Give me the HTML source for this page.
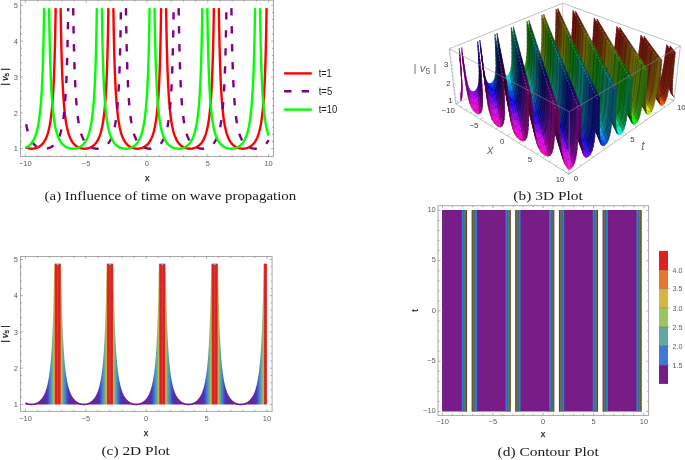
<!DOCTYPE html>
<html><head><meta charset="utf-8"><title>figure</title>
<style>html,body{margin:0;padding:0;background:#fff}svg{display:block}</style></head>
<body>
<svg width="685" height="460" viewBox="0 0 685 460">
<rect width="685" height="460" fill="#fff"/>
<rect x="20.50" y="0.30" width="253.00" height="156.20" fill="none" stroke="#a8a8a8" stroke-width="1"/>
<path d="M25.30 156.50v-2.5M25.30 0.30v2.5M86.12 156.50v-2.5M86.12 0.30v2.5M146.95 156.50v-2.5M146.95 0.30v2.5M207.77 156.50v-2.5M207.77 0.30v2.5M268.60 156.50v-2.5M268.60 0.30v2.5M37.47 156.50v-1.5M37.47 0.30v1.5M49.63 156.50v-1.5M49.63 0.30v1.5M61.79 156.50v-1.5M61.79 0.30v1.5M73.96 156.50v-1.5M73.96 0.30v1.5M98.29 156.50v-1.5M98.29 0.30v1.5M110.45 156.50v-1.5M110.45 0.30v1.5M122.62 156.50v-1.5M122.62 0.30v1.5M134.78 156.50v-1.5M134.78 0.30v1.5M159.11 156.50v-1.5M159.11 0.30v1.5M171.28 156.50v-1.5M171.28 0.30v1.5M183.44 156.50v-1.5M183.44 0.30v1.5M195.61 156.50v-1.5M195.61 0.30v1.5M219.94 156.50v-1.5M219.94 0.30v1.5M232.10 156.50v-1.5M232.10 0.30v1.5M244.27 156.50v-1.5M244.27 0.30v1.5M256.43 156.50v-1.5M256.43 0.30v1.5M20.50 148.70h2.5M273.50 148.70h-2.5M20.50 112.84h2.5M273.50 112.84h-2.5M20.50 76.98h2.5M273.50 76.98h-2.5M20.50 41.12h2.5M273.50 41.12h-2.5M20.50 5.26h2.5M273.50 5.26h-2.5M20.50 141.53h1.5M273.50 141.53h-1.5M20.50 134.36h1.5M273.50 134.36h-1.5M20.50 127.18h1.5M273.50 127.18h-1.5M20.50 120.01h1.5M273.50 120.01h-1.5M20.50 105.67h1.5M273.50 105.67h-1.5M20.50 98.50h1.5M273.50 98.50h-1.5M20.50 91.32h1.5M273.50 91.32h-1.5M20.50 84.15h1.5M273.50 84.15h-1.5M20.50 69.81h1.5M273.50 69.81h-1.5M20.50 62.64h1.5M273.50 62.64h-1.5M20.50 55.46h1.5M273.50 55.46h-1.5M20.50 48.29h1.5M273.50 48.29h-1.5M20.50 33.95h1.5M273.50 33.95h-1.5M20.50 26.78h1.5M273.50 26.78h-1.5M20.50 19.60h1.5M273.50 19.60h-1.5M20.50 12.43h1.5M273.50 12.43h-1.5" stroke="#808080" stroke-width="0.6" fill="none"/>
<text x="25.30" y="166.00" font-size="7.5" text-anchor="middle" fill="#5e5e5e" font-family="Liberation Sans, Arial, sans-serif">−10</text>
<text x="86.12" y="166.00" font-size="7.5" text-anchor="middle" fill="#5e5e5e" font-family="Liberation Sans, Arial, sans-serif">−5</text>
<text x="146.95" y="166.00" font-size="7.5" text-anchor="middle" fill="#5e5e5e" font-family="Liberation Sans, Arial, sans-serif">0</text>
<text x="207.77" y="166.00" font-size="7.5" text-anchor="middle" fill="#5e5e5e" font-family="Liberation Sans, Arial, sans-serif">5</text>
<text x="268.60" y="166.00" font-size="7.5" text-anchor="middle" fill="#5e5e5e" font-family="Liberation Sans, Arial, sans-serif">10</text>
<text x="18.00" y="151.40" font-size="7.5" text-anchor="end" fill="#5e5e5e" font-family="Liberation Sans, Arial, sans-serif">1</text>
<text x="18.00" y="115.54" font-size="7.5" text-anchor="end" fill="#5e5e5e" font-family="Liberation Sans, Arial, sans-serif">2</text>
<text x="18.00" y="79.68" font-size="7.5" text-anchor="end" fill="#5e5e5e" font-family="Liberation Sans, Arial, sans-serif">3</text>
<text x="18.00" y="43.82" font-size="7.5" text-anchor="end" fill="#5e5e5e" font-family="Liberation Sans, Arial, sans-serif">4</text>
<text x="18.00" y="7.96" font-size="7.5" text-anchor="end" fill="#5e5e5e" font-family="Liberation Sans, Arial, sans-serif">5</text>
<text x="147.2" y="180.6" font-size="9" text-anchor="middle" fill="#222" stroke="#222" stroke-width="0.25" font-family="Liberation Sans, Arial, sans-serif">x</text>
<text transform="translate(7.60 76.90) rotate(-90)" font-size="8.7" text-anchor="middle" fill="#222" stroke="#222" stroke-width="0.3" font-family="Liberation Sans, Arial, sans-serif">| <tspan font-style="italic">v</tspan><tspan font-size="6.26" dy="1.6">5</tspan><tspan dy="-1.6"> |</tspan></text>
<path d="M25.30,147.19L25.53,147.31L26.35,147.67L27.17,147.97L28.00,148.22L28.84,148.41L29.67,148.55L30.51,148.65L31.36,148.69L32.20,148.69L33.04,148.65L33.88,148.55L34.72,148.41L35.55,148.22L36.38,147.97L37.21,147.67L38.02,147.31L38.83,146.88L39.63,146.39L40.43,145.83L41.20,145.18L41.97,144.45L42.73,143.62L43.47,142.68L44.20,141.63L44.91,140.44L45.60,139.11L46.28,137.62L46.94,135.95L47.58,134.08L48.21,131.99L48.81,129.65L49.39,127.04L49.95,124.12L50.48,120.87L50.99,117.25L51.48,113.22L51.94,108.76L52.38,103.82L52.79,98.38L53.18,92.42L53.54,85.91L53.87,78.87L54.18,71.33L54.46,63.36L54.71,55.08L54.93,46.64L55.12,38.29L55.28,30.30L55.41,23.04L55.52,16.86L55.59,12.12L55.64,9.15L55.65,8.13L55.65,8.13M60.64,8.13L60.64,8.13L60.65,9.15L60.70,12.12L60.77,16.86L60.88,23.04L61.01,30.30L61.17,38.29L61.36,46.64L61.59,55.08L61.83,63.36L62.11,71.33L62.42,78.87L62.75,85.91L63.11,92.42L63.50,98.38L63.91,103.82L64.35,108.76L64.81,113.22L65.30,117.25L65.81,120.87L66.35,124.12L66.90,127.04L67.48,129.65L68.08,131.99L68.71,134.08L69.35,135.95L70.01,137.62L70.69,139.11L71.38,140.44L72.09,141.63L72.82,142.68L73.56,143.62L74.32,144.45L75.09,145.18L75.87,145.83L76.66,146.39L77.46,146.88L78.27,147.31L79.08,147.67L79.91,147.97L80.74,148.22L81.57,148.41L82.41,148.55L83.25,148.65L84.09,148.69L84.93,148.69L85.78,148.65L86.62,148.55L87.46,148.41L88.29,148.22L89.12,147.97L89.94,147.67L90.76,147.31L91.57,146.88L92.37,146.39L93.16,145.83L93.94,145.18L94.71,144.45L95.46,143.62L96.21,142.68L96.93,141.63L97.64,140.44L98.34,139.11L99.02,137.62L99.68,135.95L100.32,134.08L100.94,131.99L101.54,129.65L102.12,127.04L102.68,124.12L103.22,120.87L103.73,117.25L104.22,113.22L104.68,108.76L105.12,103.82L105.53,98.38L105.92,92.42L106.28,85.91L106.61,78.87L106.91,71.33L107.19,63.36L107.44,55.08L107.66,46.64L107.85,38.29L108.02,30.30L108.15,23.04L108.25,16.86L108.33,12.12L108.37,9.15L108.39,8.13L108.39,8.13M113.38,8.13L113.38,8.13L113.39,9.15L113.43,12.12L113.51,16.86L113.61,23.04L113.75,30.30L113.91,38.29L114.10,46.64L114.32,55.08L114.57,63.36L114.85,71.33L115.15,78.87L115.48,85.91L115.84,92.42L116.23,98.38L116.64,103.82L117.08,108.76L117.55,113.22L118.03,117.25L118.55,120.87L119.08,124.12L119.64,127.04L120.22,129.65L120.82,131.99L121.44,134.08L122.08,135.95L122.74,137.62L123.42,139.11L124.12,140.44L124.83,141.63L125.56,142.68L126.30,143.62L127.05,144.45L127.82,145.18L128.60,145.83L129.39,146.39L130.19,146.88L131.00,147.31L131.82,147.67L132.64,147.97L133.47,148.22L134.31,148.41L135.14,148.55L135.98,148.65L136.83,148.69L137.67,148.69L138.51,148.65L139.35,148.55L140.19,148.41L141.02,148.22L141.85,147.97L142.68,147.67L143.50,147.31L144.30,146.88L145.10,146.39L145.90,145.83L146.68,145.18L147.44,144.45L148.20,143.62L148.94,142.68L149.67,141.63L150.38,140.44L151.08,139.11L151.75,137.62L152.41,135.95L153.06,134.08L153.68,131.99L154.28,129.65L154.86,127.04L155.42,124.12L155.95,120.87L156.46,117.25L156.95,113.22L157.41,108.76L157.85,103.82L158.27,98.38L158.65,92.42L159.01,85.91L159.34,78.87L159.65,71.33L159.93,63.36L160.18,55.08L160.40,46.64L160.59,38.29L160.75,30.30L160.88,23.04L160.99,16.86L161.06,12.12L161.11,9.15L161.12,8.13L161.12,8.13M166.11,8.13L166.11,8.13L166.13,9.15L166.17,12.12L166.24,16.86L166.35,23.04L166.48,30.30L166.64,38.29L166.84,46.64L167.06,55.08L167.30,63.36L167.58,71.33L167.89,78.87L168.22,85.91L168.58,92.42L168.97,98.38L169.38,103.82L169.82,108.76L170.28,113.22L170.77,117.25L171.28,120.87L171.82,124.12L172.37,127.04L172.95,129.65L173.56,131.99L174.18,134.08L174.82,135.95L175.48,137.62L176.16,139.11L176.85,140.44L177.56,141.63L178.29,142.68L179.03,143.62L179.79,144.45L180.56,145.18L181.34,145.83L182.13,146.39L182.93,146.88L183.74,147.31L184.55,147.67L185.38,147.97L186.21,148.22L187.04,148.41L187.88,148.55L188.72,148.65L189.56,148.69L190.41,148.69L191.25,148.65L192.09,148.55L192.93,148.41L193.76,148.22L194.59,147.97L195.41,147.67L196.23,147.31L197.04,146.88L197.84,146.39L198.63,145.83L199.41,145.18L200.18,144.45L200.93,143.62L201.68,142.68L202.40,141.63L203.12,140.44L203.81,139.11L204.49,137.62L205.15,135.95L205.79,134.08L206.41,131.99L207.01,129.65L207.59,127.04L208.15,124.12L208.69,120.87L209.20,117.25L209.69,113.22L210.15,108.76L210.59,103.82L211.00,98.38L211.39,92.42L211.75,85.91L212.08,78.87L212.39,71.33L212.66,63.36L212.91,55.08L213.13,46.64L213.32,38.29L213.49,30.30L213.62,23.04L213.72,16.86L213.80,12.12L213.84,9.15L213.86,8.13L213.86,8.13M218.85,8.13L218.85,8.13L218.86,9.15L218.91,12.12L218.98,16.86L219.08,23.04L219.22,30.30L219.38,38.29L219.57,46.64L219.79,55.08L220.04,63.36L220.32,71.33L220.62,78.87L220.96,85.91L221.32,92.42L221.70,98.38L222.11,103.82L222.55,108.76L223.02,113.22L223.50,117.25L224.02,120.87L224.55,124.12L225.11,127.04L225.69,129.65L226.29,131.99L226.91,134.08L227.55,135.95L228.21,137.62L228.89,139.11L229.59,140.44L230.30,141.63L231.03,142.68L231.77,143.62L232.52,144.45L233.29,145.18L234.07,145.83L234.86,146.39L235.66,146.88L236.47,147.31L237.29,147.67L238.11,147.97L238.94,148.22L239.78,148.41L240.61,148.55L241.46,148.65L242.30,148.69L243.14,148.69L243.98,148.65L244.82,148.55L245.66,148.41L246.50,148.22L247.32,147.97L248.15,147.67L248.97,147.31L249.77,146.88L250.58,146.39L251.37,145.83L252.15,145.18L252.91,144.45L253.67,143.62L254.41,142.68L255.14,141.63L255.85,140.44L256.55,139.11L257.22,137.62L257.88,135.95L258.53,134.08L259.15,131.99L259.75,129.65L260.33,127.04L260.89,124.12L261.42,120.87L261.93,117.25L262.42,113.22L262.88,108.76L263.32,103.82L263.74,98.38L264.12,92.42L264.48,85.91L264.82,78.87L265.12,71.33L265.40,63.36L265.65,55.08L265.87,46.64L266.06,38.29L266.22,30.30L266.35,23.04L266.46,16.86L266.53,12.12L266.58,9.15L266.59,8.13L266.59,8.13" fill="none" stroke="#ff0000" stroke-width="2.4" stroke-linejoin="round"/>
<path d="M25.30,118.60L25.63,120.87L26.16,124.12L26.72,127.04L27.30,129.65L27.90,131.99L28.53,134.08L29.17,135.95L29.83,137.62L30.51,139.11L31.20,140.44L31.91,141.63L32.64,142.68L33.38,143.62L34.14,144.45L34.91,145.18L35.68,145.83L36.48,146.39L37.28,146.88L38.09,147.31L38.90,147.67L39.73,147.97L40.56,148.22L41.39,148.41L42.23,148.55L43.07,148.65L43.91,148.69L44.75,148.69L45.60,148.65L46.44,148.55L47.27,148.41L48.11,148.22L48.94,147.97L49.76,147.67L50.58,147.31L51.39,146.88L52.19,146.39L52.98,145.83L53.76,145.18L54.53,144.45L55.28,143.62L56.02,142.68L56.75,141.63L57.46,140.44L58.16,139.11L58.84,137.62L59.50,135.95L60.14,134.08L60.76,131.99L61.36,129.65L61.94,127.04L62.50,124.12L63.03,120.87L63.55,117.25L64.03,113.22L64.50,108.76L64.94,103.82L65.35,98.38L65.74,92.42L66.10,85.91L66.43,78.87L66.73,71.33L67.01,63.36L67.26,55.08L67.48,46.64L67.67,38.29L67.83,30.30L67.97,23.04L68.07,16.86L68.15,12.12L68.19,9.15L68.21,8.13L68.21,8.13" fill="none" stroke="#800080" stroke-width="2.4" stroke-linejoin="round" stroke-dasharray="7.3 10.7" stroke-dashoffset="12.3"/>
<path d="M73.19,8.13L73.19,8.13L73.21,9.15L73.25,12.12L73.33,16.86L73.43,23.04L73.56,30.30L73.73,38.29L73.92,46.64L74.14,55.08L74.39,63.36L74.67,71.33L74.97,78.87L75.30,85.91L75.66,92.42L76.05,98.38L76.46,103.82L76.90,108.76L77.36,113.22L77.85,117.25L78.36,120.87L78.90,124.12L79.46,127.04L80.04,129.65L80.64,131.99L81.26,134.08L81.90,135.95L82.56,137.62L83.24,139.11L83.94,140.44L84.65,141.63L85.37,142.68L86.12,143.62L86.87,144.45L87.64,145.18L88.42,145.83L89.21,146.39L90.01,146.88L90.82,147.31L91.64,147.67L92.46,147.97L93.29,148.22L94.13,148.41L94.96,148.55L95.80,148.65L96.65,148.69L97.49,148.69L98.33,148.65L99.17,148.55L100.01,148.41L100.84,148.22L101.67,147.97L102.50,147.67L103.31,147.31L104.12,146.88L104.92,146.39L105.71,145.83L106.49,145.18L107.26,144.45L108.02,143.62L108.76,142.68L109.49,141.63L110.20,140.44L110.89,139.11L111.57,137.62L112.23,135.95L112.87,134.08L113.50,131.99L114.10,129.65L114.68,127.04L115.23,124.12L115.77,120.87L116.28,117.25L116.77,113.22L117.23,108.76L117.67,103.82L118.08,98.38L118.47,92.42L118.83,85.91L119.16,78.87L119.47,71.33L119.75,63.36L120.00,55.08L120.22,46.64L120.41,38.29L120.57,30.30L120.70,23.04L120.81,16.86L120.88,12.12L120.93,9.15L120.94,8.13L120.94,8.13M125.93,8.13L125.93,8.13L125.94,9.15L125.99,12.12L126.06,16.86L126.17,23.04L126.30,30.30L126.46,38.29L126.65,46.64L126.87,55.08L127.12,63.36L127.40,71.33L127.71,78.87L128.04,85.91L128.40,92.42L128.79,98.38L129.20,103.82L129.64,108.76L130.10,113.22L130.59,117.25L131.10,120.87L131.64,124.12L132.19,127.04L132.77,129.65L133.37,131.99L134.00,134.08L134.64,135.95L135.30,137.62L135.98,139.11L136.67,140.44L137.38,141.63L138.11,142.68L138.85,143.62L139.61,144.45L140.38,145.18L141.16,145.83L141.95,146.39L142.75,146.88L143.56,147.31L144.37,147.67L145.20,147.97L146.03,148.22L146.86,148.41L147.70,148.55L148.54,148.65L149.38,148.69L150.22,148.69L151.07,148.65L151.91,148.55L152.74,148.41L153.58,148.22L154.41,147.97L155.23,147.67L156.05,147.31L156.86,146.88L157.66,146.39L158.45,145.83L159.23,145.18L160.00,144.45L160.75,143.62L161.50,142.68L162.22,141.63L162.93,140.44L163.63,139.11L164.31,137.62L164.97,135.95L165.61,134.08L166.23,131.99L166.83,129.65L167.41,127.04L167.97,124.12L168.51,120.87L169.02,117.25L169.51,113.22L169.97,108.76L170.41,103.82L170.82,98.38L171.21,92.42L171.57,85.91L171.90,78.87L172.20,71.33L172.48,63.36L172.73,55.08L172.95,46.64L173.14,38.29L173.31,30.30L173.44,23.04L173.54,16.86L173.62,12.12L173.66,9.15L173.68,8.13L173.68,8.13M178.66,8.13L178.66,8.13L178.68,9.15L178.72,12.12L178.80,16.86L178.90,23.04L179.04,30.30L179.20,38.29L179.39,46.64L179.61,55.08L179.86,63.36L180.14,71.33L180.44,78.87L180.77,85.91L181.13,92.42L181.52,98.38L181.93,103.82L182.37,108.76L182.84,113.22L183.32,117.25L183.84,120.87L184.37,124.12L184.93,127.04L185.51,129.65L186.11,131.99L186.73,134.08L187.37,135.95L188.03,137.62L188.71,139.11L189.41,140.44L190.12,141.63L190.85,142.68L191.59,143.62L192.34,144.45L193.11,145.18L193.89,145.83L194.68,146.39L195.48,146.88L196.29,147.31L197.11,147.67L197.93,147.97L198.76,148.22L199.60,148.41L200.43,148.55L201.27,148.65L202.12,148.69L202.96,148.69L203.80,148.65L204.64,148.55L205.48,148.41L206.31,148.22L207.14,147.97L207.97,147.67L208.78,147.31L209.59,146.88L210.39,146.39L211.19,145.83L211.97,145.18L212.73,144.45L213.49,143.62L214.23,142.68L214.96,141.63L215.67,140.44L216.37,139.11L217.04,137.62L217.70,135.95L218.34,134.08L218.97,131.99L219.57,129.65L220.15,127.04L220.71,124.12L221.24,120.87L221.75,117.25L222.24,113.22L222.70,108.76L223.14,103.82L223.56,98.38L223.94,92.42L224.30,85.91L224.63,78.87L224.94,71.33L225.22,63.36L225.47,55.08L225.69,46.64L225.88,38.29L226.04,30.30L226.17,23.04L226.28,16.86L226.35,12.12L226.40,9.15L226.41,8.13L226.41,8.13M231.40,8.13L231.40,8.13L231.41,9.15L231.46,12.12L231.53,16.86L231.64,23.04L231.77,30.30L231.93,38.29L232.12,46.64L232.35,55.08L232.59,63.36L232.87,71.33L233.18,78.87L233.51,85.91L233.87,92.42L234.26,98.38L234.67,103.82L235.11,108.76L235.57,113.22L236.06,117.25L236.57,120.87L237.11,124.12L237.66,127.04L238.24,129.65L238.84,131.99L239.47,134.08L240.11,135.95L240.77,137.62L241.45,139.11L242.14,140.44L242.85,141.63L243.58,142.68L244.32,143.62L245.08,144.45L245.85,145.18L246.63,145.83L247.42,146.39L248.22,146.88L249.03,147.31L249.84,147.67L250.67,147.97L251.50,148.22L252.33,148.41L253.17,148.55L254.01,148.65L254.85,148.69L255.69,148.69L256.54,148.65L257.38,148.55L258.22,148.41L259.05,148.22L259.88,147.97L260.70,147.67L261.52,147.31L262.33,146.88L263.13,146.39L263.92,145.83L264.70,145.18L265.47,144.45L266.22,143.62L266.97,142.68L267.69,141.63L268.40,140.44L268.60,140.09" fill="none" stroke="#800080" stroke-width="2.4" stroke-linejoin="round" stroke-dasharray="7.3 10.7"/>
<path d="M25.30,147.81L25.66,147.67L26.48,147.31L27.29,146.88L28.09,146.39L28.88,145.83L29.66,145.18L30.43,144.45L31.18,143.62L31.93,142.68L32.65,141.63L33.36,140.44L34.06,139.11L34.74,137.62L35.40,135.95L36.04,134.08L36.66,131.99L37.26,129.65L37.84,127.04L38.40,124.12L38.94,120.87L39.45,117.25L39.94,113.22L40.40,108.76L40.84,103.82L41.25,98.38L41.64,92.42L42.00,85.91L42.33,78.87L42.63,71.33L42.91,63.36L43.16,55.08L43.38,46.64L43.57,38.29L43.74,30.30L43.87,23.04L43.97,16.86L44.05,12.12L44.09,9.15L44.11,8.13L44.11,8.13M49.10,8.13L49.10,8.13L49.11,9.15L49.15,12.12L49.23,16.86L49.33,23.04L49.47,30.30L49.63,38.29L49.82,46.64L50.04,55.08L50.29,63.36L50.57,71.33L50.87,78.87L51.21,85.91L51.56,92.42L51.95,98.38L52.36,103.82L52.80,108.76L53.27,113.22L53.75,117.25L54.27,120.87L54.80,124.12L55.36,127.04L55.94,129.65L56.54,131.99L57.16,134.08L57.80,135.95L58.46,137.62L59.14,139.11L59.84,140.44L60.55,141.63L61.28,142.68L62.02,143.62L62.77,144.45L63.54,145.18L64.32,145.83L65.11,146.39L65.91,146.88L66.72,147.31L67.54,147.67L68.36,147.97L69.19,148.22L70.03,148.41L70.86,148.55L71.71,148.65L72.55,148.69L73.39,148.69L74.23,148.65L75.07,148.55L75.91,148.41L76.74,148.22L77.57,147.97L78.40,147.67L79.22,147.31L80.02,146.88L80.83,146.39L81.62,145.83L82.40,145.18L83.16,144.45L83.92,143.62L84.66,142.68L85.39,141.63L86.10,140.44L86.80,139.11L87.47,137.62L88.13,135.95L88.78,134.08L89.40,131.99L90.00,129.65L90.58,127.04L91.14,124.12L91.67,120.87L92.18,117.25L92.67,113.22L93.13,108.76L93.57,103.82L93.99,98.38L94.37,92.42L94.73,85.91L95.06,78.87L95.37,71.33L95.65,63.36L95.90,55.08L96.12,46.64L96.31,38.29L96.47,30.30L96.60,23.04L96.71,16.86L96.78,12.12L96.83,9.15L96.84,8.13L96.84,8.13M101.83,8.13L101.83,8.13L101.85,9.15L101.89,12.12L101.96,16.86L102.07,23.04L102.20,30.30L102.36,38.29L102.56,46.64L102.78,55.08L103.03,63.36L103.30,71.33L103.61,78.87L103.94,85.91L104.30,92.42L104.69,98.38L105.10,103.82L105.54,108.76L106.00,113.22L106.49,117.25L107.00,120.87L107.54,124.12L108.09,127.04L108.67,129.65L109.28,131.99L109.90,134.08L110.54,135.95L111.20,137.62L111.88,139.11L112.57,140.44L113.28,141.63L114.01,142.68L114.75,143.62L115.51,144.45L116.28,145.18L117.06,145.83L117.85,146.39L118.65,146.88L119.46,147.31L120.27,147.67L121.10,147.97L121.93,148.22L122.76,148.41L123.60,148.55L124.44,148.65L125.28,148.69L126.13,148.69L126.97,148.65L127.81,148.55L128.65,148.41L129.48,148.22L130.31,147.97L131.13,147.67L131.95,147.31L132.76,146.88L133.56,146.39L134.35,145.83L135.13,145.18L135.90,144.45L136.65,143.62L137.40,142.68L138.12,141.63L138.84,140.44L139.53,139.11L140.21,137.62L140.87,135.95L141.51,134.08L142.13,131.99L142.73,129.65L143.31,127.04L143.87,124.12L144.41,120.87L144.92,117.25L145.41,113.22L145.87,108.76L146.31,103.82L146.72,98.38L147.11,92.42L147.47,85.91L147.80,78.87L148.11,71.33L148.38,63.36L148.63,55.08L148.85,46.64L149.04,38.29L149.21,30.30L149.34,23.04L149.44,16.86L149.52,12.12L149.56,9.15L149.58,8.13L149.58,8.13M154.57,8.13L154.57,8.13L154.58,9.15L154.63,12.12L154.70,16.86L154.80,23.04L154.94,30.30L155.10,38.29L155.29,46.64L155.51,55.08L155.76,63.36L156.04,71.33L156.34,78.87L156.68,85.91L157.04,92.42L157.42,98.38L157.83,103.82L158.27,108.76L158.74,113.22L159.22,117.25L159.74,120.87L160.27,124.12L160.83,127.04L161.41,129.65L162.01,131.99L162.63,134.08L163.27,135.95L163.93,137.62L164.61,139.11L165.31,140.44L166.02,141.63L166.75,142.68L167.49,143.62L168.24,144.45L169.01,145.18L169.79,145.83L170.58,146.39L171.38,146.88L172.19,147.31L173.01,147.67L173.83,147.97L174.66,148.22L175.50,148.41L176.34,148.55L177.18,148.65L178.02,148.69L178.86,148.69L179.70,148.65L180.54,148.55L181.38,148.41L182.22,148.22L183.04,147.97L183.87,147.67L184.69,147.31L185.50,146.88L186.30,146.39L187.09,145.83L187.87,145.18L188.63,144.45L189.39,143.62L190.13,142.68L190.86,141.63L191.57,140.44L192.27,139.11L192.94,137.62L193.60,135.95L194.25,134.08L194.87,131.99L195.47,129.65L196.05,127.04L196.61,124.12L197.14,120.87L197.65,117.25L198.14,113.22L198.61,108.76L199.04,103.82L199.46,98.38L199.84,92.42L200.20,85.91L200.54,78.87L200.84,71.33L201.12,63.36L201.37,55.08L201.59,46.64L201.78,38.29L201.94,30.30L202.07,23.04L202.18,16.86L202.25,12.12L202.30,9.15L202.31,8.13L202.31,8.13M207.30,8.13L207.30,8.13L207.32,9.15L207.36,12.12L207.43,16.86L207.54,23.04L207.67,30.30L207.83,38.29L208.03,46.64L208.25,55.08L208.50,63.36L208.77,71.33L209.08,78.87L209.41,85.91L209.77,92.42L210.16,98.38L210.57,103.82L211.01,108.76L211.47,113.22L211.96,117.25L212.47,120.87L213.01,124.12L213.57,127.04L214.15,129.65L214.75,131.99L215.37,134.08L216.01,135.95L216.67,137.62L217.35,139.11L218.04,140.44L218.75,141.63L219.48,142.68L220.22,143.62L220.98,144.45L221.75,145.18L222.53,145.83L223.32,146.39L224.12,146.88L224.93,147.31L225.74,147.67L226.57,147.97L227.40,148.22L228.23,148.41L229.07,148.55L229.91,148.65L230.75,148.69L231.60,148.69L232.44,148.65L233.28,148.55L234.12,148.41L234.95,148.22L235.78,147.97L236.60,147.67L237.42,147.31L238.23,146.88L239.03,146.39L239.82,145.83L240.60,145.18L241.37,144.45L242.13,143.62L242.87,142.68L243.59,141.63L244.31,140.44L245.00,139.11L245.68,137.62L246.34,135.95L246.98,134.08L247.60,131.99L248.20,129.65L248.78,127.04L249.34,124.12L249.88,120.87L250.39,117.25L250.88,113.22L251.34,108.76L251.78,103.82L252.19,98.38L252.58,92.42L252.94,85.91L253.27,78.87L253.58,71.33L253.85,63.36L254.10,55.08L254.32,46.64L254.51,38.29L254.68,30.30L254.81,23.04L254.91,16.86L254.99,12.12L255.03,9.15L255.05,8.13L255.05,8.13M260.04,8.13L260.04,8.13L260.05,9.15L260.10,12.12L260.17,16.86L260.27,23.04L260.41,30.30L260.57,38.29L260.76,46.64L260.98,55.08L261.23,63.36L261.51,71.33L261.81,78.87L262.15,85.91L262.51,92.42L262.89,98.38L263.31,103.82L263.74,108.76L264.21,113.22L264.70,117.25L265.21,120.87L265.74,124.12L266.30,127.04L266.88,129.65L267.48,131.99L268.10,134.08L268.60,135.55" fill="none" stroke="#00ff00" stroke-width="2.4" stroke-linejoin="round"/>
<path d="M284.1 73.4H311.8" stroke="#ff0000" stroke-width="2.4"/>
<text x="318.7" y="76.9" font-size="10" textLength="13.0" lengthAdjust="spacingAndGlyphs" fill="#1a1a1a" font-family="Liberation Sans, Arial, sans-serif">t=1</text>
<path d="M284.1 91.3H311.8" stroke="#800080" stroke-width="2.4" stroke-dasharray="7.4 10.2"/>
<text x="318.7" y="94.8" font-size="10" textLength="13.6" lengthAdjust="spacingAndGlyphs" fill="#1a1a1a" font-family="Liberation Sans, Arial, sans-serif">t=5</text>
<path d="M284.1 109.6H311.8" stroke="#00ff00" stroke-width="2.4"/>
<text x="318.7" y="113.1" font-size="10" textLength="18.6" lengthAdjust="spacingAndGlyphs" fill="#1a1a1a" font-family="Liberation Sans, Arial, sans-serif">t=10</text>
<text x="44.6" y="199.7" font-size="12.5" textLength="251.6" lengthAdjust="spacingAndGlyphs" fill="#1a1a1a" font-family="Liberation Serif, Times New Roman, serif">(a) Influence of time on wave propagation</text>
<defs><linearGradient id="gc" gradientUnits="userSpaceOnUse" x1="57.67" y1="0" x2="109.99" y2="0" spreadMethod="repeat"><stop offset="0.0000" stop-color="#db2122"/><stop offset="0.0125" stop-color="#db2122"/><stop offset="0.0250" stop-color="#db2122"/><stop offset="0.0375" stop-color="#db2122"/><stop offset="0.0500" stop-color="#dd2d23"/><stop offset="0.0625" stop-color="#dfa139"/><stop offset="0.0750" stop-color="#aebd55"/><stop offset="0.0875" stop-color="#81b978"/><stop offset="0.1000" stop-color="#6aae91"/><stop offset="0.1125" stop-color="#5ca4a6"/><stop offset="0.1250" stop-color="#5197b8"/><stop offset="0.1375" stop-color="#498ac6"/><stop offset="0.1500" stop-color="#427ed0"/><stop offset="0.1625" stop-color="#4569c9"/><stop offset="0.1750" stop-color="#4657c4"/><stop offset="0.1875" stop-color="#4848bf"/><stop offset="0.2000" stop-color="#493bba"/><stop offset="0.2125" stop-color="#4c32b6"/><stop offset="0.2250" stop-color="#522fb0"/><stop offset="0.2375" stop-color="#572daa"/><stop offset="0.2500" stop-color="#5b2aa5"/><stop offset="0.2625" stop-color="#5f28a1"/><stop offset="0.2750" stop-color="#62279e"/><stop offset="0.2875" stop-color="#65259a"/><stop offset="0.3000" stop-color="#682498"/><stop offset="0.3125" stop-color="#6a2395"/><stop offset="0.3250" stop-color="#6c2293"/><stop offset="0.3375" stop-color="#6e2191"/><stop offset="0.3500" stop-color="#70208f"/><stop offset="0.3625" stop-color="#711f8e"/><stop offset="0.3750" stop-color="#731f8c"/><stop offset="0.3875" stop-color="#741e8b"/><stop offset="0.4000" stop-color="#751e8a"/><stop offset="0.4125" stop-color="#761d89"/><stop offset="0.4250" stop-color="#761d88"/><stop offset="0.4375" stop-color="#771c88"/><stop offset="0.4500" stop-color="#771c87"/><stop offset="0.4625" stop-color="#781c87"/><stop offset="0.4750" stop-color="#781c87"/><stop offset="0.4875" stop-color="#781c86"/><stop offset="0.5000" stop-color="#781c86"/><stop offset="0.5125" stop-color="#781c86"/><stop offset="0.5250" stop-color="#781c87"/><stop offset="0.5375" stop-color="#781c87"/><stop offset="0.5500" stop-color="#771c87"/><stop offset="0.5625" stop-color="#771c88"/><stop offset="0.5750" stop-color="#761d88"/><stop offset="0.5875" stop-color="#761d89"/><stop offset="0.6000" stop-color="#751e8a"/><stop offset="0.6125" stop-color="#741e8b"/><stop offset="0.6250" stop-color="#731f8c"/><stop offset="0.6375" stop-color="#711f8e"/><stop offset="0.6500" stop-color="#70208f"/><stop offset="0.6625" stop-color="#6e2191"/><stop offset="0.6750" stop-color="#6c2293"/><stop offset="0.6875" stop-color="#6a2395"/><stop offset="0.7000" stop-color="#682498"/><stop offset="0.7125" stop-color="#65259a"/><stop offset="0.7250" stop-color="#62279e"/><stop offset="0.7375" stop-color="#5f28a1"/><stop offset="0.7500" stop-color="#5b2aa5"/><stop offset="0.7625" stop-color="#572daa"/><stop offset="0.7750" stop-color="#522fb0"/><stop offset="0.7875" stop-color="#4c32b6"/><stop offset="0.8000" stop-color="#493bba"/><stop offset="0.8125" stop-color="#4848bf"/><stop offset="0.8250" stop-color="#4657c4"/><stop offset="0.8375" stop-color="#4569c9"/><stop offset="0.8500" stop-color="#427ed0"/><stop offset="0.8625" stop-color="#498ac6"/><stop offset="0.8750" stop-color="#5197b8"/><stop offset="0.8875" stop-color="#5ca4a6"/><stop offset="0.9000" stop-color="#6aae91"/><stop offset="0.9125" stop-color="#81b978"/><stop offset="0.9250" stop-color="#aebd55"/><stop offset="0.9375" stop-color="#dfa139"/><stop offset="0.9500" stop-color="#dd2d23"/><stop offset="0.9625" stop-color="#db2122"/><stop offset="0.9750" stop-color="#db2122"/><stop offset="0.9875" stop-color="#db2122"/><stop offset="1.0000" stop-color="#db2122"/></linearGradient></defs>
<path d="M25.50,404.40L25.50,403.01L26.14,403.31L26.95,403.62L27.77,403.89L28.60,404.09L29.43,404.24L30.26,404.34L31.09,404.39L31.92,404.39L32.75,404.34L33.58,404.24L34.41,404.09L35.24,403.89L36.06,403.62L36.87,403.31L37.68,402.92L38.48,402.48L39.27,401.96L40.05,401.36L40.82,400.68L41.58,399.91L42.33,399.04L43.06,398.06L43.78,396.95L44.48,395.71L45.17,394.32L45.84,392.77L46.49,391.03L47.13,389.09L47.74,386.93L48.34,384.51L48.91,381.82L49.46,378.83L49.99,375.50L50.50,371.80L50.98,367.70L51.44,363.16L51.87,358.16L52.28,352.66L52.66,346.66L53.02,340.13L53.34,333.10L53.65,325.59L53.92,317.69L54.17,309.50L54.38,301.21L54.57,293.02L54.73,285.23L54.87,278.17L54.97,272.18L55.04,267.61L55.09,264.73L55.10,263.75L55.10,263.75L55.10,404.40ZM60.23,404.40L60.23,263.75L60.23,263.75L60.25,264.73L60.29,267.61L60.36,272.18L60.47,278.17L60.60,285.23L60.76,293.02L60.95,301.21L61.17,309.50L61.41,317.69L61.69,325.59L61.99,333.10L62.32,340.13L62.67,346.66L63.06,352.66L63.46,358.16L63.90,363.16L64.35,367.70L64.84,371.80L65.34,375.50L65.87,378.83L66.42,381.82L67.00,384.51L67.59,386.93L68.21,389.09L68.84,391.03L69.49,392.77L70.16,394.32L70.85,395.71L71.55,396.95L72.27,398.06L73.00,399.04L73.75,399.91L74.51,400.68L75.28,401.36L76.06,401.96L76.85,402.48L77.65,402.92L78.46,403.31L79.28,403.62L80.10,403.89L80.92,404.09L81.75,404.24L82.58,404.34L83.41,404.39L84.24,404.39L85.08,404.34L85.91,404.24L86.74,404.09L87.56,403.89L88.38,403.62L89.19,403.31L90.00,402.92L90.80,402.48L91.59,401.96L92.38,401.36L93.15,400.68L93.91,399.91L94.65,399.04L95.39,398.06L96.10,396.95L96.81,395.71L97.49,394.32L98.17,392.77L98.82,391.03L99.45,389.09L100.07,386.93L100.66,384.51L101.23,381.82L101.78,378.83L102.31,375.50L102.82,371.80L103.30,367.70L103.76,363.16L104.19,358.16L104.60,352.66L104.98,346.66L105.34,340.13L105.67,333.10L105.97,325.59L106.24,317.69L106.49,309.50L106.71,301.21L106.90,293.02L107.06,285.23L107.19,278.17L107.29,272.18L107.37,267.61L107.41,264.73L107.42,263.75L107.42,263.75L107.42,404.40ZM112.56,404.40L112.56,263.75L112.56,263.75L112.57,264.73L112.61,267.61L112.69,272.18L112.79,278.17L112.92,285.23L113.08,293.02L113.27,301.21L113.49,309.50L113.74,317.69L114.01,325.59L114.31,333.10L114.64,340.13L115.00,346.66L115.38,352.66L115.79,358.16L116.22,363.16L116.68,367.70L117.16,371.80L117.67,375.50L118.20,378.83L118.75,381.82L119.32,384.51L119.91,386.93L120.53,389.09L121.16,391.03L121.81,392.77L122.49,394.32L123.17,395.71L123.88,396.95L124.59,398.06L125.33,399.04L126.07,399.91L126.83,400.68L127.60,401.36L128.39,401.96L129.18,402.48L129.98,402.92L130.79,403.31L131.60,403.62L132.42,403.89L133.24,404.09L134.07,404.24L134.90,404.34L135.74,404.39L136.57,404.39L137.40,404.34L138.23,404.24L139.06,404.09L139.88,403.89L140.70,403.62L141.52,403.31L142.33,402.92L143.13,402.48L143.92,401.96L144.70,401.36L145.47,400.68L146.23,399.91L146.98,399.04L147.71,398.06L148.43,396.95L149.13,395.71L149.82,394.32L150.49,392.77L151.14,391.03L151.77,389.09L152.39,386.93L152.98,384.51L153.56,381.82L154.11,378.83L154.64,375.50L155.14,371.80L155.63,367.70L156.08,363.16L156.52,358.16L156.92,352.66L157.31,346.66L157.66,340.13L157.99,333.10L158.29,325.59L158.57,317.69L158.81,309.50L159.03,301.21L159.22,293.02L159.38,285.23L159.51,278.17L159.62,272.18L159.69,267.61L159.73,264.73L159.75,263.75L159.75,263.75L159.75,404.40ZM164.88,404.40L164.88,263.75L164.88,263.75L164.89,264.73L164.94,267.61L165.01,272.18L165.11,278.17L165.25,285.23L165.41,293.02L165.60,301.21L165.81,309.50L166.06,317.69L166.33,325.59L166.64,333.10L166.96,340.13L167.32,346.66L167.70,352.66L168.11,358.16L168.54,363.16L169.00,367.70L169.48,371.80L169.99,375.50L170.52,378.83L171.07,381.82L171.64,384.51L172.24,386.93L172.85,389.09L173.49,391.03L174.14,392.77L174.81,394.32L175.50,395.71L176.20,396.95L176.92,398.06L177.65,399.04L178.40,399.91L179.16,400.68L179.93,401.36L180.71,401.96L181.50,402.48L182.30,402.92L183.11,403.31L183.92,403.62L184.74,403.89L185.57,404.09L186.40,404.24L187.23,404.34L188.06,404.39L188.89,404.39L189.72,404.34L190.55,404.24L191.38,404.09L192.21,403.89L193.03,403.62L193.84,403.31L194.65,402.92L195.45,402.48L196.24,401.96L197.02,401.36L197.79,400.68L198.55,399.91L199.30,399.04L200.03,398.06L200.75,396.95L201.45,395.71L202.14,394.32L202.81,392.77L203.46,391.03L204.10,389.09L204.71,386.93L205.31,384.51L205.88,381.82L206.43,378.83L206.96,375.50L207.47,371.80L207.95,367.70L208.41,363.16L208.84,358.16L209.25,352.66L209.63,346.66L209.99,340.13L210.31,333.10L210.62,325.59L210.89,317.69L211.14,309.50L211.35,301.21L211.54,293.02L211.70,285.23L211.84,278.17L211.94,272.18L212.01,267.61L212.06,264.73L212.07,263.75L212.07,263.75L212.07,404.40ZM217.20,404.40L217.20,263.75L217.20,263.75L217.22,264.73L217.26,267.61L217.33,272.18L217.44,278.17L217.57,285.23L217.73,293.02L217.92,301.21L218.14,309.50L218.38,317.69L218.66,325.59L218.96,333.10L219.29,340.13L219.64,346.66L220.03,352.66L220.43,358.16L220.87,363.16L221.32,367.70L221.81,371.80L222.31,375.50L222.84,378.83L223.39,381.82L223.97,384.51L224.56,386.93L225.18,389.09L225.81,391.03L226.46,392.77L227.13,394.32L227.82,395.71L228.52,396.95L229.24,398.06L229.97,399.04L230.72,399.91L231.48,400.68L232.25,401.36L233.03,401.96L233.82,402.48L234.62,402.92L235.43,403.31L236.25,403.62L237.07,403.89L237.89,404.09L238.72,404.24L239.55,404.34L240.38,404.39L241.22,404.39L242.05,404.34L242.88,404.24L243.71,404.09L244.53,403.89L245.35,403.62L246.17,403.31L246.97,402.92L247.77,402.48L248.56,401.96L249.35,401.36L250.12,400.68L250.88,399.91L251.62,399.04L252.36,398.06L253.07,396.95L253.78,395.71L254.47,394.32L255.14,392.77L255.79,391.03L256.42,389.09L257.04,386.93L257.63,384.51L258.20,381.82L258.75,378.83L259.28,375.50L259.79,371.80L260.27,367.70L260.73,363.16L261.16,358.16L261.57,352.66L261.95,346.66L262.31,340.13L262.64,333.10L262.94,325.59L263.21,317.69L263.46,309.50L263.68,301.21L263.87,293.02L264.03,285.23L264.16,278.17L264.26,272.18L264.34,267.61L264.38,264.73L264.39,263.75L264.39,263.75L264.39,404.40ZM55.10,404.40V263.75H60.23V404.40ZM107.42,404.40V263.75H112.56V404.40ZM159.75,404.40V263.75H164.88V404.40ZM212.07,404.40V263.75H217.20V404.40ZM264.39,404.40V263.75H266.90V404.40Z" fill="url(#gc)" stroke="none"/>
<path d="M25.50,403.01L26.14,403.31L26.95,403.62L27.77,403.89L28.60,404.09L29.43,404.24L30.26,404.34L31.09,404.39L31.92,404.39L32.75,404.34L33.58,404.24L34.41,404.09L35.24,403.89L36.06,403.62L36.87,403.31L37.68,402.92L38.48,402.48L39.27,401.96L40.05,401.36L40.82,400.68L41.58,399.91L42.33,399.04L43.06,398.06L43.78,396.95L44.48,395.71L45.17,394.32L45.84,392.77L46.49,391.03L47.13,389.09L47.74,386.93L48.34,384.51L48.91,381.82L49.46,378.83L49.99,375.50L50.50,371.80L50.98,367.70L51.44,363.16L51.87,358.16L52.28,352.66L52.66,346.66L53.02,340.13L53.34,333.10L53.65,325.59L53.92,317.69L54.17,309.50L54.38,301.21L54.57,293.02L54.73,285.23L54.87,278.17L54.97,272.18L55.04,267.61L55.09,264.73L55.10,263.75L55.10,263.75M60.23,263.75L60.23,263.75L60.25,264.73L60.29,267.61L60.36,272.18L60.47,278.17L60.60,285.23L60.76,293.02L60.95,301.21L61.17,309.50L61.41,317.69L61.69,325.59L61.99,333.10L62.32,340.13L62.67,346.66L63.06,352.66L63.46,358.16L63.90,363.16L64.35,367.70L64.84,371.80L65.34,375.50L65.87,378.83L66.42,381.82L67.00,384.51L67.59,386.93L68.21,389.09L68.84,391.03L69.49,392.77L70.16,394.32L70.85,395.71L71.55,396.95L72.27,398.06L73.00,399.04L73.75,399.91L74.51,400.68L75.28,401.36L76.06,401.96L76.85,402.48L77.65,402.92L78.46,403.31L79.28,403.62L80.10,403.89L80.92,404.09L81.75,404.24L82.58,404.34L83.41,404.39L84.24,404.39L85.08,404.34L85.91,404.24L86.74,404.09L87.56,403.89L88.38,403.62L89.19,403.31L90.00,402.92L90.80,402.48L91.59,401.96L92.38,401.36L93.15,400.68L93.91,399.91L94.65,399.04L95.39,398.06L96.10,396.95L96.81,395.71L97.49,394.32L98.17,392.77L98.82,391.03L99.45,389.09L100.07,386.93L100.66,384.51L101.23,381.82L101.78,378.83L102.31,375.50L102.82,371.80L103.30,367.70L103.76,363.16L104.19,358.16L104.60,352.66L104.98,346.66L105.34,340.13L105.67,333.10L105.97,325.59L106.24,317.69L106.49,309.50L106.71,301.21L106.90,293.02L107.06,285.23L107.19,278.17L107.29,272.18L107.37,267.61L107.41,264.73L107.42,263.75L107.42,263.75M112.56,263.75L112.56,263.75L112.57,264.73L112.61,267.61L112.69,272.18L112.79,278.17L112.92,285.23L113.08,293.02L113.27,301.21L113.49,309.50L113.74,317.69L114.01,325.59L114.31,333.10L114.64,340.13L115.00,346.66L115.38,352.66L115.79,358.16L116.22,363.16L116.68,367.70L117.16,371.80L117.67,375.50L118.20,378.83L118.75,381.82L119.32,384.51L119.91,386.93L120.53,389.09L121.16,391.03L121.81,392.77L122.49,394.32L123.17,395.71L123.88,396.95L124.59,398.06L125.33,399.04L126.07,399.91L126.83,400.68L127.60,401.36L128.39,401.96L129.18,402.48L129.98,402.92L130.79,403.31L131.60,403.62L132.42,403.89L133.24,404.09L134.07,404.24L134.90,404.34L135.74,404.39L136.57,404.39L137.40,404.34L138.23,404.24L139.06,404.09L139.88,403.89L140.70,403.62L141.52,403.31L142.33,402.92L143.13,402.48L143.92,401.96L144.70,401.36L145.47,400.68L146.23,399.91L146.98,399.04L147.71,398.06L148.43,396.95L149.13,395.71L149.82,394.32L150.49,392.77L151.14,391.03L151.77,389.09L152.39,386.93L152.98,384.51L153.56,381.82L154.11,378.83L154.64,375.50L155.14,371.80L155.63,367.70L156.08,363.16L156.52,358.16L156.92,352.66L157.31,346.66L157.66,340.13L157.99,333.10L158.29,325.59L158.57,317.69L158.81,309.50L159.03,301.21L159.22,293.02L159.38,285.23L159.51,278.17L159.62,272.18L159.69,267.61L159.73,264.73L159.75,263.75L159.75,263.75M164.88,263.75L164.88,263.75L164.89,264.73L164.94,267.61L165.01,272.18L165.11,278.17L165.25,285.23L165.41,293.02L165.60,301.21L165.81,309.50L166.06,317.69L166.33,325.59L166.64,333.10L166.96,340.13L167.32,346.66L167.70,352.66L168.11,358.16L168.54,363.16L169.00,367.70L169.48,371.80L169.99,375.50L170.52,378.83L171.07,381.82L171.64,384.51L172.24,386.93L172.85,389.09L173.49,391.03L174.14,392.77L174.81,394.32L175.50,395.71L176.20,396.95L176.92,398.06L177.65,399.04L178.40,399.91L179.16,400.68L179.93,401.36L180.71,401.96L181.50,402.48L182.30,402.92L183.11,403.31L183.92,403.62L184.74,403.89L185.57,404.09L186.40,404.24L187.23,404.34L188.06,404.39L188.89,404.39L189.72,404.34L190.55,404.24L191.38,404.09L192.21,403.89L193.03,403.62L193.84,403.31L194.65,402.92L195.45,402.48L196.24,401.96L197.02,401.36L197.79,400.68L198.55,399.91L199.30,399.04L200.03,398.06L200.75,396.95L201.45,395.71L202.14,394.32L202.81,392.77L203.46,391.03L204.10,389.09L204.71,386.93L205.31,384.51L205.88,381.82L206.43,378.83L206.96,375.50L207.47,371.80L207.95,367.70L208.41,363.16L208.84,358.16L209.25,352.66L209.63,346.66L209.99,340.13L210.31,333.10L210.62,325.59L210.89,317.69L211.14,309.50L211.35,301.21L211.54,293.02L211.70,285.23L211.84,278.17L211.94,272.18L212.01,267.61L212.06,264.73L212.07,263.75L212.07,263.75M217.20,263.75L217.20,263.75L217.22,264.73L217.26,267.61L217.33,272.18L217.44,278.17L217.57,285.23L217.73,293.02L217.92,301.21L218.14,309.50L218.38,317.69L218.66,325.59L218.96,333.10L219.29,340.13L219.64,346.66L220.03,352.66L220.43,358.16L220.87,363.16L221.32,367.70L221.81,371.80L222.31,375.50L222.84,378.83L223.39,381.82L223.97,384.51L224.56,386.93L225.18,389.09L225.81,391.03L226.46,392.77L227.13,394.32L227.82,395.71L228.52,396.95L229.24,398.06L229.97,399.04L230.72,399.91L231.48,400.68L232.25,401.36L233.03,401.96L233.82,402.48L234.62,402.92L235.43,403.31L236.25,403.62L237.07,403.89L237.89,404.09L238.72,404.24L239.55,404.34L240.38,404.39L241.22,404.39L242.05,404.34L242.88,404.24L243.71,404.09L244.53,403.89L245.35,403.62L246.17,403.31L246.97,402.92L247.77,402.48L248.56,401.96L249.35,401.36L250.12,400.68L250.88,399.91L251.62,399.04L252.36,398.06L253.07,396.95L253.78,395.71L254.47,394.32L255.14,392.77L255.79,391.03L256.42,389.09L257.04,386.93L257.63,384.51L258.20,381.82L258.75,378.83L259.28,375.50L259.79,371.80L260.27,367.70L260.73,363.16L261.16,358.16L261.57,352.66L261.95,346.66L262.31,340.13L262.64,333.10L262.94,325.59L263.21,317.69L263.46,309.50L263.68,301.21L263.87,293.02L264.03,285.23L264.16,278.17L264.26,272.18L264.34,267.61L264.38,264.73L264.39,263.75L264.39,263.75" fill="none" stroke="url(#gc)" stroke-width="1.7"/>
<path d="M57.67 263.35V404.40M109.99 263.35V404.40M162.31 263.35V404.40M214.64 263.35V404.40" fill="none" stroke="#fff" stroke-opacity="0.16" stroke-width="0.8"/>
<ellipse cx="57.67" cy="264.25" rx="1.15" ry="0.85" fill="#86b4f2"/>
<ellipse cx="109.99" cy="264.25" rx="1.15" ry="0.85" fill="#86b4f2"/>
<ellipse cx="162.31" cy="264.25" rx="1.15" ry="0.85" fill="#86b4f2"/>
<ellipse cx="214.64" cy="264.25" rx="1.15" ry="0.85" fill="#86b4f2"/>
<rect x="20.50" y="256.50" width="251.60" height="154.90" fill="none" stroke="#a8a8a8" stroke-width="1"/>
<path d="M25.50 411.40v-2.5M25.50 256.50v2.5M85.85 411.40v-2.5M85.85 256.50v2.5M146.20 411.40v-2.5M146.20 256.50v2.5M206.55 411.40v-2.5M206.55 256.50v2.5M266.90 411.40v-2.5M266.90 256.50v2.5M37.57 411.40v-1.5M37.57 256.50v1.5M49.64 411.40v-1.5M49.64 256.50v1.5M61.71 411.40v-1.5M61.71 256.50v1.5M73.78 411.40v-1.5M73.78 256.50v1.5M97.92 411.40v-1.5M97.92 256.50v1.5M109.99 411.40v-1.5M109.99 256.50v1.5M122.06 411.40v-1.5M122.06 256.50v1.5M134.13 411.40v-1.5M134.13 256.50v1.5M158.27 411.40v-1.5M158.27 256.50v1.5M170.34 411.40v-1.5M170.34 256.50v1.5M182.41 411.40v-1.5M182.41 256.50v1.5M194.48 411.40v-1.5M194.48 256.50v1.5M218.62 411.40v-1.5M218.62 256.50v1.5M230.69 411.40v-1.5M230.69 256.50v1.5M242.76 411.40v-1.5M242.76 256.50v1.5M254.83 411.40v-1.5M254.83 256.50v1.5M20.50 404.40h2.5M272.10 404.40h-2.5M20.50 368.15h2.5M272.10 368.15h-2.5M20.50 331.90h2.5M272.10 331.90h-2.5M20.50 295.65h2.5M272.10 295.65h-2.5M20.50 259.40h2.5M272.10 259.40h-2.5M20.50 397.15h1.5M272.10 397.15h-1.5M20.50 389.90h1.5M272.10 389.90h-1.5M20.50 382.65h1.5M272.10 382.65h-1.5M20.50 375.40h1.5M272.10 375.40h-1.5M20.50 360.90h1.5M272.10 360.90h-1.5M20.50 353.65h1.5M272.10 353.65h-1.5M20.50 346.40h1.5M272.10 346.40h-1.5M20.50 339.15h1.5M272.10 339.15h-1.5M20.50 324.65h1.5M272.10 324.65h-1.5M20.50 317.40h1.5M272.10 317.40h-1.5M20.50 310.15h1.5M272.10 310.15h-1.5M20.50 302.90h1.5M272.10 302.90h-1.5M20.50 288.40h1.5M272.10 288.40h-1.5M20.50 281.15h1.5M272.10 281.15h-1.5M20.50 273.90h1.5M272.10 273.90h-1.5M20.50 266.65h1.5M272.10 266.65h-1.5" stroke="#808080" stroke-width="0.6" fill="none"/>
<text x="25.50" y="420.90" font-size="7.5" text-anchor="middle" fill="#5e5e5e" font-family="Liberation Sans, Arial, sans-serif">−10</text>
<text x="85.85" y="420.90" font-size="7.5" text-anchor="middle" fill="#5e5e5e" font-family="Liberation Sans, Arial, sans-serif">−5</text>
<text x="146.20" y="420.90" font-size="7.5" text-anchor="middle" fill="#5e5e5e" font-family="Liberation Sans, Arial, sans-serif">0</text>
<text x="206.55" y="420.90" font-size="7.5" text-anchor="middle" fill="#5e5e5e" font-family="Liberation Sans, Arial, sans-serif">5</text>
<text x="266.90" y="420.90" font-size="7.5" text-anchor="middle" fill="#5e5e5e" font-family="Liberation Sans, Arial, sans-serif">10</text>
<text x="18.00" y="407.10" font-size="7.5" text-anchor="end" fill="#5e5e5e" font-family="Liberation Sans, Arial, sans-serif">1</text>
<text x="18.00" y="370.85" font-size="7.5" text-anchor="end" fill="#5e5e5e" font-family="Liberation Sans, Arial, sans-serif">2</text>
<text x="18.00" y="334.60" font-size="7.5" text-anchor="end" fill="#5e5e5e" font-family="Liberation Sans, Arial, sans-serif">3</text>
<text x="18.00" y="298.35" font-size="7.5" text-anchor="end" fill="#5e5e5e" font-family="Liberation Sans, Arial, sans-serif">4</text>
<text x="18.00" y="262.10" font-size="7.5" text-anchor="end" fill="#5e5e5e" font-family="Liberation Sans, Arial, sans-serif">5</text>
<text x="146" y="436.4" font-size="9" text-anchor="middle" fill="#222" stroke="#222" stroke-width="0.25" font-family="Liberation Sans, Arial, sans-serif">x</text>
<text transform="translate(7.60 334.00) rotate(-90)" font-size="8.7" text-anchor="middle" fill="#222" stroke="#222" stroke-width="0.3" font-family="Liberation Sans, Arial, sans-serif">| <tspan font-style="italic">v</tspan><tspan font-size="6.26" dy="1.6">5</tspan><tspan dy="-1.6"> |</tspan></text>
<text x="101.5" y="455.4" font-size="12.5" textLength="68.4" lengthAdjust="spacingAndGlyphs" fill="#1a1a1a" font-family="Liberation Serif, Times New Roman, serif">(c) 2D Plot</text>
<rect x="442.05" y="210.00" width="199.75" height="201.50" fill="#781c87"/>
<clipPath id="cd"><rect x="442.05" y="210.00" width="199.75" height="201.50"/></clipPath>
<g clip-path="url(#cd)">
<rect x="461.69" y="210.00" width="15.29" height="201.50" fill="#3f78d6"/>
<rect x="464.10" y="210.00" width="10.47" height="201.50" fill="#5fa9a0"/>
<rect x="465.30" y="210.00" width="8.08" height="201.50" fill="#9cc562"/>
<rect x="466.03" y="210.00" width="6.61" height="201.50" fill="#d6b640"/>
<rect x="466.53" y="210.00" width="5.60" height="201.50" fill="#e5772f"/>
<rect x="466.90" y="210.00" width="4.87" height="201.50" fill="#db2121"/>
<rect x="467.18" y="210.00" width="4.31" height="201.50" fill="#ffffff"/>
<path d="M464.10 210.00V411.50M474.57 210.00V411.50M465.30 210.00V411.50M473.38 210.00V411.50M466.03 210.00V411.50M472.64 210.00V411.50M466.53 210.00V411.50M472.14 210.00V411.50M466.90 210.00V411.50M471.77 210.00V411.50" stroke="#2b2418" stroke-opacity="0.8" stroke-width="0.55" fill="none"/>
<path d="M461.69 210.00V411.50M476.98 210.00V411.50" stroke="#2b2418" stroke-opacity="0.3" stroke-width="0.4" fill="none"/>
<rect x="505.35" y="210.00" width="15.29" height="201.50" fill="#3f78d6"/>
<rect x="507.75" y="210.00" width="10.47" height="201.50" fill="#5fa9a0"/>
<rect x="508.95" y="210.00" width="8.08" height="201.50" fill="#9cc562"/>
<rect x="509.69" y="210.00" width="6.61" height="201.50" fill="#d6b640"/>
<rect x="510.19" y="210.00" width="5.60" height="201.50" fill="#e5772f"/>
<rect x="510.56" y="210.00" width="4.87" height="201.50" fill="#db2121"/>
<rect x="510.84" y="210.00" width="4.31" height="201.50" fill="#ffffff"/>
<path d="M507.75 210.00V411.50M518.23 210.00V411.50M508.95 210.00V411.50M517.03 210.00V411.50M509.69 210.00V411.50M516.29 210.00V411.50M510.19 210.00V411.50M515.79 210.00V411.50M510.56 210.00V411.50M515.42 210.00V411.50" stroke="#2b2418" stroke-opacity="0.8" stroke-width="0.55" fill="none"/>
<path d="M505.35 210.00V411.50M520.63 210.00V411.50" stroke="#2b2418" stroke-opacity="0.3" stroke-width="0.4" fill="none"/>
<rect x="549.00" y="210.00" width="15.29" height="201.50" fill="#3f78d6"/>
<rect x="551.41" y="210.00" width="10.47" height="201.50" fill="#5fa9a0"/>
<rect x="552.60" y="210.00" width="8.08" height="201.50" fill="#9cc562"/>
<rect x="553.34" y="210.00" width="6.61" height="201.50" fill="#d6b640"/>
<rect x="553.84" y="210.00" width="5.60" height="201.50" fill="#e5772f"/>
<rect x="554.21" y="210.00" width="4.87" height="201.50" fill="#db2121"/>
<rect x="554.49" y="210.00" width="4.31" height="201.50" fill="#ffffff"/>
<path d="M551.41 210.00V411.50M561.88 210.00V411.50M552.60 210.00V411.50M560.68 210.00V411.50M553.34 210.00V411.50M559.95 210.00V411.50M553.84 210.00V411.50M559.45 210.00V411.50M554.21 210.00V411.50M559.08 210.00V411.50" stroke="#2b2418" stroke-opacity="0.8" stroke-width="0.55" fill="none"/>
<path d="M549.00 210.00V411.50M564.29 210.00V411.50" stroke="#2b2418" stroke-opacity="0.3" stroke-width="0.4" fill="none"/>
<rect x="592.65" y="210.00" width="15.29" height="201.50" fill="#3f78d6"/>
<rect x="595.06" y="210.00" width="10.47" height="201.50" fill="#5fa9a0"/>
<rect x="596.26" y="210.00" width="8.08" height="201.50" fill="#9cc562"/>
<rect x="596.99" y="210.00" width="6.61" height="201.50" fill="#d6b640"/>
<rect x="597.50" y="210.00" width="5.60" height="201.50" fill="#e5772f"/>
<rect x="597.86" y="210.00" width="4.87" height="201.50" fill="#db2121"/>
<rect x="598.14" y="210.00" width="4.31" height="201.50" fill="#ffffff"/>
<path d="M595.06 210.00V411.50M605.53 210.00V411.50M596.26 210.00V411.50M604.34 210.00V411.50M596.99 210.00V411.50M603.60 210.00V411.50M597.50 210.00V411.50M603.10 210.00V411.50M597.86 210.00V411.50M602.73 210.00V411.50" stroke="#2b2418" stroke-opacity="0.8" stroke-width="0.55" fill="none"/>
<path d="M592.65 210.00V411.50M607.94 210.00V411.50" stroke="#2b2418" stroke-opacity="0.3" stroke-width="0.4" fill="none"/>
<rect x="636.31" y="210.00" width="15.29" height="201.50" fill="#3f78d6"/>
<rect x="638.71" y="210.00" width="10.47" height="201.50" fill="#5fa9a0"/>
<rect x="639.91" y="210.00" width="8.08" height="201.50" fill="#9cc562"/>
<rect x="640.65" y="210.00" width="6.61" height="201.50" fill="#d6b640"/>
<rect x="641.15" y="210.00" width="5.60" height="201.50" fill="#e5772f"/>
<rect x="641.52" y="210.00" width="4.87" height="201.50" fill="#db2121"/>
<rect x="641.80" y="210.00" width="4.31" height="201.50" fill="#ffffff"/>
<path d="M638.71 210.00V411.50M649.19 210.00V411.50M639.91 210.00V411.50M647.99 210.00V411.50M640.65 210.00V411.50M647.25 210.00V411.50M641.15 210.00V411.50M646.75 210.00V411.50M641.52 210.00V411.50M646.38 210.00V411.50" stroke="#2b2418" stroke-opacity="0.8" stroke-width="0.55" fill="none"/>
<path d="M636.31 210.00V411.50M651.59 210.00V411.50" stroke="#2b2418" stroke-opacity="0.3" stroke-width="0.4" fill="none"/>
</g>
<rect x="467.18" y="209.00" width="4.31" height="203.50" fill="#fff"/>
<rect x="510.84" y="209.00" width="4.31" height="203.50" fill="#fff"/>
<rect x="554.49" y="209.00" width="4.31" height="203.50" fill="#fff"/>
<rect x="598.14" y="209.00" width="4.31" height="203.50" fill="#fff"/>
<rect x="641.80" y="209.00" width="1.00" height="203.50" fill="#fff"/>
<rect x="438.00" y="205.70" width="210.60" height="209.70" fill="none" stroke="#a8a8a8" stroke-width="1"/>
<path d="M442.50 415.40v-2.5M442.50 205.70v2.5M492.85 415.40v-2.5M492.85 205.70v2.5M543.20 415.40v-2.5M543.20 205.70v2.5M593.55 415.40v-2.5M593.55 205.70v2.5M643.90 415.40v-2.5M643.90 205.70v2.5M452.57 415.40v-1.5M452.57 205.70v1.5M462.64 415.40v-1.5M462.64 205.70v1.5M472.71 415.40v-1.5M472.71 205.70v1.5M482.78 415.40v-1.5M482.78 205.70v1.5M502.92 415.40v-1.5M502.92 205.70v1.5M512.99 415.40v-1.5M512.99 205.70v1.5M523.06 415.40v-1.5M523.06 205.70v1.5M533.13 415.40v-1.5M533.13 205.70v1.5M553.27 415.40v-1.5M553.27 205.70v1.5M563.34 415.40v-1.5M563.34 205.70v1.5M573.41 415.40v-1.5M573.41 205.70v1.5M583.48 415.40v-1.5M583.48 205.70v1.5M603.62 415.40v-1.5M603.62 205.70v1.5M613.69 415.40v-1.5M613.69 205.70v1.5M623.76 415.40v-1.5M623.76 205.70v1.5M633.83 415.40v-1.5M633.83 205.70v1.5M438.00 411.50h2.5M648.60 411.50h-2.5M438.00 361.22h2.5M648.60 361.22h-2.5M438.00 310.95h2.5M648.60 310.95h-2.5M438.00 260.68h2.5M648.60 260.68h-2.5M438.00 210.40h2.5M648.60 210.40h-2.5M438.00 401.44h1.5M648.60 401.44h-1.5M438.00 391.39h1.5M648.60 391.39h-1.5M438.00 381.33h1.5M648.60 381.33h-1.5M438.00 371.28h1.5M648.60 371.28h-1.5M438.00 351.17h1.5M648.60 351.17h-1.5M438.00 341.12h1.5M648.60 341.12h-1.5M438.00 331.06h1.5M648.60 331.06h-1.5M438.00 321.00h1.5M648.60 321.00h-1.5M438.00 300.89h1.5M648.60 300.89h-1.5M438.00 290.84h1.5M648.60 290.84h-1.5M438.00 280.78h1.5M648.60 280.78h-1.5M438.00 270.73h1.5M648.60 270.73h-1.5M438.00 250.62h1.5M648.60 250.62h-1.5M438.00 240.56h1.5M648.60 240.56h-1.5M438.00 230.51h1.5M648.60 230.51h-1.5M438.00 220.45h1.5M648.60 220.45h-1.5" stroke="#808080" stroke-width="0.6" fill="none"/>
<text x="442.50" y="423.50" font-size="7.5" text-anchor="middle" fill="#5e5e5e" font-family="Liberation Sans, Arial, sans-serif">−10</text>
<text x="492.85" y="423.50" font-size="7.5" text-anchor="middle" fill="#5e5e5e" font-family="Liberation Sans, Arial, sans-serif">−5</text>
<text x="543.20" y="423.50" font-size="7.5" text-anchor="middle" fill="#5e5e5e" font-family="Liberation Sans, Arial, sans-serif">0</text>
<text x="593.55" y="423.50" font-size="7.5" text-anchor="middle" fill="#5e5e5e" font-family="Liberation Sans, Arial, sans-serif">5</text>
<text x="643.90" y="423.50" font-size="7.5" text-anchor="middle" fill="#5e5e5e" font-family="Liberation Sans, Arial, sans-serif">10</text>
<text x="435.80" y="413.30" font-size="7.5" text-anchor="end" fill="#5e5e5e" font-family="Liberation Sans, Arial, sans-serif">−10</text>
<text x="435.80" y="363.02" font-size="7.5" text-anchor="end" fill="#5e5e5e" font-family="Liberation Sans, Arial, sans-serif">−5</text>
<text x="435.80" y="312.75" font-size="7.5" text-anchor="end" fill="#5e5e5e" font-family="Liberation Sans, Arial, sans-serif">0</text>
<text x="435.80" y="262.48" font-size="7.5" text-anchor="end" fill="#5e5e5e" font-family="Liberation Sans, Arial, sans-serif">5</text>
<text x="435.80" y="212.20" font-size="7.5" text-anchor="end" fill="#5e5e5e" font-family="Liberation Sans, Arial, sans-serif">10</text>
<text x="543.1" y="436.9" font-size="9" text-anchor="middle" fill="#222" stroke="#222" stroke-width="0.25" font-family="Liberation Sans, Arial, sans-serif">x</text>
<text transform="translate(418.3 310.6) rotate(-90)" font-size="9" stroke="#222" stroke-width="0.25" text-anchor="middle" fill="#222" font-family="Liberation Sans, Arial, sans-serif">t</text>
<rect x="659.0" y="365.10" width="9.00" height="18.80" fill="#781c87"/>
<rect x="659.0" y="346.00" width="9.00" height="19.10" fill="#3f78d6"/>
<rect x="659.0" y="326.90" width="9.00" height="19.10" fill="#5fa9a0"/>
<rect x="659.0" y="307.90" width="9.00" height="19.00" fill="#9cc562"/>
<rect x="659.0" y="288.80" width="9.00" height="19.10" fill="#d6b640"/>
<rect x="659.0" y="270.00" width="9.00" height="18.80" fill="#e5772f"/>
<rect x="659.0" y="250.90" width="9.00" height="19.10" fill="#db2121"/>
<path d="M659.0 365.10H670.20" stroke="#555" stroke-opacity="0.7" stroke-width="0.5"/>
<text x="672.60" y="367.70" font-size="7.1" fill="#5e5e5e" font-family="Liberation Sans, Arial, sans-serif">1.5</text>
<path d="M659.0 346.00H670.20" stroke="#555" stroke-opacity="0.7" stroke-width="0.5"/>
<text x="672.60" y="348.60" font-size="7.1" fill="#5e5e5e" font-family="Liberation Sans, Arial, sans-serif">2.0</text>
<path d="M659.0 326.90H670.20" stroke="#555" stroke-opacity="0.7" stroke-width="0.5"/>
<text x="672.60" y="329.50" font-size="7.1" fill="#5e5e5e" font-family="Liberation Sans, Arial, sans-serif">2.5</text>
<path d="M659.0 307.90H670.20" stroke="#555" stroke-opacity="0.7" stroke-width="0.5"/>
<text x="672.60" y="310.50" font-size="7.1" fill="#5e5e5e" font-family="Liberation Sans, Arial, sans-serif">3.0</text>
<path d="M659.0 288.80H670.20" stroke="#555" stroke-opacity="0.7" stroke-width="0.5"/>
<text x="672.60" y="291.40" font-size="7.1" fill="#5e5e5e" font-family="Liberation Sans, Arial, sans-serif">3.5</text>
<path d="M659.0 270.00H670.20" stroke="#555" stroke-opacity="0.7" stroke-width="0.5"/>
<text x="672.60" y="272.60" font-size="7.1" fill="#5e5e5e" font-family="Liberation Sans, Arial, sans-serif">4.0</text>
<text x="497.6" y="455.9" font-size="12.5" textLength="101.3" lengthAdjust="spacingAndGlyphs" fill="#1a1a1a" font-family="Liberation Serif, Times New Roman, serif">(d) Contour Plot</text>
<defs><linearGradient id="s0" gradientUnits="userSpaceOnUse" x1="675.3" y1="98.0" x2="674.7" y2="97.0"><stop offset="-0.000" stop-color="#f00f0a"/><stop offset="1.000" stop-color="#f00a0a"/></linearGradient><linearGradient id="s1" gradientUnits="userSpaceOnUse" x1="674.0" y1="97.3" x2="671.9" y2="94.3"><stop offset="-0.000" stop-color="#e71709"/><stop offset="1.000" stop-color="#e70909"/></linearGradient><linearGradient id="s2" gradientUnits="userSpaceOnUse" x1="673.0" y1="94.8" x2="670.0" y2="90.5"><stop offset="-0.000" stop-color="#4e0f09"/><stop offset="1.000" stop-color="#4e0909"/></linearGradient><linearGradient id="s3" gradientUnits="userSpaceOnUse" x1="672.6" y1="91.4" x2="669.0" y2="86.4"><stop offset="-0.000" stop-color="#591209"/><stop offset="1.000" stop-color="#590909"/></linearGradient><linearGradient id="s4" gradientUnits="userSpaceOnUse" x1="672.5" y1="87.7" x2="668.6" y2="82.2"><stop offset="-0.000" stop-color="#5e1309"/><stop offset="1.000" stop-color="#5e0909"/></linearGradient><linearGradient id="s5" gradientUnits="userSpaceOnUse" x1="672.6" y1="83.8" x2="668.4" y2="77.9"><stop offset="-0.000" stop-color="#611409"/><stop offset="1.000" stop-color="#610909"/></linearGradient><linearGradient id="s6" gradientUnits="userSpaceOnUse" x1="672.9" y1="79.8" x2="668.4" y2="73.7"><stop offset="-0.000" stop-color="#631509"/><stop offset="1.000" stop-color="#630909"/></linearGradient><linearGradient id="s7" gradientUnits="userSpaceOnUse" x1="673.2" y1="75.7" x2="668.6" y2="69.5"><stop offset="-0.000" stop-color="#641609"/><stop offset="1.000" stop-color="#640909"/></linearGradient><linearGradient id="s8" gradientUnits="userSpaceOnUse" x1="673.5" y1="71.6" x2="668.8" y2="65.2"><stop offset="-0.000" stop-color="#641609"/><stop offset="1.000" stop-color="#640909"/></linearGradient><linearGradient id="s9" gradientUnits="userSpaceOnUse" x1="673.9" y1="67.4" x2="669.0" y2="61.0"><stop offset="-0.000" stop-color="#651709"/><stop offset="1.000" stop-color="#650909"/></linearGradient><linearGradient id="s10" gradientUnits="userSpaceOnUse" x1="674.3" y1="63.1" x2="669.3" y2="56.7"><stop offset="-0.000" stop-color="#651709"/><stop offset="1.000" stop-color="#650909"/></linearGradient><linearGradient id="s11" gradientUnits="userSpaceOnUse" x1="674.7" y1="58.8" x2="669.6" y2="52.4"><stop offset="-0.000" stop-color="#661709"/><stop offset="1.000" stop-color="#660909"/></linearGradient><linearGradient id="s12" gradientUnits="userSpaceOnUse" x1="675.1" y1="54.5" x2="669.9" y2="48.0"><stop offset="-0.000" stop-color="#661709"/><stop offset="1.000" stop-color="#660909"/></linearGradient><linearGradient id="s13" gradientUnits="userSpaceOnUse" x1="673.4" y1="55.6" x2="666.4" y2="46.7"><stop offset="-0.000" stop-color="#691d09"/><stop offset="1.000" stop-color="#690909"/></linearGradient><linearGradient id="s14" gradientUnits="userSpaceOnUse" x1="672.8" y1="60.0" x2="665.8" y2="51.0"><stop offset="-0.000" stop-color="#691d09"/><stop offset="1.000" stop-color="#690909"/></linearGradient><linearGradient id="s15" gradientUnits="userSpaceOnUse" x1="672.3" y1="64.4" x2="665.2" y2="55.2"><stop offset="-0.000" stop-color="#6a1e09"/><stop offset="1.000" stop-color="#6a0909"/></linearGradient><linearGradient id="s16" gradientUnits="userSpaceOnUse" x1="671.7" y1="68.7" x2="664.6" y2="59.3"><stop offset="-0.000" stop-color="#6a1e09"/><stop offset="1.000" stop-color="#6a0909"/></linearGradient><linearGradient id="s17" gradientUnits="userSpaceOnUse" x1="671.1" y1="73.0" x2="664.0" y2="63.4"><stop offset="-0.000" stop-color="#6a1f09"/><stop offset="1.000" stop-color="#6a0909"/></linearGradient><linearGradient id="s18" gradientUnits="userSpaceOnUse" x1="670.6" y1="77.4" x2="663.3" y2="67.4"><stop offset="-0.000" stop-color="#6b1f09"/><stop offset="1.000" stop-color="#6b0909"/></linearGradient><linearGradient id="s19" gradientUnits="userSpaceOnUse" x1="669.9" y1="81.7" x2="662.5" y2="71.3"><stop offset="-0.000" stop-color="#6c2009"/><stop offset="1.000" stop-color="#6c0909"/></linearGradient><linearGradient id="s20" gradientUnits="userSpaceOnUse" x1="669.3" y1="86.0" x2="661.7" y2="75.2"><stop offset="-0.000" stop-color="#6e2109"/><stop offset="1.000" stop-color="#6e0909"/></linearGradient><linearGradient id="s21" gradientUnits="userSpaceOnUse" x1="668.6" y1="90.3" x2="660.7" y2="78.9"><stop offset="-0.000" stop-color="#702309"/><stop offset="1.000" stop-color="#700909"/></linearGradient><linearGradient id="s22" gradientUnits="userSpaceOnUse" x1="667.8" y1="94.6" x2="659.5" y2="82.4"><stop offset="-0.000" stop-color="#752609"/><stop offset="1.000" stop-color="#750909"/></linearGradient><linearGradient id="s23" gradientUnits="userSpaceOnUse" x1="666.9" y1="99.0" x2="657.8" y2="85.3"><stop offset="-0.000" stop-color="#802c09"/><stop offset="1.000" stop-color="#800909"/></linearGradient><linearGradient id="s24" gradientUnits="userSpaceOnUse" x1="665.8" y1="103.0" x2="655.4" y2="87.2"><stop offset="-0.000" stop-color="#9e3c09"/><stop offset="1.000" stop-color="#9e0909"/></linearGradient><linearGradient id="s25" gradientUnits="userSpaceOnUse" x1="664.3" y1="105.7" x2="652.4" y2="87.4"><stop offset="-0.000" stop-color="#e9630c"/><stop offset="1.000" stop-color="#e90c0c"/></linearGradient><linearGradient id="s26" gradientUnits="userSpaceOnUse" x1="662.7" y1="106.8" x2="649.4" y2="86.1"><stop offset="-0.000" stop-color="#f0780a"/><stop offset="0.069" stop-color="#f06a0a"/><stop offset="1.000" stop-color="#f00a0a"/></linearGradient><linearGradient id="s27" gradientUnits="userSpaceOnUse" x1="661.2" y1="106.1" x2="646.8" y2="83.5"><stop offset="-0.000" stop-color="#e78809"/><stop offset="0.158" stop-color="#e76609"/><stop offset="1.000" stop-color="#e70909"/></linearGradient><linearGradient id="s28" gradientUnits="userSpaceOnUse" x1="660.2" y1="103.6" x2="644.9" y2="79.9"><stop offset="-0.000" stop-color="#4e3409"/><stop offset="0.207" stop-color="#4e2609"/><stop offset="1.000" stop-color="#4e0909"/></linearGradient><linearGradient id="s29" gradientUnits="userSpaceOnUse" x1="659.7" y1="100.2" x2="643.9" y2="75.8"><stop offset="-0.000" stop-color="#593e09"/><stop offset="0.235" stop-color="#592b09"/><stop offset="1.000" stop-color="#590909"/></linearGradient><linearGradient id="s30" gradientUnits="userSpaceOnUse" x1="659.5" y1="96.4" x2="643.4" y2="71.7"><stop offset="-0.000" stop-color="#5e4409"/><stop offset="0.252" stop-color="#5e2d09"/><stop offset="1.000" stop-color="#5e0909"/></linearGradient><linearGradient id="s31" gradientUnits="userSpaceOnUse" x1="659.6" y1="92.4" x2="643.2" y2="67.6"><stop offset="-0.000" stop-color="#614709"/><stop offset="0.264" stop-color="#612e09"/><stop offset="1.000" stop-color="#610909"/></linearGradient><linearGradient id="s32" gradientUnits="userSpaceOnUse" x1="659.8" y1="88.3" x2="643.1" y2="63.5"><stop offset="-0.000" stop-color="#634a09"/><stop offset="0.272" stop-color="#632f09"/><stop offset="1.000" stop-color="#630909"/></linearGradient><linearGradient id="s33" gradientUnits="userSpaceOnUse" x1="660.0" y1="84.2" x2="643.1" y2="59.3"><stop offset="-0.000" stop-color="#644b09"/><stop offset="0.279" stop-color="#642f09"/><stop offset="1.000" stop-color="#640909"/></linearGradient><linearGradient id="s34" gradientUnits="userSpaceOnUse" x1="660.3" y1="80.0" x2="643.2" y2="55.2"><stop offset="-0.000" stop-color="#644c09"/><stop offset="0.284" stop-color="#642f09"/><stop offset="1.000" stop-color="#640909"/></linearGradient><linearGradient id="s35" gradientUnits="userSpaceOnUse" x1="660.6" y1="75.7" x2="643.4" y2="51.0"><stop offset="-0.000" stop-color="#654d09"/><stop offset="0.289" stop-color="#653009"/><stop offset="1.000" stop-color="#650909"/></linearGradient><linearGradient id="s36" gradientUnits="userSpaceOnUse" x1="661.0" y1="71.4" x2="643.5" y2="46.9"><stop offset="-0.000" stop-color="#654e09"/><stop offset="0.292" stop-color="#653009"/><stop offset="1.000" stop-color="#650909"/></linearGradient><linearGradient id="s37" gradientUnits="userSpaceOnUse" x1="661.3" y1="67.0" x2="643.7" y2="42.7"><stop offset="-0.000" stop-color="#664f09"/><stop offset="0.295" stop-color="#663009"/><stop offset="1.000" stop-color="#660909"/></linearGradient><linearGradient id="s38" gradientUnits="userSpaceOnUse" x1="661.7" y1="62.6" x2="643.9" y2="38.4"><stop offset="-0.000" stop-color="#664f09"/><stop offset="0.298" stop-color="#663009"/><stop offset="1.000" stop-color="#660909"/></linearGradient><linearGradient id="s39" gradientUnits="userSpaceOnUse" x1="659.9" y1="63.7" x2="640.7" y2="37.2"><stop offset="-0.000" stop-color="#695d09"/><stop offset="0.365" stop-color="#693109"/><stop offset="1.000" stop-color="#690909"/></linearGradient><linearGradient id="s40" gradientUnits="userSpaceOnUse" x1="659.4" y1="68.2" x2="640.2" y2="41.3"><stop offset="-0.000" stop-color="#695e09"/><stop offset="0.367" stop-color="#693109"/><stop offset="1.000" stop-color="#690909"/></linearGradient><linearGradient id="s41" gradientUnits="userSpaceOnUse" x1="658.9" y1="72.7" x2="639.8" y2="45.4"><stop offset="-0.000" stop-color="#6a5e09"/><stop offset="0.370" stop-color="#6a3109"/><stop offset="1.000" stop-color="#6a0909"/></linearGradient><linearGradient id="s42" gradientUnits="userSpaceOnUse" x1="658.4" y1="77.1" x2="639.3" y2="49.5"><stop offset="-0.000" stop-color="#6a5f09"/><stop offset="0.373" stop-color="#6a3209"/><stop offset="1.000" stop-color="#6a0909"/></linearGradient><linearGradient id="s43" gradientUnits="userSpaceOnUse" x1="657.8" y1="81.5" x2="638.8" y2="53.4"><stop offset="-0.000" stop-color="#6a6109"/><stop offset="0.377" stop-color="#6a3209"/><stop offset="1.000" stop-color="#6a0909"/></linearGradient><linearGradient id="s44" gradientUnits="userSpaceOnUse" x1="657.3" y1="85.9" x2="638.2" y2="57.4"><stop offset="-0.000" stop-color="#6b6209"/><stop offset="0.382" stop-color="#6b3209"/><stop offset="1.000" stop-color="#6b0909"/></linearGradient><linearGradient id="s45" gradientUnits="userSpaceOnUse" x1="656.7" y1="90.3" x2="637.6" y2="61.2"><stop offset="-0.000" stop-color="#6c6409"/><stop offset="0.388" stop-color="#6c3309"/><stop offset="1.000" stop-color="#6c0909"/></linearGradient><linearGradient id="s46" gradientUnits="userSpaceOnUse" x1="656.1" y1="94.7" x2="636.9" y2="65.0"><stop offset="-0.000" stop-color="#6e6809"/><stop offset="0.396" stop-color="#6e3309"/><stop offset="1.000" stop-color="#6e0909"/></linearGradient><linearGradient id="s47" gradientUnits="userSpaceOnUse" x1="655.4" y1="99.1" x2="636.1" y2="68.6"><stop offset="-0.000" stop-color="#706c09"/><stop offset="0.407" stop-color="#703409"/><stop offset="1.000" stop-color="#700909"/></linearGradient><linearGradient id="s48" gradientUnits="userSpaceOnUse" x1="654.7" y1="103.6" x2="635.0" y2="72.0"><stop offset="-0.000" stop-color="#757509"/><stop offset="0.423" stop-color="#753609"/><stop offset="1.000" stop-color="#750909"/></linearGradient><linearGradient id="s49" gradientUnits="userSpaceOnUse" x1="653.8" y1="108.0" x2="633.5" y2="75.0"><stop offset="-0.000" stop-color="#798009"/><stop offset="0.042" stop-color="#808009"/><stop offset="0.448" stop-color="#803b09"/><stop offset="1.000" stop-color="#800909"/></linearGradient><linearGradient id="s50" gradientUnits="userSpaceOnUse" x1="652.6" y1="112.1" x2="631.3" y2="76.8"><stop offset="-0.000" stop-color="#889e09"/><stop offset="0.102" stop-color="#9e9e09"/><stop offset="0.483" stop-color="#9e4809"/><stop offset="1.000" stop-color="#9e0909"/></linearGradient><linearGradient id="s51" gradientUnits="userSpaceOnUse" x1="651.0" y1="114.9" x2="628.6" y2="77.1"><stop offset="-0.000" stop-color="#b0e90c"/><stop offset="0.166" stop-color="#e9e90c"/><stop offset="0.520" stop-color="#e9690c"/><stop offset="1.000" stop-color="#e90c0c"/></linearGradient><linearGradient id="s52" gradientUnits="userSpaceOnUse" x1="649.3" y1="116.1" x2="625.7" y2="75.9"><stop offset="-0.000" stop-color="#9cf00a"/><stop offset="0.029" stop-color="#a6f00a"/><stop offset="0.223" stop-color="#f0f00a"/><stop offset="0.552" stop-color="#f06a0a"/><stop offset="1.000" stop-color="#f00a0a"/></linearGradient><linearGradient id="s53" gradientUnits="userSpaceOnUse" x1="647.8" y1="115.4" x2="623.2" y2="73.3"><stop offset="-0.000" stop-color="#84e709"/><stop offset="0.082" stop-color="#a0e709"/><stop offset="0.265" stop-color="#e7e709"/><stop offset="0.576" stop-color="#e76609"/><stop offset="1.000" stop-color="#e70909"/></linearGradient><linearGradient id="s54" gradientUnits="userSpaceOnUse" x1="646.6" y1="112.9" x2="621.5" y2="69.9"><stop offset="-0.000" stop-color="#2b4e09"/><stop offset="0.113" stop-color="#384e09"/><stop offset="0.290" stop-color="#4e4e09"/><stop offset="0.591" stop-color="#4e2609"/><stop offset="1.000" stop-color="#4e0909"/></linearGradient><linearGradient id="s55" gradientUnits="userSpaceOnUse" x1="646.0" y1="109.4" x2="620.5" y2="65.9"><stop offset="-0.000" stop-color="#2e5909"/><stop offset="0.132" stop-color="#3f5909"/><stop offset="0.304" stop-color="#595909"/><stop offset="0.599" stop-color="#592b09"/><stop offset="1.000" stop-color="#590909"/></linearGradient><linearGradient id="s56" gradientUnits="userSpaceOnUse" x1="645.8" y1="105.5" x2="619.9" y2="61.9"><stop offset="-0.000" stop-color="#2f5e09"/><stop offset="0.143" stop-color="#435e09"/><stop offset="0.314" stop-color="#5e5e09"/><stop offset="0.605" stop-color="#5e2d09"/><stop offset="1.000" stop-color="#5e0909"/></linearGradient><linearGradient id="s57" gradientUnits="userSpaceOnUse" x1="645.8" y1="101.5" x2="619.6" y2="57.9"><stop offset="-0.000" stop-color="#2f6109"/><stop offset="0.151" stop-color="#456109"/><stop offset="0.320" stop-color="#616109"/><stop offset="0.608" stop-color="#612e09"/><stop offset="1.000" stop-color="#610909"/></linearGradient><linearGradient id="s58" gradientUnits="userSpaceOnUse" x1="645.9" y1="97.3" x2="619.4" y2="53.9"><stop offset="-0.000" stop-color="#2f6309"/><stop offset="0.157" stop-color="#466309"/><stop offset="0.325" stop-color="#636309"/><stop offset="0.611" stop-color="#632f09"/><stop offset="1.000" stop-color="#630909"/></linearGradient><linearGradient id="s59" gradientUnits="userSpaceOnUse" x1="646.1" y1="93.1" x2="619.4" y2="49.8"><stop offset="-0.000" stop-color="#2e6409"/><stop offset="0.162" stop-color="#476409"/><stop offset="0.329" stop-color="#646409"/><stop offset="0.614" stop-color="#642f09"/><stop offset="1.000" stop-color="#640909"/></linearGradient><linearGradient id="s60" gradientUnits="userSpaceOnUse" x1="646.4" y1="88.8" x2="619.4" y2="45.8"><stop offset="-0.000" stop-color="#2e6409"/><stop offset="0.166" stop-color="#476409"/><stop offset="0.332" stop-color="#646409"/><stop offset="0.615" stop-color="#642f09"/><stop offset="1.000" stop-color="#640909"/></linearGradient><linearGradient id="s61" gradientUnits="userSpaceOnUse" x1="646.6" y1="84.5" x2="619.4" y2="41.7"><stop offset="-0.000" stop-color="#2e6509"/><stop offset="0.169" stop-color="#486509"/><stop offset="0.335" stop-color="#656509"/><stop offset="0.617" stop-color="#653009"/><stop offset="1.000" stop-color="#650909"/></linearGradient><linearGradient id="s62" gradientUnits="userSpaceOnUse" x1="646.9" y1="80.1" x2="619.5" y2="37.7"><stop offset="-0.000" stop-color="#2d6509"/><stop offset="0.171" stop-color="#486509"/><stop offset="0.337" stop-color="#656509"/><stop offset="0.618" stop-color="#653009"/><stop offset="1.000" stop-color="#650909"/></linearGradient><linearGradient id="s63" gradientUnits="userSpaceOnUse" x1="647.2" y1="75.7" x2="619.6" y2="33.6"><stop offset="-0.000" stop-color="#2d6609"/><stop offset="0.174" stop-color="#486609"/><stop offset="0.339" stop-color="#666609"/><stop offset="0.619" stop-color="#663009"/><stop offset="1.000" stop-color="#660909"/></linearGradient><linearGradient id="s64" gradientUnits="userSpaceOnUse" x1="647.5" y1="71.2" x2="619.7" y2="29.4"><stop offset="-0.000" stop-color="#2d6609"/><stop offset="0.176" stop-color="#486609"/><stop offset="0.340" stop-color="#666609"/><stop offset="0.620" stop-color="#663009"/><stop offset="1.000" stop-color="#660909"/></linearGradient><linearGradient id="s65" gradientUnits="userSpaceOnUse" x1="645.6" y1="72.3" x2="616.6" y2="28.3"><stop offset="-0.000" stop-color="#246909"/><stop offset="0.226" stop-color="#4a6909"/><stop offset="0.380" stop-color="#696909"/><stop offset="0.643" stop-color="#693109"/><stop offset="1.000" stop-color="#690909"/></linearGradient><linearGradient id="s66" gradientUnits="userSpaceOnUse" x1="645.1" y1="76.9" x2="616.3" y2="32.3"><stop offset="-0.000" stop-color="#246909"/><stop offset="0.228" stop-color="#4a6909"/><stop offset="0.382" stop-color="#696909"/><stop offset="0.644" stop-color="#693109"/><stop offset="1.000" stop-color="#690909"/></linearGradient><linearGradient id="s67" gradientUnits="userSpaceOnUse" x1="644.7" y1="81.5" x2="616.0" y2="36.3"><stop offset="-0.000" stop-color="#236a09"/><stop offset="0.230" stop-color="#4b6a09"/><stop offset="0.383" stop-color="#6a6a09"/><stop offset="0.645" stop-color="#6a3109"/><stop offset="1.000" stop-color="#6a0909"/></linearGradient><linearGradient id="s68" gradientUnits="userSpaceOnUse" x1="644.2" y1="86.0" x2="615.6" y2="40.3"><stop offset="-0.000" stop-color="#236a09"/><stop offset="0.232" stop-color="#4b6a09"/><stop offset="0.385" stop-color="#6a6a09"/><stop offset="0.646" stop-color="#6a3209"/><stop offset="1.000" stop-color="#6a0909"/></linearGradient><linearGradient id="s69" gradientUnits="userSpaceOnUse" x1="643.7" y1="90.5" x2="615.2" y2="44.2"><stop offset="-0.000" stop-color="#226a09"/><stop offset="0.235" stop-color="#4b6a09"/><stop offset="0.388" stop-color="#6a6a09"/><stop offset="0.647" stop-color="#6a3209"/><stop offset="1.000" stop-color="#6a0909"/></linearGradient><linearGradient id="s70" gradientUnits="userSpaceOnUse" x1="643.2" y1="95.0" x2="614.8" y2="48.0"><stop offset="-0.000" stop-color="#226b09"/><stop offset="0.239" stop-color="#4c6b09"/><stop offset="0.391" stop-color="#6b6b09"/><stop offset="0.649" stop-color="#6b3209"/><stop offset="1.000" stop-color="#6b0909"/></linearGradient><linearGradient id="s71" gradientUnits="userSpaceOnUse" x1="642.7" y1="99.5" x2="614.3" y2="51.8"><stop offset="-0.000" stop-color="#216c09"/><stop offset="0.244" stop-color="#4c6c09"/><stop offset="0.394" stop-color="#6c6c09"/><stop offset="0.651" stop-color="#6c3309"/><stop offset="1.000" stop-color="#6c0909"/></linearGradient><linearGradient id="s72" gradientUnits="userSpaceOnUse" x1="642.1" y1="103.9" x2="613.7" y2="55.5"><stop offset="-0.000" stop-color="#206e09"/><stop offset="0.250" stop-color="#4d6e09"/><stop offset="0.399" stop-color="#6e6e09"/><stop offset="0.654" stop-color="#6e3309"/><stop offset="1.000" stop-color="#6e0909"/></linearGradient><linearGradient id="s73" gradientUnits="userSpaceOnUse" x1="641.5" y1="108.4" x2="613.0" y2="59.0"><stop offset="-0.000" stop-color="#1e7009"/><stop offset="0.259" stop-color="#4f7009"/><stop offset="0.406" stop-color="#707009"/><stop offset="0.658" stop-color="#703409"/><stop offset="1.000" stop-color="#700909"/></linearGradient><linearGradient id="s74" gradientUnits="userSpaceOnUse" x1="640.8" y1="113.0" x2="612.1" y2="62.4"><stop offset="-0.000" stop-color="#1b7509"/><stop offset="0.272" stop-color="#537509"/><stop offset="0.417" stop-color="#757509"/><stop offset="0.664" stop-color="#753609"/><stop offset="1.000" stop-color="#750909"/></linearGradient><linearGradient id="s75" gradientUnits="userSpaceOnUse" x1="639.8" y1="117.5" x2="610.7" y2="65.3"><stop offset="-0.000" stop-color="#178009"/><stop offset="0.293" stop-color="#5a8009"/><stop offset="0.434" stop-color="#808009"/><stop offset="0.673" stop-color="#803b09"/><stop offset="1.000" stop-color="#800909"/></linearGradient><linearGradient id="s76" gradientUnits="userSpaceOnUse" x1="638.6" y1="121.7" x2="608.7" y2="67.1"><stop offset="-0.000" stop-color="#0e9e09"/><stop offset="0.323" stop-color="#6e9e09"/><stop offset="0.458" stop-color="#9e9e09"/><stop offset="0.687" stop-color="#9e4809"/><stop offset="1.000" stop-color="#9e0909"/></linearGradient><linearGradient id="s77" gradientUnits="userSpaceOnUse" x1="637.0" y1="124.6" x2="606.2" y2="67.4"><stop offset="-0.000" stop-color="#0ce91a"/><stop offset="0.032" stop-color="#0ce90c"/><stop offset="0.357" stop-color="#a2e90c"/><stop offset="0.485" stop-color="#e9e90c"/><stop offset="0.703" stop-color="#e9690c"/><stop offset="1.000" stop-color="#e90c0c"/></linearGradient><linearGradient id="s78" gradientUnits="userSpaceOnUse" x1="635.2" y1="125.9" x2="603.6" y2="66.3"><stop offset="-0.000" stop-color="#0af02f"/><stop offset="0.001" stop-color="#0af02f"/><stop offset="0.079" stop-color="#0af00a"/><stop offset="0.388" stop-color="#a6f00a"/><stop offset="0.509" stop-color="#f0f00a"/><stop offset="0.717" stop-color="#f06a0a"/><stop offset="1.000" stop-color="#f00a0a"/></linearGradient><linearGradient id="s79" gradientUnits="userSpaceOnUse" x1="633.6" y1="125.2" x2="601.2" y2="63.9"><stop offset="-0.000" stop-color="#09e741"/><stop offset="0.040" stop-color="#09e72c"/><stop offset="0.115" stop-color="#09e709"/><stop offset="0.412" stop-color="#a0e709"/><stop offset="0.528" stop-color="#e7e709"/><stop offset="0.728" stop-color="#e76609"/><stop offset="1.000" stop-color="#e70909"/></linearGradient><linearGradient id="s80" gradientUnits="userSpaceOnUse" x1="632.3" y1="122.7" x2="599.5" y2="60.5"><stop offset="-0.000" stop-color="#094e1f"/><stop offset="0.064" stop-color="#094e14"/><stop offset="0.137" stop-color="#094e09"/><stop offset="0.426" stop-color="#384e09"/><stop offset="0.540" stop-color="#4e4e09"/><stop offset="0.735" stop-color="#4e2609"/><stop offset="1.000" stop-color="#4e0909"/></linearGradient><linearGradient id="s81" gradientUnits="userSpaceOnUse" x1="631.6" y1="119.2" x2="598.4" y2="56.6"><stop offset="-0.000" stop-color="#095925"/><stop offset="0.079" stop-color="#095916"/><stop offset="0.150" stop-color="#095909"/><stop offset="0.435" stop-color="#3f5909"/><stop offset="0.547" stop-color="#595909"/><stop offset="0.739" stop-color="#592b09"/><stop offset="1.000" stop-color="#590909"/></linearGradient><linearGradient id="s82" gradientUnits="userSpaceOnUse" x1="631.4" y1="115.2" x2="597.8" y2="52.7"><stop offset="-0.000" stop-color="#095e29"/><stop offset="0.088" stop-color="#095e17"/><stop offset="0.159" stop-color="#095e09"/><stop offset="0.441" stop-color="#435e09"/><stop offset="0.552" stop-color="#5e5e09"/><stop offset="0.741" stop-color="#5e2d09"/><stop offset="1.000" stop-color="#5e0909"/></linearGradient><linearGradient id="s83" gradientUnits="userSpaceOnUse" x1="631.3" y1="111.1" x2="597.5" y2="48.8"><stop offset="-0.000" stop-color="#09612b"/><stop offset="0.094" stop-color="#096117"/><stop offset="0.165" stop-color="#096109"/><stop offset="0.445" stop-color="#456109"/><stop offset="0.555" stop-color="#616109"/><stop offset="0.743" stop-color="#612e09"/><stop offset="1.000" stop-color="#610909"/></linearGradient><linearGradient id="s84" gradientUnits="userSpaceOnUse" x1="631.3" y1="106.9" x2="597.3" y2="44.9"><stop offset="-0.000" stop-color="#09632d"/><stop offset="0.099" stop-color="#096317"/><stop offset="0.169" stop-color="#096309"/><stop offset="0.448" stop-color="#466309"/><stop offset="0.558" stop-color="#636309"/><stop offset="0.745" stop-color="#632f09"/><stop offset="1.000" stop-color="#630909"/></linearGradient><linearGradient id="s85" gradientUnits="userSpaceOnUse" x1="631.4" y1="102.6" x2="597.1" y2="40.9"><stop offset="-0.000" stop-color="#09642e"/><stop offset="0.103" stop-color="#096417"/><stop offset="0.173" stop-color="#096409"/><stop offset="0.450" stop-color="#476409"/><stop offset="0.560" stop-color="#646409"/><stop offset="0.746" stop-color="#642f09"/><stop offset="1.000" stop-color="#640909"/></linearGradient><linearGradient id="s86" gradientUnits="userSpaceOnUse" x1="631.6" y1="98.3" x2="597.0" y2="37.0"><stop offset="-0.000" stop-color="#09642f"/><stop offset="0.106" stop-color="#096418"/><stop offset="0.175" stop-color="#096409"/><stop offset="0.452" stop-color="#476409"/><stop offset="0.561" stop-color="#646409"/><stop offset="0.747" stop-color="#642f09"/><stop offset="1.000" stop-color="#640909"/></linearGradient><linearGradient id="s87" gradientUnits="userSpaceOnUse" x1="631.8" y1="93.8" x2="597.0" y2="33.0"><stop offset="-0.000" stop-color="#096530"/><stop offset="0.108" stop-color="#096518"/><stop offset="0.178" stop-color="#096509"/><stop offset="0.454" stop-color="#486509"/><stop offset="0.563" stop-color="#656509"/><stop offset="0.748" stop-color="#653009"/><stop offset="1.000" stop-color="#650909"/></linearGradient><linearGradient id="s88" gradientUnits="userSpaceOnUse" x1="632.0" y1="89.4" x2="596.9" y2="29.1"><stop offset="-0.000" stop-color="#096531"/><stop offset="0.110" stop-color="#096518"/><stop offset="0.180" stop-color="#096509"/><stop offset="0.456" stop-color="#486509"/><stop offset="0.564" stop-color="#656509"/><stop offset="0.749" stop-color="#653009"/><stop offset="1.000" stop-color="#650909"/></linearGradient><linearGradient id="s89" gradientUnits="userSpaceOnUse" x1="632.2" y1="84.8" x2="597.0" y2="25.1"><stop offset="-0.000" stop-color="#096632"/><stop offset="0.112" stop-color="#096618"/><stop offset="0.181" stop-color="#096609"/><stop offset="0.457" stop-color="#486609"/><stop offset="0.565" stop-color="#666609"/><stop offset="0.749" stop-color="#663009"/><stop offset="1.000" stop-color="#660909"/></linearGradient><linearGradient id="s90" gradientUnits="userSpaceOnUse" x1="632.5" y1="80.2" x2="597.0" y2="21.0"><stop offset="-0.000" stop-color="#096632"/><stop offset="0.114" stop-color="#096618"/><stop offset="0.183" stop-color="#096609"/><stop offset="0.458" stop-color="#486609"/><stop offset="0.566" stop-color="#666609"/><stop offset="0.750" stop-color="#663009"/><stop offset="1.000" stop-color="#660909"/></linearGradient><linearGradient id="s91" gradientUnits="userSpaceOnUse" x1="630.5" y1="81.5" x2="594.1" y2="20.0"><stop offset="-0.000" stop-color="#09693f"/><stop offset="0.155" stop-color="#096918"/><stop offset="0.221" stop-color="#096909"/><stop offset="0.483" stop-color="#4a6909"/><stop offset="0.586" stop-color="#696909"/><stop offset="0.761" stop-color="#693109"/><stop offset="1.000" stop-color="#690909"/></linearGradient><linearGradient id="s92" gradientUnits="userSpaceOnUse" x1="630.1" y1="86.2" x2="593.9" y2="23.9"><stop offset="-0.000" stop-color="#09693f"/><stop offset="0.156" stop-color="#096918"/><stop offset="0.222" stop-color="#096909"/><stop offset="0.483" stop-color="#4a6909"/><stop offset="0.586" stop-color="#696909"/><stop offset="0.761" stop-color="#693109"/><stop offset="1.000" stop-color="#690909"/></linearGradient><linearGradient id="s93" gradientUnits="userSpaceOnUse" x1="629.7" y1="90.8" x2="593.6" y2="27.8"><stop offset="-0.000" stop-color="#096a40"/><stop offset="0.158" stop-color="#096a18"/><stop offset="0.223" stop-color="#096a09"/><stop offset="0.484" stop-color="#4b6a09"/><stop offset="0.587" stop-color="#6a6a09"/><stop offset="0.762" stop-color="#6a3109"/><stop offset="1.000" stop-color="#6a0909"/></linearGradient><linearGradient id="s94" gradientUnits="userSpaceOnUse" x1="629.2" y1="95.4" x2="593.4" y2="31.7"><stop offset="-0.000" stop-color="#096a41"/><stop offset="0.160" stop-color="#096a18"/><stop offset="0.225" stop-color="#096a09"/><stop offset="0.485" stop-color="#4b6a09"/><stop offset="0.588" stop-color="#6a6a09"/><stop offset="0.762" stop-color="#6a3209"/><stop offset="1.000" stop-color="#6a0909"/></linearGradient><linearGradient id="s95" gradientUnits="userSpaceOnUse" x1="628.8" y1="100.0" x2="593.1" y2="35.5"><stop offset="-0.000" stop-color="#096a42"/><stop offset="0.162" stop-color="#096a19"/><stop offset="0.227" stop-color="#096a09"/><stop offset="0.487" stop-color="#4b6a09"/><stop offset="0.589" stop-color="#6a6a09"/><stop offset="0.763" stop-color="#6a3209"/><stop offset="1.000" stop-color="#6a0909"/></linearGradient><linearGradient id="s96" gradientUnits="userSpaceOnUse" x1="628.4" y1="104.6" x2="592.8" y2="39.2"><stop offset="-0.000" stop-color="#096b43"/><stop offset="0.165" stop-color="#096b19"/><stop offset="0.230" stop-color="#096b09"/><stop offset="0.488" stop-color="#4c6b09"/><stop offset="0.590" stop-color="#6b6b09"/><stop offset="0.764" stop-color="#6b3209"/><stop offset="1.000" stop-color="#6b0909"/></linearGradient><linearGradient id="s97" gradientUnits="userSpaceOnUse" x1="627.9" y1="109.1" x2="592.4" y2="42.9"><stop offset="-0.000" stop-color="#096c45"/><stop offset="0.169" stop-color="#096c19"/><stop offset="0.234" stop-color="#096c09"/><stop offset="0.491" stop-color="#4c6c09"/><stop offset="0.592" stop-color="#6c6c09"/><stop offset="0.764" stop-color="#6c3309"/><stop offset="1.000" stop-color="#6c0909"/></linearGradient><linearGradient id="s98" gradientUnits="userSpaceOnUse" x1="627.4" y1="113.7" x2="592.0" y2="46.5"><stop offset="-0.000" stop-color="#096e48"/><stop offset="0.175" stop-color="#096e19"/><stop offset="0.239" stop-color="#096e09"/><stop offset="0.494" stop-color="#4d6e09"/><stop offset="0.594" stop-color="#6e6e09"/><stop offset="0.766" stop-color="#6e3309"/><stop offset="1.000" stop-color="#6e0909"/></linearGradient><linearGradient id="s99" gradientUnits="userSpaceOnUse" x1="626.8" y1="118.3" x2="591.4" y2="50.0"><stop offset="-0.000" stop-color="#09704c"/><stop offset="0.182" stop-color="#097019"/><stop offset="0.246" stop-color="#097009"/><stop offset="0.498" stop-color="#4f7009"/><stop offset="0.598" stop-color="#707009"/><stop offset="0.768" stop-color="#703409"/><stop offset="1.000" stop-color="#700909"/></linearGradient><linearGradient id="s100" gradientUnits="userSpaceOnUse" x1="626.1" y1="122.9" x2="590.6" y2="53.3"><stop offset="-0.000" stop-color="#097553"/><stop offset="0.193" stop-color="#09751a"/><stop offset="0.256" stop-color="#097509"/><stop offset="0.505" stop-color="#537509"/><stop offset="0.603" stop-color="#757509"/><stop offset="0.771" stop-color="#753609"/><stop offset="1.000" stop-color="#750909"/></linearGradient><linearGradient id="s101" gradientUnits="userSpaceOnUse" x1="625.1" y1="127.6" x2="589.4" y2="56.2"><stop offset="-0.000" stop-color="#098061"/><stop offset="0.211" stop-color="#09801c"/><stop offset="0.272" stop-color="#098009"/><stop offset="0.516" stop-color="#5a8009"/><stop offset="0.612" stop-color="#808009"/><stop offset="0.776" stop-color="#803b09"/><stop offset="1.000" stop-color="#800909"/></linearGradient><linearGradient id="s102" gradientUnits="userSpaceOnUse" x1="623.9" y1="131.9" x2="587.6" y2="58.0"><stop offset="-0.000" stop-color="#099e85"/><stop offset="0.238" stop-color="#099e21"/><stop offset="0.297" stop-color="#099e09"/><stop offset="0.532" stop-color="#6e9e09"/><stop offset="0.625" stop-color="#9e9e09"/><stop offset="0.783" stop-color="#9e4809"/><stop offset="1.000" stop-color="#9e0909"/></linearGradient><linearGradient id="s103" gradientUnits="userSpaceOnUse" x1="622.2" y1="134.9" x2="585.2" y2="58.3"><stop offset="-0.000" stop-color="#0ce9dc"/><stop offset="0.267" stop-color="#0ce92f"/><stop offset="0.324" stop-color="#0ce90c"/><stop offset="0.550" stop-color="#a2e90c"/><stop offset="0.639" stop-color="#e9e90c"/><stop offset="0.791" stop-color="#e9690c"/><stop offset="1.000" stop-color="#e90c0c"/></linearGradient><linearGradient id="s104" gradientUnits="userSpaceOnUse" x1="620.3" y1="136.2" x2="582.7" y2="57.3"><stop offset="-0.000" stop-color="#0ae5f0"/><stop offset="0.018" stop-color="#0af0f0"/><stop offset="0.295" stop-color="#0af02f"/><stop offset="0.350" stop-color="#0af00a"/><stop offset="0.567" stop-color="#a6f00a"/><stop offset="0.653" stop-color="#f0f00a"/><stop offset="0.799" stop-color="#f06a0a"/><stop offset="1.000" stop-color="#f00a0a"/></linearGradient><linearGradient id="s105" gradientUnits="userSpaceOnUse" x1="618.5" y1="135.6" x2="580.4" y2="54.9"><stop offset="-0.000" stop-color="#09cbe7"/><stop offset="0.049" stop-color="#09e7e7"/><stop offset="0.317" stop-color="#09e72c"/><stop offset="0.370" stop-color="#09e709"/><stop offset="0.580" stop-color="#a0e709"/><stop offset="0.664" stop-color="#e7e709"/><stop offset="0.806" stop-color="#e76609"/><stop offset="1.000" stop-color="#e70909"/></linearGradient><linearGradient id="s106" gradientUnits="userSpaceOnUse" x1="617.2" y1="133.1" x2="578.8" y2="51.6"><stop offset="-0.000" stop-color="#09414e"/><stop offset="0.068" stop-color="#094e4e"/><stop offset="0.331" stop-color="#094e14"/><stop offset="0.383" stop-color="#094e09"/><stop offset="0.589" stop-color="#384e09"/><stop offset="0.670" stop-color="#4e4e09"/><stop offset="0.809" stop-color="#4e2609"/><stop offset="1.000" stop-color="#4e0909"/></linearGradient><linearGradient id="s107" gradientUnits="userSpaceOnUse" x1="616.4" y1="129.5" x2="577.7" y2="47.9"><stop offset="-0.000" stop-color="#094859"/><stop offset="0.080" stop-color="#095959"/><stop offset="0.340" stop-color="#095916"/><stop offset="0.391" stop-color="#095909"/><stop offset="0.594" stop-color="#3f5909"/><stop offset="0.675" stop-color="#595909"/><stop offset="0.812" stop-color="#592b09"/><stop offset="1.000" stop-color="#590909"/></linearGradient><linearGradient id="s108" gradientUnits="userSpaceOnUse" x1="616.0" y1="125.5" x2="577.1" y2="44.1"><stop offset="-0.000" stop-color="#094a5e"/><stop offset="0.087" stop-color="#095e5e"/><stop offset="0.345" stop-color="#095e17"/><stop offset="0.396" stop-color="#095e09"/><stop offset="0.598" stop-color="#435e09"/><stop offset="0.677" stop-color="#5e5e09"/><stop offset="0.814" stop-color="#5e2d09"/><stop offset="1.000" stop-color="#5e0909"/></linearGradient><linearGradient id="s109" gradientUnits="userSpaceOnUse" x1="615.9" y1="121.3" x2="576.7" y2="40.3"><stop offset="-0.000" stop-color="#094b61"/><stop offset="0.093" stop-color="#096161"/><stop offset="0.349" stop-color="#096117"/><stop offset="0.399" stop-color="#096109"/><stop offset="0.600" stop-color="#456109"/><stop offset="0.679" stop-color="#616109"/><stop offset="0.815" stop-color="#612e09"/><stop offset="1.000" stop-color="#610909"/></linearGradient><linearGradient id="s110" gradientUnits="userSpaceOnUse" x1="615.8" y1="117.0" x2="576.4" y2="36.4"><stop offset="-0.000" stop-color="#094b63"/><stop offset="0.097" stop-color="#096363"/><stop offset="0.352" stop-color="#096317"/><stop offset="0.402" stop-color="#096309"/><stop offset="0.602" stop-color="#466309"/><stop offset="0.681" stop-color="#636309"/><stop offset="0.816" stop-color="#632f09"/><stop offset="1.000" stop-color="#630909"/></linearGradient><linearGradient id="s111" gradientUnits="userSpaceOnUse" x1="615.9" y1="112.7" x2="576.2" y2="32.6"><stop offset="-0.000" stop-color="#094b64"/><stop offset="0.100" stop-color="#096464"/><stop offset="0.354" stop-color="#096417"/><stop offset="0.404" stop-color="#096409"/><stop offset="0.604" stop-color="#476409"/><stop offset="0.682" stop-color="#646409"/><stop offset="0.816" stop-color="#642f09"/><stop offset="1.000" stop-color="#640909"/></linearGradient><linearGradient id="s112" gradientUnits="userSpaceOnUse" x1="615.9" y1="108.2" x2="576.0" y2="28.7"><stop offset="-0.000" stop-color="#094b64"/><stop offset="0.102" stop-color="#096464"/><stop offset="0.356" stop-color="#096418"/><stop offset="0.406" stop-color="#096409"/><stop offset="0.605" stop-color="#476409"/><stop offset="0.683" stop-color="#646409"/><stop offset="0.817" stop-color="#642f09"/><stop offset="1.000" stop-color="#640909"/></linearGradient><linearGradient id="s113" gradientUnits="userSpaceOnUse" x1="616.1" y1="103.7" x2="575.9" y2="24.9"><stop offset="-0.000" stop-color="#094b65"/><stop offset="0.104" stop-color="#096565"/><stop offset="0.358" stop-color="#096518"/><stop offset="0.408" stop-color="#096509"/><stop offset="0.606" stop-color="#486509"/><stop offset="0.684" stop-color="#656509"/><stop offset="0.818" stop-color="#653009"/><stop offset="1.000" stop-color="#650909"/></linearGradient><linearGradient id="s114" gradientUnits="userSpaceOnUse" x1="616.2" y1="99.2" x2="575.8" y2="21.0"><stop offset="-0.000" stop-color="#094b65"/><stop offset="0.106" stop-color="#096565"/><stop offset="0.359" stop-color="#096518"/><stop offset="0.409" stop-color="#096509"/><stop offset="0.607" stop-color="#486509"/><stop offset="0.685" stop-color="#656509"/><stop offset="0.818" stop-color="#653009"/><stop offset="1.000" stop-color="#650909"/></linearGradient><linearGradient id="s115" gradientUnits="userSpaceOnUse" x1="616.4" y1="94.5" x2="575.7" y2="17.1"><stop offset="-0.000" stop-color="#094b66"/><stop offset="0.108" stop-color="#096666"/><stop offset="0.361" stop-color="#096618"/><stop offset="0.410" stop-color="#096609"/><stop offset="0.608" stop-color="#486609"/><stop offset="0.686" stop-color="#666609"/><stop offset="0.819" stop-color="#663009"/><stop offset="1.000" stop-color="#660909"/></linearGradient><linearGradient id="s116" gradientUnits="userSpaceOnUse" x1="616.5" y1="89.9" x2="575.7" y2="13.1"><stop offset="-0.000" stop-color="#094b66"/><stop offset="0.109" stop-color="#096666"/><stop offset="0.362" stop-color="#096618"/><stop offset="0.411" stop-color="#096609"/><stop offset="0.609" stop-color="#486609"/><stop offset="0.686" stop-color="#666609"/><stop offset="0.819" stop-color="#663009"/><stop offset="1.000" stop-color="#660909"/></linearGradient><linearGradient id="s117" gradientUnits="userSpaceOnUse" x1="614.4" y1="91.2" x2="573.0" y2="12.1"><stop offset="-0.000" stop-color="#094369"/><stop offset="0.143" stop-color="#096969"/><stop offset="0.386" stop-color="#096918"/><stop offset="0.434" stop-color="#096909"/><stop offset="0.623" stop-color="#4a6909"/><stop offset="0.698" stop-color="#696909"/><stop offset="0.826" stop-color="#693109"/><stop offset="1.000" stop-color="#690909"/></linearGradient><linearGradient id="s118" gradientUnits="userSpaceOnUse" x1="614.0" y1="96.0" x2="572.8" y2="16.0"><stop offset="-0.000" stop-color="#094369"/><stop offset="0.144" stop-color="#096969"/><stop offset="0.387" stop-color="#096918"/><stop offset="0.434" stop-color="#096909"/><stop offset="0.624" stop-color="#4a6909"/><stop offset="0.698" stop-color="#696909"/><stop offset="0.826" stop-color="#693109"/><stop offset="1.000" stop-color="#690909"/></linearGradient><linearGradient id="s119" gradientUnits="userSpaceOnUse" x1="613.7" y1="100.7" x2="572.7" y2="19.8"><stop offset="-0.000" stop-color="#09426a"/><stop offset="0.145" stop-color="#096a6a"/><stop offset="0.387" stop-color="#096a18"/><stop offset="0.435" stop-color="#096a09"/><stop offset="0.624" stop-color="#4b6a09"/><stop offset="0.699" stop-color="#6a6a09"/><stop offset="0.826" stop-color="#6a3109"/><stop offset="1.000" stop-color="#6a0909"/></linearGradient><linearGradient id="s120" gradientUnits="userSpaceOnUse" x1="613.4" y1="105.4" x2="572.5" y2="23.6"><stop offset="-0.000" stop-color="#09426a"/><stop offset="0.147" stop-color="#096a6a"/><stop offset="0.388" stop-color="#096a18"/><stop offset="0.436" stop-color="#096a09"/><stop offset="0.625" stop-color="#4b6a09"/><stop offset="0.699" stop-color="#6a6a09"/><stop offset="0.826" stop-color="#6a3209"/><stop offset="1.000" stop-color="#6a0909"/></linearGradient><linearGradient id="s121" gradientUnits="userSpaceOnUse" x1="613.0" y1="110.1" x2="572.3" y2="27.3"><stop offset="-0.000" stop-color="#09426a"/><stop offset="0.149" stop-color="#096a6a"/><stop offset="0.390" stop-color="#096a19"/><stop offset="0.437" stop-color="#096a09"/><stop offset="0.625" stop-color="#4b6a09"/><stop offset="0.700" stop-color="#6a6a09"/><stop offset="0.826" stop-color="#6a3209"/><stop offset="1.000" stop-color="#6a0909"/></linearGradient><linearGradient id="s122" gradientUnits="userSpaceOnUse" x1="612.6" y1="114.8" x2="572.1" y2="31.0"><stop offset="-0.000" stop-color="#09416b"/><stop offset="0.152" stop-color="#096b6b"/><stop offset="0.391" stop-color="#096b19"/><stop offset="0.438" stop-color="#096b09"/><stop offset="0.626" stop-color="#4c6b09"/><stop offset="0.700" stop-color="#6b6b09"/><stop offset="0.827" stop-color="#6b3209"/><stop offset="1.000" stop-color="#6b0909"/></linearGradient><linearGradient id="s123" gradientUnits="userSpaceOnUse" x1="612.2" y1="119.4" x2="571.8" y2="34.6"><stop offset="-0.000" stop-color="#09416c"/><stop offset="0.155" stop-color="#096c6c"/><stop offset="0.394" stop-color="#096c19"/><stop offset="0.440" stop-color="#096c09"/><stop offset="0.627" stop-color="#4c6c09"/><stop offset="0.701" stop-color="#6c6c09"/><stop offset="0.827" stop-color="#6c3309"/><stop offset="1.000" stop-color="#6c0909"/></linearGradient><linearGradient id="s124" gradientUnits="userSpaceOnUse" x1="611.7" y1="124.1" x2="571.5" y2="38.1"><stop offset="-0.000" stop-color="#09406e"/><stop offset="0.159" stop-color="#096e6e"/><stop offset="0.397" stop-color="#096e19"/><stop offset="0.443" stop-color="#096e09"/><stop offset="0.629" stop-color="#4d6e09"/><stop offset="0.702" stop-color="#6e6e09"/><stop offset="0.828" stop-color="#6e3309"/><stop offset="1.000" stop-color="#6e0909"/></linearGradient><linearGradient id="s125" gradientUnits="userSpaceOnUse" x1="611.2" y1="128.7" x2="571.0" y2="41.6"><stop offset="-0.000" stop-color="#093f70"/><stop offset="0.166" stop-color="#097070"/><stop offset="0.401" stop-color="#097019"/><stop offset="0.447" stop-color="#097009"/><stop offset="0.632" stop-color="#4f7009"/><stop offset="0.704" stop-color="#707009"/><stop offset="0.829" stop-color="#703409"/><stop offset="1.000" stop-color="#700909"/></linearGradient><linearGradient id="s126" gradientUnits="userSpaceOnUse" x1="610.5" y1="133.5" x2="570.3" y2="44.8"><stop offset="-0.000" stop-color="#093e75"/><stop offset="0.175" stop-color="#097575"/><stop offset="0.407" stop-color="#09751a"/><stop offset="0.453" stop-color="#097509"/><stop offset="0.636" stop-color="#537509"/><stop offset="0.708" stop-color="#757509"/><stop offset="0.831" stop-color="#753609"/><stop offset="1.000" stop-color="#750909"/></linearGradient><linearGradient id="s127" gradientUnits="userSpaceOnUse" x1="609.6" y1="138.3" x2="569.3" y2="47.6"><stop offset="-0.000" stop-color="#093d80"/><stop offset="0.190" stop-color="#098080"/><stop offset="0.418" stop-color="#09801c"/><stop offset="0.463" stop-color="#098009"/><stop offset="0.642" stop-color="#5a8009"/><stop offset="0.713" stop-color="#808009"/><stop offset="0.834" stop-color="#803b09"/><stop offset="1.000" stop-color="#800909"/></linearGradient><linearGradient id="s128" gradientUnits="userSpaceOnUse" x1="608.3" y1="142.7" x2="567.6" y2="49.4"><stop offset="-0.000" stop-color="#093e9e"/><stop offset="0.213" stop-color="#099e9e"/><stop offset="0.434" stop-color="#099e21"/><stop offset="0.478" stop-color="#099e09"/><stop offset="0.652" stop-color="#6e9e09"/><stop offset="0.721" stop-color="#9e9e09"/><stop offset="0.838" stop-color="#9e4809"/><stop offset="1.000" stop-color="#9e0909"/></linearGradient><linearGradient id="s129" gradientUnits="userSpaceOnUse" x1="606.5" y1="145.8" x2="565.4" y2="49.8"><stop offset="-0.000" stop-color="#0c46e9"/><stop offset="0.007" stop-color="#0c4ae9"/><stop offset="0.239" stop-color="#0ce9e9"/><stop offset="0.453" stop-color="#0ce92f"/><stop offset="0.495" stop-color="#0ce90c"/><stop offset="0.663" stop-color="#a2e90c"/><stop offset="0.730" stop-color="#e9e90c"/><stop offset="0.844" stop-color="#e9690c"/><stop offset="1.000" stop-color="#e90c0c"/></linearGradient><linearGradient id="s130" gradientUnits="userSpaceOnUse" x1="604.5" y1="147.2" x2="563.1" y2="48.8"><stop offset="-0.000" stop-color="#0a33f0"/><stop offset="0.039" stop-color="#0a4af0"/><stop offset="0.264" stop-color="#0af0f0"/><stop offset="0.470" stop-color="#0af02f"/><stop offset="0.511" stop-color="#0af00a"/><stop offset="0.674" stop-color="#a6f00a"/><stop offset="0.738" stop-color="#f0f00a"/><stop offset="0.849" stop-color="#f06a0a"/><stop offset="1.000" stop-color="#f00a0a"/></linearGradient><linearGradient id="s131" gradientUnits="userSpaceOnUse" x1="602.6" y1="146.7" x2="561.2" y2="47.2"><stop offset="-0.000" stop-color="#0920e7"/><stop offset="0.066" stop-color="#0947e7"/><stop offset="0.285" stop-color="#09e7e7"/><stop offset="0.488" stop-color="#09e72c"/><stop offset="0.528" stop-color="#09e709"/><stop offset="0.687" stop-color="#a0e709"/><stop offset="0.750" stop-color="#e7e709"/><stop offset="0.858" stop-color="#e76609"/><stop offset="1.000" stop-color="#e70e09"/></linearGradient><linearGradient id="s132" gradientUnits="userSpaceOnUse" x1="601.1" y1="144.1" x2="560.2" y2="45.5"><stop offset="-0.000" stop-color="#0914bb"/><stop offset="0.083" stop-color="#093bbb"/><stop offset="0.302" stop-color="#09bbbb"/><stop offset="0.504" stop-color="#09bb25"/><stop offset="0.544" stop-color="#09bb09"/><stop offset="0.703" stop-color="#82bb09"/><stop offset="0.766" stop-color="#bbbb09"/><stop offset="0.874" stop-color="#bb5409"/><stop offset="1.000" stop-color="#bb1409"/></linearGradient><linearGradient id="s133" gradientUnits="userSpaceOnUse" x1="600.2" y1="140.4" x2="559.5" y2="42.8"><stop offset="-0.000" stop-color="#090b59"/><stop offset="0.094" stop-color="#091f59"/><stop offset="0.313" stop-color="#095959"/><stop offset="0.515" stop-color="#095916"/><stop offset="0.554" stop-color="#095909"/><stop offset="0.713" stop-color="#3f5909"/><stop offset="0.776" stop-color="#595909"/><stop offset="0.884" stop-color="#592b09"/><stop offset="1.000" stop-color="#591009"/></linearGradient><linearGradient id="s134" gradientUnits="userSpaceOnUse" x1="599.8" y1="136.4" x2="559.1" y2="39.6"><stop offset="-0.000" stop-color="#090a5e"/><stop offset="0.101" stop-color="#09215e"/><stop offset="0.320" stop-color="#095e5e"/><stop offset="0.521" stop-color="#095e17"/><stop offset="0.561" stop-color="#095e09"/><stop offset="0.720" stop-color="#435e09"/><stop offset="0.782" stop-color="#5e5e09"/><stop offset="0.890" stop-color="#5e2d09"/><stop offset="1.000" stop-color="#5e1209"/></linearGradient><linearGradient id="s135" gradientUnits="userSpaceOnUse" x1="599.5" y1="132.1" x2="558.8" y2="36.2"><stop offset="-0.000" stop-color="#090961"/><stop offset="0.106" stop-color="#092261"/><stop offset="0.325" stop-color="#096161"/><stop offset="0.526" stop-color="#096117"/><stop offset="0.566" stop-color="#096109"/><stop offset="0.724" stop-color="#456109"/><stop offset="0.787" stop-color="#616109"/><stop offset="0.894" stop-color="#612e09"/><stop offset="1.000" stop-color="#611409"/></linearGradient><linearGradient id="s136" gradientUnits="userSpaceOnUse" x1="599.4" y1="127.8" x2="558.6" y2="32.7"><stop offset="-0.000" stop-color="#0a0963"/><stop offset="0.004" stop-color="#090963"/><stop offset="0.110" stop-color="#092263"/><stop offset="0.329" stop-color="#096363"/><stop offset="0.530" stop-color="#096317"/><stop offset="0.569" stop-color="#096309"/><stop offset="0.727" stop-color="#466309"/><stop offset="0.790" stop-color="#636309"/><stop offset="0.897" stop-color="#632f09"/><stop offset="1.000" stop-color="#631509"/></linearGradient><linearGradient id="s137" gradientUnits="userSpaceOnUse" x1="599.3" y1="123.3" x2="558.4" y2="29.1"><stop offset="-0.000" stop-color="#0b0964"/><stop offset="0.007" stop-color="#090964"/><stop offset="0.113" stop-color="#092264"/><stop offset="0.332" stop-color="#096464"/><stop offset="0.533" stop-color="#096417"/><stop offset="0.572" stop-color="#096409"/><stop offset="0.730" stop-color="#476409"/><stop offset="0.792" stop-color="#646409"/><stop offset="0.899" stop-color="#642f09"/><stop offset="1.000" stop-color="#641509"/></linearGradient><linearGradient id="s138" gradientUnits="userSpaceOnUse" x1="599.3" y1="118.8" x2="558.2" y2="25.4"><stop offset="-0.000" stop-color="#0b0964"/><stop offset="0.009" stop-color="#090964"/><stop offset="0.116" stop-color="#092364"/><stop offset="0.334" stop-color="#096464"/><stop offset="0.535" stop-color="#096418"/><stop offset="0.574" stop-color="#096409"/><stop offset="0.732" stop-color="#476409"/><stop offset="0.794" stop-color="#646409"/><stop offset="0.901" stop-color="#642f09"/><stop offset="1.000" stop-color="#641609"/></linearGradient><linearGradient id="s139" gradientUnits="userSpaceOnUse" x1="599.4" y1="114.2" x2="558.1" y2="21.7"><stop offset="-0.000" stop-color="#0c0965"/><stop offset="0.011" stop-color="#090965"/><stop offset="0.118" stop-color="#092365"/><stop offset="0.336" stop-color="#096565"/><stop offset="0.537" stop-color="#096518"/><stop offset="0.576" stop-color="#096509"/><stop offset="0.734" stop-color="#486509"/><stop offset="0.796" stop-color="#656509"/><stop offset="0.903" stop-color="#653009"/><stop offset="1.000" stop-color="#651609"/></linearGradient><linearGradient id="s140" gradientUnits="userSpaceOnUse" x1="599.4" y1="109.6" x2="558.0" y2="17.9"><stop offset="-0.000" stop-color="#0c0965"/><stop offset="0.013" stop-color="#090965"/><stop offset="0.119" stop-color="#092365"/><stop offset="0.338" stop-color="#096565"/><stop offset="0.538" stop-color="#096518"/><stop offset="0.578" stop-color="#096509"/><stop offset="0.735" stop-color="#486509"/><stop offset="0.798" stop-color="#656509"/><stop offset="0.904" stop-color="#653009"/><stop offset="1.000" stop-color="#651709"/></linearGradient><linearGradient id="s141" gradientUnits="userSpaceOnUse" x1="599.5" y1="104.9" x2="557.9" y2="14.1"><stop offset="-0.000" stop-color="#0c0966"/><stop offset="0.014" stop-color="#090966"/><stop offset="0.121" stop-color="#092366"/><stop offset="0.339" stop-color="#096666"/><stop offset="0.540" stop-color="#096618"/><stop offset="0.579" stop-color="#096609"/><stop offset="0.737" stop-color="#486609"/><stop offset="0.799" stop-color="#666609"/><stop offset="0.905" stop-color="#663009"/><stop offset="1.000" stop-color="#661709"/></linearGradient><linearGradient id="s142" gradientUnits="userSpaceOnUse" x1="599.6" y1="100.1" x2="557.8" y2="10.3"><stop offset="-0.000" stop-color="#0d0966"/><stop offset="0.016" stop-color="#090966"/><stop offset="0.122" stop-color="#092366"/><stop offset="0.341" stop-color="#096666"/><stop offset="0.541" stop-color="#096618"/><stop offset="0.581" stop-color="#096609"/><stop offset="0.738" stop-color="#486609"/><stop offset="0.800" stop-color="#666609"/><stop offset="0.906" stop-color="#663009"/><stop offset="1.000" stop-color="#661709"/></linearGradient><linearGradient id="s143" gradientUnits="userSpaceOnUse" x1="597.3" y1="101.5" x2="556.0" y2="11.1"><stop offset="-0.000" stop-color="#150969"/><stop offset="0.051" stop-color="#090969"/><stop offset="0.156" stop-color="#092469"/><stop offset="0.370" stop-color="#096969"/><stop offset="0.567" stop-color="#096918"/><stop offset="0.606" stop-color="#096909"/><stop offset="0.761" stop-color="#4a6909"/><stop offset="0.822" stop-color="#696909"/><stop offset="0.926" stop-color="#693109"/><stop offset="1.000" stop-color="#691d09"/></linearGradient><linearGradient id="s144" gradientUnits="userSpaceOnUse" x1="597.0" y1="106.4" x2="556.0" y2="15.0"><stop offset="-0.000" stop-color="#160969"/><stop offset="0.052" stop-color="#090969"/><stop offset="0.157" stop-color="#092469"/><stop offset="0.371" stop-color="#096969"/><stop offset="0.568" stop-color="#096918"/><stop offset="0.607" stop-color="#096909"/><stop offset="0.761" stop-color="#4a6909"/><stop offset="0.822" stop-color="#696909"/><stop offset="0.927" stop-color="#693109"/><stop offset="1.000" stop-color="#691d09"/></linearGradient><linearGradient id="s145" gradientUnits="userSpaceOnUse" x1="596.8" y1="111.2" x2="555.9" y2="18.8"><stop offset="-0.000" stop-color="#16096a"/><stop offset="0.054" stop-color="#09096a"/><stop offset="0.158" stop-color="#09246a"/><stop offset="0.372" stop-color="#096a6a"/><stop offset="0.569" stop-color="#096a18"/><stop offset="0.608" stop-color="#096a09"/><stop offset="0.762" stop-color="#4b6a09"/><stop offset="0.823" stop-color="#6a6a09"/><stop offset="0.928" stop-color="#6a3109"/><stop offset="1.000" stop-color="#6a1e09"/></linearGradient><linearGradient id="s146" gradientUnits="userSpaceOnUse" x1="596.5" y1="116.0" x2="555.8" y2="22.7"><stop offset="-0.000" stop-color="#17096a"/><stop offset="0.056" stop-color="#09096a"/><stop offset="0.160" stop-color="#09246a"/><stop offset="0.373" stop-color="#096a6a"/><stop offset="0.570" stop-color="#096a18"/><stop offset="0.609" stop-color="#096a09"/><stop offset="0.763" stop-color="#4b6a09"/><stop offset="0.824" stop-color="#6a6a09"/><stop offset="0.929" stop-color="#6a3209"/><stop offset="1.000" stop-color="#6a1e09"/></linearGradient><linearGradient id="s147" gradientUnits="userSpaceOnUse" x1="596.2" y1="120.8" x2="555.8" y2="26.5"><stop offset="-0.000" stop-color="#18096a"/><stop offset="0.058" stop-color="#09096a"/><stop offset="0.162" stop-color="#09246a"/><stop offset="0.375" stop-color="#096a6a"/><stop offset="0.571" stop-color="#096a19"/><stop offset="0.610" stop-color="#096a09"/><stop offset="0.764" stop-color="#4b6a09"/><stop offset="0.825" stop-color="#6a6a09"/><stop offset="0.930" stop-color="#6a3209"/><stop offset="1.000" stop-color="#6a1e09"/></linearGradient><linearGradient id="s148" gradientUnits="userSpaceOnUse" x1="595.9" y1="125.6" x2="555.7" y2="30.3"><stop offset="-0.000" stop-color="#18096b"/><stop offset="0.061" stop-color="#09096b"/><stop offset="0.164" stop-color="#09246b"/><stop offset="0.377" stop-color="#096b6b"/><stop offset="0.573" stop-color="#096b19"/><stop offset="0.611" stop-color="#096b09"/><stop offset="0.766" stop-color="#4c6b09"/><stop offset="0.827" stop-color="#6b6b09"/><stop offset="0.931" stop-color="#6b3209"/><stop offset="1.000" stop-color="#6b1f09"/></linearGradient><linearGradient id="s149" gradientUnits="userSpaceOnUse" x1="595.5" y1="130.3" x2="555.5" y2="34.0"><stop offset="-0.000" stop-color="#19096c"/><stop offset="0.064" stop-color="#09096c"/><stop offset="0.167" stop-color="#09256c"/><stop offset="0.380" stop-color="#096c6c"/><stop offset="0.575" stop-color="#096c19"/><stop offset="0.614" stop-color="#096c09"/><stop offset="0.767" stop-color="#4c6c09"/><stop offset="0.828" stop-color="#6c6c09"/><stop offset="0.933" stop-color="#6c3309"/><stop offset="1.000" stop-color="#6c2009"/></linearGradient><linearGradient id="s150" gradientUnits="userSpaceOnUse" x1="595.1" y1="135.1" x2="555.3" y2="37.8"><stop offset="-0.000" stop-color="#1b096e"/><stop offset="0.069" stop-color="#09096e"/><stop offset="0.172" stop-color="#09256e"/><stop offset="0.383" stop-color="#096e6e"/><stop offset="0.578" stop-color="#096e19"/><stop offset="0.616" stop-color="#096e09"/><stop offset="0.770" stop-color="#4d6e09"/><stop offset="0.831" stop-color="#6e6e09"/><stop offset="0.935" stop-color="#6e3309"/><stop offset="1.000" stop-color="#6e2109"/></linearGradient><linearGradient id="s151" gradientUnits="userSpaceOnUse" x1="594.6" y1="139.8" x2="555.0" y2="41.5"><stop offset="-0.000" stop-color="#1d0970"/><stop offset="0.076" stop-color="#090970"/><stop offset="0.178" stop-color="#092670"/><stop offset="0.388" stop-color="#097070"/><stop offset="0.582" stop-color="#097019"/><stop offset="0.621" stop-color="#097009"/><stop offset="0.773" stop-color="#4f7009"/><stop offset="0.834" stop-color="#707009"/><stop offset="0.938" stop-color="#703409"/><stop offset="1.000" stop-color="#702209"/></linearGradient><linearGradient id="s152" gradientUnits="userSpaceOnUse" x1="594.0" y1="144.7" x2="554.6" y2="45.1"><stop offset="-0.000" stop-color="#210975"/><stop offset="0.086" stop-color="#090975"/><stop offset="0.187" stop-color="#092775"/><stop offset="0.396" stop-color="#097575"/><stop offset="0.589" stop-color="#09751a"/><stop offset="0.627" stop-color="#097509"/><stop offset="0.779" stop-color="#537509"/><stop offset="0.839" stop-color="#757509"/><stop offset="0.942" stop-color="#753609"/><stop offset="1.000" stop-color="#752409"/></linearGradient><linearGradient id="s153" gradientUnits="userSpaceOnUse" x1="593.1" y1="149.6" x2="553.8" y2="48.5"><stop offset="-0.000" stop-color="#290980"/><stop offset="0.103" stop-color="#090980"/><stop offset="0.203" stop-color="#092a80"/><stop offset="0.409" stop-color="#098080"/><stop offset="0.599" stop-color="#09801c"/><stop offset="0.637" stop-color="#098009"/><stop offset="0.787" stop-color="#5a8009"/><stop offset="0.846" stop-color="#808009"/><stop offset="0.949" stop-color="#803b09"/><stop offset="1.000" stop-color="#802909"/></linearGradient><linearGradient id="s154" gradientUnits="userSpaceOnUse" x1="591.7" y1="154.2" x2="552.6" y2="51.3"><stop offset="-0.000" stop-color="#3c099e"/><stop offset="0.128" stop-color="#09099e"/><stop offset="0.226" stop-color="#09339e"/><stop offset="0.428" stop-color="#099e9e"/><stop offset="0.615" stop-color="#099e21"/><stop offset="0.652" stop-color="#099e09"/><stop offset="0.800" stop-color="#6e9e09"/><stop offset="0.858" stop-color="#9e9e09"/><stop offset="0.959" stop-color="#9e4809"/><stop offset="1.000" stop-color="#9e3609"/></linearGradient><linearGradient id="s155" gradientUnits="userSpaceOnUse" x1="589.8" y1="157.4" x2="551.1" y2="53.2"><stop offset="-0.000" stop-color="#700ce9"/><stop offset="0.030" stop-color="#590ce9"/><stop offset="0.158" stop-color="#0c0ce9"/><stop offset="0.254" stop-color="#0c4ae9"/><stop offset="0.453" stop-color="#0ce9e9"/><stop offset="0.636" stop-color="#0ce92f"/><stop offset="0.673" stop-color="#0ce90c"/><stop offset="0.818" stop-color="#a2e90c"/><stop offset="0.875" stop-color="#e9e90c"/><stop offset="0.974" stop-color="#e9690c"/><stop offset="1.000" stop-color="#e9580c"/></linearGradient><linearGradient id="s156" gradientUnits="userSpaceOnUse" x1="587.7" y1="158.9" x2="549.4" y2="54.0"><stop offset="-0.000" stop-color="#8d0af0"/><stop offset="0.062" stop-color="#5a0af0"/><stop offset="0.188" stop-color="#0a0af0"/><stop offset="0.283" stop-color="#0a4af0"/><stop offset="0.478" stop-color="#0af0f0"/><stop offset="0.659" stop-color="#0af02f"/><stop offset="0.695" stop-color="#0af00a"/><stop offset="0.838" stop-color="#a6f00a"/><stop offset="0.895" stop-color="#f0f00a"/><stop offset="0.992" stop-color="#f06a0a"/><stop offset="1.000" stop-color="#f0650a"/></linearGradient><linearGradient id="s157" gradientUnits="userSpaceOnUse" x1="585.7" y1="158.4" x2="547.9" y2="53.6"><stop offset="-0.000" stop-color="#9c09e7"/><stop offset="0.089" stop-color="#5709e7"/><stop offset="0.214" stop-color="#0909e7"/><stop offset="0.307" stop-color="#0947e7"/><stop offset="0.501" stop-color="#09e7e7"/><stop offset="0.680" stop-color="#09e72c"/><stop offset="0.715" stop-color="#09e709"/><stop offset="0.857" stop-color="#a0e709"/><stop offset="0.913" stop-color="#e7e709"/><stop offset="1.000" stop-color="#e77409"/></linearGradient><linearGradient id="s158" gradientUnits="userSpaceOnUse" x1="584.1" y1="155.8" x2="546.8" y2="51.8"><stop offset="-0.000" stop-color="#8a09bb"/><stop offset="0.107" stop-color="#4709bb"/><stop offset="0.231" stop-color="#0909bb"/><stop offset="0.324" stop-color="#093bbb"/><stop offset="0.517" stop-color="#09bbbb"/><stop offset="0.696" stop-color="#09bb25"/><stop offset="0.731" stop-color="#09bb09"/><stop offset="0.872" stop-color="#82bb09"/><stop offset="0.928" stop-color="#bbbb09"/><stop offset="1.000" stop-color="#bb6f09"/></linearGradient><linearGradient id="s159" gradientUnits="userSpaceOnUse" x1="583.1" y1="152.1" x2="546.0" y2="49.1"><stop offset="-0.000" stop-color="#460959"/><stop offset="0.118" stop-color="#250959"/><stop offset="0.242" stop-color="#090959"/><stop offset="0.335" stop-color="#091f59"/><stop offset="0.528" stop-color="#095959"/><stop offset="0.706" stop-color="#095916"/><stop offset="0.741" stop-color="#095909"/><stop offset="0.882" stop-color="#3f5909"/><stop offset="0.938" stop-color="#595909"/><stop offset="1.000" stop-color="#593b09"/></linearGradient><linearGradient id="s160" gradientUnits="userSpaceOnUse" x1="582.5" y1="147.9" x2="545.5" y2="45.9"><stop offset="-0.000" stop-color="#4c095e"/><stop offset="0.125" stop-color="#27095e"/><stop offset="0.249" stop-color="#09095e"/><stop offset="0.342" stop-color="#09215e"/><stop offset="0.534" stop-color="#095e5e"/><stop offset="0.712" stop-color="#095e17"/><stop offset="0.748" stop-color="#095e09"/><stop offset="0.888" stop-color="#435e09"/><stop offset="0.944" stop-color="#5e5e09"/><stop offset="1.000" stop-color="#5e4209"/></linearGradient><linearGradient id="s161" gradientUnits="userSpaceOnUse" x1="582.1" y1="143.6" x2="545.2" y2="42.4"><stop offset="-0.000" stop-color="#500961"/><stop offset="0.001" stop-color="#4f0961"/><stop offset="0.130" stop-color="#280961"/><stop offset="0.254" stop-color="#090961"/><stop offset="0.347" stop-color="#092261"/><stop offset="0.539" stop-color="#096161"/><stop offset="0.717" stop-color="#096117"/><stop offset="0.752" stop-color="#096109"/><stop offset="0.893" stop-color="#456109"/><stop offset="0.948" stop-color="#616109"/><stop offset="1.000" stop-color="#614609"/></linearGradient><linearGradient id="s162" gradientUnits="userSpaceOnUse" x1="581.9" y1="139.2" x2="544.9" y2="38.8"><stop offset="-0.000" stop-color="#520963"/><stop offset="0.005" stop-color="#510963"/><stop offset="0.134" stop-color="#280963"/><stop offset="0.258" stop-color="#090963"/><stop offset="0.351" stop-color="#092263"/><stop offset="0.543" stop-color="#096363"/><stop offset="0.720" stop-color="#096317"/><stop offset="0.755" stop-color="#096309"/><stop offset="0.896" stop-color="#466309"/><stop offset="0.951" stop-color="#636309"/><stop offset="1.000" stop-color="#634809"/></linearGradient><linearGradient id="s163" gradientUnits="userSpaceOnUse" x1="581.7" y1="134.7" x2="544.6" y2="35.2"><stop offset="-0.000" stop-color="#530964"/><stop offset="0.008" stop-color="#520964"/><stop offset="0.137" stop-color="#290964"/><stop offset="0.261" stop-color="#090964"/><stop offset="0.354" stop-color="#092264"/><stop offset="0.546" stop-color="#096464"/><stop offset="0.723" stop-color="#096417"/><stop offset="0.758" stop-color="#096409"/><stop offset="0.898" stop-color="#476409"/><stop offset="0.953" stop-color="#646409"/><stop offset="1.000" stop-color="#644a09"/></linearGradient><linearGradient id="s164" gradientUnits="userSpaceOnUse" x1="581.6" y1="130.1" x2="544.4" y2="31.4"><stop offset="-0.000" stop-color="#540964"/><stop offset="0.011" stop-color="#520964"/><stop offset="0.139" stop-color="#290964"/><stop offset="0.263" stop-color="#090964"/><stop offset="0.356" stop-color="#092364"/><stop offset="0.548" stop-color="#096464"/><stop offset="0.725" stop-color="#096418"/><stop offset="0.760" stop-color="#096409"/><stop offset="0.900" stop-color="#476409"/><stop offset="0.955" stop-color="#646409"/><stop offset="1.000" stop-color="#644c09"/></linearGradient><linearGradient id="s165" gradientUnits="userSpaceOnUse" x1="581.6" y1="125.4" x2="544.2" y2="27.7"><stop offset="-0.000" stop-color="#550965"/><stop offset="0.013" stop-color="#530965"/><stop offset="0.141" stop-color="#290965"/><stop offset="0.265" stop-color="#090965"/><stop offset="0.358" stop-color="#092365"/><stop offset="0.550" stop-color="#096565"/><stop offset="0.727" stop-color="#096518"/><stop offset="0.762" stop-color="#096509"/><stop offset="0.901" stop-color="#486509"/><stop offset="0.956" stop-color="#656509"/><stop offset="1.000" stop-color="#654d09"/></linearGradient><linearGradient id="s166" gradientUnits="userSpaceOnUse" x1="581.5" y1="120.7" x2="544.0" y2="23.8"><stop offset="-0.000" stop-color="#560965"/><stop offset="0.014" stop-color="#530965"/><stop offset="0.143" stop-color="#290965"/><stop offset="0.267" stop-color="#090965"/><stop offset="0.360" stop-color="#092365"/><stop offset="0.552" stop-color="#096565"/><stop offset="0.728" stop-color="#096518"/><stop offset="0.763" stop-color="#096509"/><stop offset="0.902" stop-color="#486509"/><stop offset="0.958" stop-color="#656509"/><stop offset="1.000" stop-color="#654e09"/></linearGradient><linearGradient id="s167" gradientUnits="userSpaceOnUse" x1="581.5" y1="115.9" x2="543.9" y2="20.0"><stop offset="-0.000" stop-color="#570966"/><stop offset="0.016" stop-color="#530966"/><stop offset="0.145" stop-color="#290966"/><stop offset="0.269" stop-color="#090966"/><stop offset="0.362" stop-color="#092366"/><stop offset="0.553" stop-color="#096666"/><stop offset="0.730" stop-color="#096618"/><stop offset="0.764" stop-color="#096609"/><stop offset="0.903" stop-color="#486609"/><stop offset="0.958" stop-color="#666609"/><stop offset="1.000" stop-color="#664f09"/></linearGradient><linearGradient id="s168" gradientUnits="userSpaceOnUse" x1="581.5" y1="111.0" x2="543.7" y2="16.1"><stop offset="-0.000" stop-color="#570966"/><stop offset="0.017" stop-color="#530966"/><stop offset="0.146" stop-color="#290966"/><stop offset="0.270" stop-color="#090966"/><stop offset="0.363" stop-color="#092366"/><stop offset="0.554" stop-color="#096666"/><stop offset="0.731" stop-color="#096618"/><stop offset="0.765" stop-color="#096609"/><stop offset="0.904" stop-color="#486609"/><stop offset="0.959" stop-color="#666609"/><stop offset="1.000" stop-color="#664f09"/></linearGradient><linearGradient id="s169" gradientUnits="userSpaceOnUse" x1="579.0" y1="112.5" x2="541.8" y2="16.9"><stop offset="-0.000" stop-color="#620969"/><stop offset="0.052" stop-color="#560969"/><stop offset="0.179" stop-color="#2b0969"/><stop offset="0.301" stop-color="#090969"/><stop offset="0.392" stop-color="#092469"/><stop offset="0.580" stop-color="#096969"/><stop offset="0.754" stop-color="#096918"/><stop offset="0.788" stop-color="#096909"/><stop offset="0.925" stop-color="#4a6909"/><stop offset="0.979" stop-color="#696909"/><stop offset="1.000" stop-color="#695d09"/></linearGradient><linearGradient id="s170" gradientUnits="userSpaceOnUse" x1="578.9" y1="117.5" x2="541.8" y2="20.8"><stop offset="-0.000" stop-color="#620969"/><stop offset="0.054" stop-color="#560969"/><stop offset="0.180" stop-color="#2b0969"/><stop offset="0.302" stop-color="#090969"/><stop offset="0.393" stop-color="#092469"/><stop offset="0.581" stop-color="#096969"/><stop offset="0.754" stop-color="#096918"/><stop offset="0.789" stop-color="#096909"/><stop offset="0.925" stop-color="#4a6909"/><stop offset="0.979" stop-color="#696909"/><stop offset="1.000" stop-color="#695d09"/></linearGradient><linearGradient id="s171" gradientUnits="userSpaceOnUse" x1="578.7" y1="122.4" x2="541.8" y2="24.8"><stop offset="-0.000" stop-color="#63096a"/><stop offset="0.055" stop-color="#56096a"/><stop offset="0.182" stop-color="#2b096a"/><stop offset="0.303" stop-color="#09096a"/><stop offset="0.394" stop-color="#09246a"/><stop offset="0.582" stop-color="#096a6a"/><stop offset="0.755" stop-color="#096a18"/><stop offset="0.789" stop-color="#096a09"/><stop offset="0.926" stop-color="#4b6a09"/><stop offset="0.980" stop-color="#6a6a09"/><stop offset="1.000" stop-color="#6a5e09"/></linearGradient><linearGradient id="s172" gradientUnits="userSpaceOnUse" x1="578.5" y1="127.3" x2="541.8" y2="28.7"><stop offset="-0.000" stop-color="#64096a"/><stop offset="0.057" stop-color="#57096a"/><stop offset="0.183" stop-color="#2b096a"/><stop offset="0.304" stop-color="#09096a"/><stop offset="0.395" stop-color="#09246a"/><stop offset="0.583" stop-color="#096a6a"/><stop offset="0.756" stop-color="#096a18"/><stop offset="0.790" stop-color="#096a09"/><stop offset="0.927" stop-color="#4b6a09"/><stop offset="0.981" stop-color="#6a6a09"/><stop offset="1.000" stop-color="#6a5f09"/></linearGradient><linearGradient id="s173" gradientUnits="userSpaceOnUse" x1="578.3" y1="132.2" x2="541.8" y2="32.6"><stop offset="-0.000" stop-color="#65096a"/><stop offset="0.060" stop-color="#57096a"/><stop offset="0.185" stop-color="#2b096a"/><stop offset="0.306" stop-color="#09096a"/><stop offset="0.397" stop-color="#09246a"/><stop offset="0.584" stop-color="#096a6a"/><stop offset="0.757" stop-color="#096a19"/><stop offset="0.791" stop-color="#096a09"/><stop offset="0.928" stop-color="#4b6a09"/><stop offset="0.982" stop-color="#6a6a09"/><stop offset="1.000" stop-color="#6a6009"/></linearGradient><linearGradient id="s174" gradientUnits="userSpaceOnUse" x1="578.1" y1="137.1" x2="541.8" y2="36.4"><stop offset="-0.000" stop-color="#66096b"/><stop offset="0.062" stop-color="#57096b"/><stop offset="0.188" stop-color="#2b096b"/><stop offset="0.308" stop-color="#09096b"/><stop offset="0.399" stop-color="#09246b"/><stop offset="0.586" stop-color="#096b6b"/><stop offset="0.758" stop-color="#096b19"/><stop offset="0.793" stop-color="#096b09"/><stop offset="0.929" stop-color="#4c6b09"/><stop offset="0.983" stop-color="#6b6b09"/><stop offset="1.000" stop-color="#6b6109"/></linearGradient><linearGradient id="s175" gradientUnits="userSpaceOnUse" x1="577.8" y1="141.9" x2="541.7" y2="40.3"><stop offset="-0.000" stop-color="#68096c"/><stop offset="0.066" stop-color="#58096c"/><stop offset="0.191" stop-color="#2c096c"/><stop offset="0.311" stop-color="#09096c"/><stop offset="0.401" stop-color="#09256c"/><stop offset="0.588" stop-color="#096c6c"/><stop offset="0.760" stop-color="#096c19"/><stop offset="0.794" stop-color="#096c09"/><stop offset="0.931" stop-color="#4c6c09"/><stop offset="0.985" stop-color="#6c6c09"/><stop offset="1.000" stop-color="#6c6309"/></linearGradient><linearGradient id="s176" gradientUnits="userSpaceOnUse" x1="577.4" y1="146.7" x2="541.5" y2="44.1"><stop offset="-0.000" stop-color="#6b096e"/><stop offset="0.071" stop-color="#5a096e"/><stop offset="0.195" stop-color="#2c096e"/><stop offset="0.315" stop-color="#09096e"/><stop offset="0.405" stop-color="#09256e"/><stop offset="0.591" stop-color="#096e6e"/><stop offset="0.763" stop-color="#096e19"/><stop offset="0.797" stop-color="#096e09"/><stop offset="0.933" stop-color="#4d6e09"/><stop offset="0.987" stop-color="#6e6e09"/><stop offset="1.000" stop-color="#6e6609"/></linearGradient><linearGradient id="s177" gradientUnits="userSpaceOnUse" x1="577.0" y1="151.6" x2="541.3" y2="47.8"><stop offset="-0.000" stop-color="#6f0970"/><stop offset="0.078" stop-color="#5c0970"/><stop offset="0.201" stop-color="#2d0970"/><stop offset="0.320" stop-color="#090970"/><stop offset="0.410" stop-color="#092670"/><stop offset="0.595" stop-color="#097070"/><stop offset="0.766" stop-color="#097019"/><stop offset="0.800" stop-color="#097009"/><stop offset="0.936" stop-color="#4f7009"/><stop offset="0.990" stop-color="#707009"/><stop offset="1.000" stop-color="#706a09"/></linearGradient><linearGradient id="s178" gradientUnits="userSpaceOnUse" x1="576.4" y1="156.6" x2="540.8" y2="51.5"><stop offset="-0.000" stop-color="#750974"/><stop offset="0.006" stop-color="#750975"/><stop offset="0.088" stop-color="#600975"/><stop offset="0.211" stop-color="#2f0975"/><stop offset="0.329" stop-color="#090975"/><stop offset="0.417" stop-color="#092775"/><stop offset="0.601" stop-color="#097575"/><stop offset="0.772" stop-color="#09751a"/><stop offset="0.805" stop-color="#097509"/><stop offset="0.940" stop-color="#537509"/><stop offset="0.994" stop-color="#757509"/><stop offset="1.000" stop-color="#757109"/></linearGradient><linearGradient id="s179" gradientUnits="userSpaceOnUse" x1="575.5" y1="161.6" x2="540.1" y2="55.0"><stop offset="-0.000" stop-color="#800979"/><stop offset="0.024" stop-color="#800980"/><stop offset="0.105" stop-color="#680980"/><stop offset="0.226" stop-color="#320980"/><stop offset="0.342" stop-color="#090980"/><stop offset="0.430" stop-color="#092a80"/><stop offset="0.611" stop-color="#098080"/><stop offset="0.780" stop-color="#09801c"/><stop offset="0.813" stop-color="#098009"/><stop offset="0.947" stop-color="#5a8009"/><stop offset="1.000" stop-color="#808009"/><stop offset="1.000" stop-color="#807f09"/></linearGradient><linearGradient id="s180" gradientUnits="userSpaceOnUse" x1="574.1" y1="166.4" x2="538.9" y2="57.8"><stop offset="-0.000" stop-color="#9e098c"/><stop offset="0.051" stop-color="#9e099e"/><stop offset="0.130" stop-color="#80099e"/><stop offset="0.249" stop-color="#3d099e"/><stop offset="0.363" stop-color="#09099e"/><stop offset="0.449" stop-color="#09339e"/><stop offset="0.628" stop-color="#099e9e"/><stop offset="0.793" stop-color="#099e21"/><stop offset="0.826" stop-color="#099e09"/><stop offset="0.957" stop-color="#6e9e09"/><stop offset="1.000" stop-color="#959e09"/></linearGradient><linearGradient id="s181" gradientUnits="userSpaceOnUse" x1="572.1" y1="169.7" x2="537.3" y2="59.8"><stop offset="-0.000" stop-color="#e90cbc"/><stop offset="0.082" stop-color="#e90ce9"/><stop offset="0.160" stop-color="#bd0ce9"/><stop offset="0.277" stop-color="#590ce9"/><stop offset="0.389" stop-color="#0c0ce9"/><stop offset="0.473" stop-color="#0c4ae9"/><stop offset="0.648" stop-color="#0ce9e9"/><stop offset="0.811" stop-color="#0ce92f"/><stop offset="0.843" stop-color="#0ce90c"/><stop offset="0.972" stop-color="#a2e90c"/><stop offset="1.000" stop-color="#c8e90c"/></linearGradient><linearGradient id="s182" gradientUnits="userSpaceOnUse" x1="569.4" y1="169.9" x2="535.5" y2="60.6"><stop offset="-0.000" stop-color="#f00ab6"/><stop offset="0.102" stop-color="#f00af0"/><stop offset="0.180" stop-color="#c20af0"/><stop offset="0.296" stop-color="#5a0af0"/><stop offset="0.408" stop-color="#0a0af0"/><stop offset="0.492" stop-color="#0a4af0"/><stop offset="0.667" stop-color="#0af0f0"/><stop offset="0.829" stop-color="#0af02f"/><stop offset="0.861" stop-color="#0af00a"/><stop offset="0.990" stop-color="#a6f00a"/><stop offset="1.000" stop-color="#b4f00a"/></linearGradient><linearGradient id="s183" gradientUnits="userSpaceOnUse" x1="566.3" y1="166.3" x2="533.9" y2="60.2"><stop offset="-0.000" stop-color="#e709b0"/><stop offset="0.104" stop-color="#e709e7"/><stop offset="0.183" stop-color="#bb09e7"/><stop offset="0.301" stop-color="#5709e7"/><stop offset="0.415" stop-color="#0909e7"/><stop offset="0.501" stop-color="#0947e7"/><stop offset="0.679" stop-color="#09e7e7"/><stop offset="0.844" stop-color="#09e72c"/><stop offset="0.877" stop-color="#09e709"/><stop offset="1.000" stop-color="#96e709"/></linearGradient><linearGradient id="s184" gradientUnits="userSpaceOnUse" x1="564.0" y1="161.8" x2="532.7" y2="58.4"><stop offset="-0.000" stop-color="#bb098e"/><stop offset="0.106" stop-color="#bb09bb"/><stop offset="0.186" stop-color="#9709bb"/><stop offset="0.306" stop-color="#4709bb"/><stop offset="0.421" stop-color="#0909bb"/><stop offset="0.509" stop-color="#093bbb"/><stop offset="0.689" stop-color="#09bbbb"/><stop offset="0.857" stop-color="#09bb25"/><stop offset="0.890" stop-color="#09bb09"/><stop offset="1.000" stop-color="#6cbb09"/></linearGradient><linearGradient id="s185" gradientUnits="userSpaceOnUse" x1="562.5" y1="156.9" x2="531.9" y2="55.7"><stop offset="-0.000" stop-color="#590945"/><stop offset="0.107" stop-color="#590959"/><stop offset="0.188" stop-color="#490959"/><stop offset="0.309" stop-color="#250959"/><stop offset="0.426" stop-color="#090959"/><stop offset="0.514" stop-color="#091f59"/><stop offset="0.696" stop-color="#095959"/><stop offset="0.866" stop-color="#095916"/><stop offset="0.900" stop-color="#095909"/><stop offset="1.000" stop-color="#315909"/></linearGradient><linearGradient id="s186" gradientUnits="userSpaceOnUse" x1="561.6" y1="152.0" x2="531.3" y2="52.4"><stop offset="-0.000" stop-color="#5e0949"/><stop offset="0.108" stop-color="#5e095e"/><stop offset="0.189" stop-color="#4d095e"/><stop offset="0.311" stop-color="#27095e"/><stop offset="0.429" stop-color="#09095e"/><stop offset="0.517" stop-color="#09215e"/><stop offset="0.701" stop-color="#095e5e"/><stop offset="0.872" stop-color="#095e17"/><stop offset="0.905" stop-color="#095e09"/><stop offset="1.000" stop-color="#315e09"/></linearGradient><linearGradient id="s187" gradientUnits="userSpaceOnUse" x1="560.9" y1="147.1" x2="530.9" y2="48.9"><stop offset="-0.000" stop-color="#61094b"/><stop offset="0.108" stop-color="#610961"/><stop offset="0.190" stop-color="#4f0961"/><stop offset="0.313" stop-color="#280961"/><stop offset="0.431" stop-color="#090961"/><stop offset="0.520" stop-color="#092261"/><stop offset="0.704" stop-color="#096161"/><stop offset="0.875" stop-color="#096117"/><stop offset="0.909" stop-color="#096109"/><stop offset="1.000" stop-color="#306109"/></linearGradient><linearGradient id="s188" gradientUnits="userSpaceOnUse" x1="560.5" y1="142.3" x2="530.5" y2="45.3"><stop offset="-0.000" stop-color="#63094c"/><stop offset="0.109" stop-color="#630963"/><stop offset="0.191" stop-color="#510963"/><stop offset="0.314" stop-color="#280963"/><stop offset="0.433" stop-color="#090963"/><stop offset="0.522" stop-color="#092263"/><stop offset="0.707" stop-color="#096363"/><stop offset="0.878" stop-color="#096317"/><stop offset="0.912" stop-color="#096309"/><stop offset="1.000" stop-color="#306309"/></linearGradient><linearGradient id="s189" gradientUnits="userSpaceOnUse" x1="560.1" y1="137.4" x2="530.2" y2="41.5"><stop offset="-0.000" stop-color="#64094d"/><stop offset="0.109" stop-color="#640964"/><stop offset="0.192" stop-color="#520964"/><stop offset="0.315" stop-color="#290964"/><stop offset="0.434" stop-color="#090964"/><stop offset="0.523" stop-color="#092264"/><stop offset="0.708" stop-color="#096464"/><stop offset="0.880" stop-color="#096417"/><stop offset="0.914" stop-color="#096409"/><stop offset="1.000" stop-color="#2f6409"/></linearGradient><linearGradient id="s190" gradientUnits="userSpaceOnUse" x1="559.8" y1="132.6" x2="529.9" y2="37.8"><stop offset="-0.000" stop-color="#64094e"/><stop offset="0.109" stop-color="#640964"/><stop offset="0.192" stop-color="#520964"/><stop offset="0.316" stop-color="#290964"/><stop offset="0.435" stop-color="#090964"/><stop offset="0.524" stop-color="#092364"/><stop offset="0.710" stop-color="#096464"/><stop offset="0.882" stop-color="#096418"/><stop offset="0.916" stop-color="#096409"/><stop offset="1.000" stop-color="#2f6409"/></linearGradient><linearGradient id="s191" gradientUnits="userSpaceOnUse" x1="559.5" y1="127.7" x2="529.6" y2="33.9"><stop offset="-0.000" stop-color="#65094e"/><stop offset="0.110" stop-color="#650965"/><stop offset="0.193" stop-color="#530965"/><stop offset="0.317" stop-color="#290965"/><stop offset="0.436" stop-color="#090965"/><stop offset="0.526" stop-color="#092365"/><stop offset="0.711" stop-color="#096565"/><stop offset="0.883" stop-color="#096518"/><stop offset="0.917" stop-color="#096509"/><stop offset="1.000" stop-color="#2e6509"/></linearGradient><linearGradient id="s192" gradientUnits="userSpaceOnUse" x1="559.3" y1="122.8" x2="529.4" y2="30.0"><stop offset="-0.000" stop-color="#65094e"/><stop offset="0.110" stop-color="#650965"/><stop offset="0.193" stop-color="#530965"/><stop offset="0.317" stop-color="#290965"/><stop offset="0.437" stop-color="#090965"/><stop offset="0.526" stop-color="#092365"/><stop offset="0.712" stop-color="#096565"/><stop offset="0.884" stop-color="#096518"/><stop offset="0.918" stop-color="#096509"/><stop offset="1.000" stop-color="#2e6509"/></linearGradient><linearGradient id="s193" gradientUnits="userSpaceOnUse" x1="559.1" y1="117.8" x2="529.2" y2="26.1"><stop offset="-0.000" stop-color="#66094f"/><stop offset="0.110" stop-color="#660966"/><stop offset="0.194" stop-color="#530966"/><stop offset="0.318" stop-color="#290966"/><stop offset="0.437" stop-color="#090966"/><stop offset="0.527" stop-color="#092366"/><stop offset="0.713" stop-color="#096666"/><stop offset="0.885" stop-color="#096618"/><stop offset="0.919" stop-color="#096609"/><stop offset="1.000" stop-color="#2e6609"/></linearGradient><linearGradient id="s194" gradientUnits="userSpaceOnUse" x1="558.9" y1="112.8" x2="529.0" y2="22.1"><stop offset="-0.000" stop-color="#66094f"/><stop offset="0.110" stop-color="#660966"/><stop offset="0.194" stop-color="#530966"/><stop offset="0.318" stop-color="#290966"/><stop offset="0.438" stop-color="#090966"/><stop offset="0.528" stop-color="#092366"/><stop offset="0.714" stop-color="#096666"/><stop offset="0.886" stop-color="#096618"/><stop offset="0.920" stop-color="#096609"/><stop offset="1.000" stop-color="#2d6609"/></linearGradient><linearGradient id="s195" gradientUnits="userSpaceOnUse" x1="555.3" y1="110.9" x2="527.0" y2="23.0"><stop offset="-0.000" stop-color="#690951"/><stop offset="0.112" stop-color="#690969"/><stop offset="0.198" stop-color="#560969"/><stop offset="0.325" stop-color="#2b0969"/><stop offset="0.447" stop-color="#090969"/><stop offset="0.539" stop-color="#092469"/><stop offset="0.729" stop-color="#096969"/><stop offset="0.905" stop-color="#096918"/><stop offset="0.940" stop-color="#096909"/><stop offset="1.000" stop-color="#246909"/></linearGradient><linearGradient id="s196" gradientUnits="userSpaceOnUse" x1="555.2" y1="115.7" x2="527.0" y2="27.0"><stop offset="-0.000" stop-color="#690951"/><stop offset="0.112" stop-color="#690969"/><stop offset="0.198" stop-color="#560969"/><stop offset="0.325" stop-color="#2b0969"/><stop offset="0.447" stop-color="#090969"/><stop offset="0.539" stop-color="#092469"/><stop offset="0.729" stop-color="#096969"/><stop offset="0.906" stop-color="#096918"/><stop offset="0.941" stop-color="#096909"/><stop offset="1.000" stop-color="#246909"/></linearGradient><linearGradient id="s197" gradientUnits="userSpaceOnUse" x1="555.1" y1="120.5" x2="527.1" y2="31.0"><stop offset="-0.000" stop-color="#6a0951"/><stop offset="0.112" stop-color="#6a096a"/><stop offset="0.198" stop-color="#56096a"/><stop offset="0.325" stop-color="#2b096a"/><stop offset="0.447" stop-color="#09096a"/><stop offset="0.539" stop-color="#09246a"/><stop offset="0.730" stop-color="#096a6a"/><stop offset="0.906" stop-color="#096a18"/><stop offset="0.941" stop-color="#096a09"/><stop offset="1.000" stop-color="#246a09"/></linearGradient><linearGradient id="s198" gradientUnits="userSpaceOnUse" x1="555.0" y1="125.1" x2="527.2" y2="35.0"><stop offset="-0.000" stop-color="#6a0952"/><stop offset="0.112" stop-color="#6a096a"/><stop offset="0.198" stop-color="#57096a"/><stop offset="0.325" stop-color="#2b096a"/><stop offset="0.447" stop-color="#09096a"/><stop offset="0.539" stop-color="#09246a"/><stop offset="0.730" stop-color="#096a6a"/><stop offset="0.907" stop-color="#096a18"/><stop offset="0.942" stop-color="#096a09"/><stop offset="1.000" stop-color="#236a09"/></linearGradient><linearGradient id="s199" gradientUnits="userSpaceOnUse" x1="554.8" y1="129.8" x2="527.2" y2="38.9"><stop offset="-0.000" stop-color="#6a0952"/><stop offset="0.112" stop-color="#6a096a"/><stop offset="0.198" stop-color="#57096a"/><stop offset="0.325" stop-color="#2b096a"/><stop offset="0.447" stop-color="#09096a"/><stop offset="0.540" stop-color="#09246a"/><stop offset="0.731" stop-color="#096a6a"/><stop offset="0.908" stop-color="#096a19"/><stop offset="0.943" stop-color="#096a09"/><stop offset="1.000" stop-color="#236a09"/></linearGradient><linearGradient id="s200" gradientUnits="userSpaceOnUse" x1="554.6" y1="134.3" x2="527.2" y2="42.9"><stop offset="-0.000" stop-color="#6b0953"/><stop offset="0.112" stop-color="#6b096b"/><stop offset="0.198" stop-color="#57096b"/><stop offset="0.325" stop-color="#2b096b"/><stop offset="0.448" stop-color="#09096b"/><stop offset="0.540" stop-color="#09246b"/><stop offset="0.732" stop-color="#096b6b"/><stop offset="0.909" stop-color="#096b19"/><stop offset="0.945" stop-color="#096b09"/><stop offset="1.000" stop-color="#226b09"/></linearGradient><linearGradient id="s201" gradientUnits="userSpaceOnUse" x1="554.3" y1="138.7" x2="527.1" y2="46.8"><stop offset="-0.000" stop-color="#6c0953"/><stop offset="0.112" stop-color="#6c096c"/><stop offset="0.198" stop-color="#58096c"/><stop offset="0.325" stop-color="#2c096c"/><stop offset="0.448" stop-color="#09096c"/><stop offset="0.541" stop-color="#09256c"/><stop offset="0.733" stop-color="#096c6c"/><stop offset="0.911" stop-color="#096c19"/><stop offset="0.946" stop-color="#096c09"/><stop offset="1.000" stop-color="#226c09"/></linearGradient><linearGradient id="s202" gradientUnits="userSpaceOnUse" x1="553.9" y1="143.0" x2="527.0" y2="50.6"><stop offset="-0.000" stop-color="#6e0955"/><stop offset="0.113" stop-color="#6e096e"/><stop offset="0.198" stop-color="#5a096e"/><stop offset="0.326" stop-color="#2c096e"/><stop offset="0.449" stop-color="#09096e"/><stop offset="0.542" stop-color="#09256e"/><stop offset="0.734" stop-color="#096e6e"/><stop offset="0.913" stop-color="#096e19"/><stop offset="0.948" stop-color="#096e09"/><stop offset="1.000" stop-color="#216e09"/></linearGradient><linearGradient id="s203" gradientUnits="userSpaceOnUse" x1="553.4" y1="147.1" x2="526.8" y2="54.5"><stop offset="-0.000" stop-color="#700957"/><stop offset="0.113" stop-color="#700970"/><stop offset="0.199" stop-color="#5c0970"/><stop offset="0.327" stop-color="#2d0970"/><stop offset="0.450" stop-color="#090970"/><stop offset="0.543" stop-color="#092670"/><stop offset="0.736" stop-color="#097070"/><stop offset="0.916" stop-color="#097019"/><stop offset="0.951" stop-color="#097009"/><stop offset="1.000" stop-color="#207009"/></linearGradient><linearGradient id="s204" gradientUnits="userSpaceOnUse" x1="552.5" y1="150.9" x2="526.5" y2="58.2"><stop offset="-0.000" stop-color="#75095a"/><stop offset="0.113" stop-color="#750975"/><stop offset="0.199" stop-color="#600975"/><stop offset="0.328" stop-color="#2f0975"/><stop offset="0.452" stop-color="#090975"/><stop offset="0.545" stop-color="#092775"/><stop offset="0.739" stop-color="#097575"/><stop offset="0.920" stop-color="#09751a"/><stop offset="0.956" stop-color="#097509"/><stop offset="1.000" stop-color="#1f7509"/></linearGradient><linearGradient id="s205" gradientUnits="userSpaceOnUse" x1="551.2" y1="154.0" x2="525.7" y2="61.7"><stop offset="-0.000" stop-color="#800962"/><stop offset="0.114" stop-color="#800980"/><stop offset="0.200" stop-color="#680980"/><stop offset="0.330" stop-color="#320980"/><stop offset="0.454" stop-color="#090980"/><stop offset="0.549" stop-color="#092a80"/><stop offset="0.744" stop-color="#098080"/><stop offset="0.926" stop-color="#09801c"/><stop offset="0.962" stop-color="#098009"/><stop offset="1.000" stop-color="#1d8009"/></linearGradient><linearGradient id="s206" gradientUnits="userSpaceOnUse" x1="549.0" y1="155.8" x2="524.5" y2="64.6"><stop offset="-0.000" stop-color="#9e0979"/><stop offset="0.115" stop-color="#9e099e"/><stop offset="0.202" stop-color="#80099e"/><stop offset="0.333" stop-color="#3d099e"/><stop offset="0.459" stop-color="#09099e"/><stop offset="0.555" stop-color="#09339e"/><stop offset="0.753" stop-color="#099e9e"/><stop offset="0.937" stop-color="#099e21"/><stop offset="0.974" stop-color="#099e09"/><stop offset="1.000" stop-color="#1a9e09"/></linearGradient><linearGradient id="s207" gradientUnits="userSpaceOnUse" x1="546.1" y1="155.6" x2="522.9" y2="66.6"><stop offset="-0.000" stop-color="#e90cb1"/><stop offset="0.117" stop-color="#e90ce9"/><stop offset="0.206" stop-color="#bd0ce9"/><stop offset="0.339" stop-color="#590ce9"/><stop offset="0.468" stop-color="#0c0ce9"/><stop offset="0.565" stop-color="#0c4ae9"/><stop offset="0.767" stop-color="#0ce9e9"/><stop offset="0.955" stop-color="#0ce92f"/><stop offset="0.992" stop-color="#0ce90c"/><stop offset="1.000" stop-color="#13e90c"/></linearGradient><linearGradient id="s208" gradientUnits="userSpaceOnUse" x1="543.0" y1="153.7" x2="521.1" y2="67.5"><stop offset="-0.000" stop-color="#f00ab6"/><stop offset="0.120" stop-color="#f00af0"/><stop offset="0.211" stop-color="#c20af0"/><stop offset="0.347" stop-color="#5a0af0"/><stop offset="0.478" stop-color="#0a0af0"/><stop offset="0.578" stop-color="#0a4af0"/><stop offset="0.784" stop-color="#0af0f0"/><stop offset="0.977" stop-color="#0af02f"/><stop offset="1.000" stop-color="#0af019"/></linearGradient><linearGradient id="s209" gradientUnits="userSpaceOnUse" x1="540.1" y1="150.4" x2="519.3" y2="67.1"><stop offset="-0.000" stop-color="#e709b0"/><stop offset="0.122" stop-color="#e709e7"/><stop offset="0.216" stop-color="#bb09e7"/><stop offset="0.355" stop-color="#5709e7"/><stop offset="0.490" stop-color="#0909e7"/><stop offset="0.592" stop-color="#0947e7"/><stop offset="0.803" stop-color="#09e7e7"/><stop offset="1.000" stop-color="#09e72d"/></linearGradient><linearGradient id="s210" gradientUnits="userSpaceOnUse" x1="537.9" y1="146.0" x2="518.0" y2="65.4"><stop offset="-0.000" stop-color="#bb098e"/><stop offset="0.125" stop-color="#bb09bb"/><stop offset="0.220" stop-color="#9709bb"/><stop offset="0.362" stop-color="#4709bb"/><stop offset="0.500" stop-color="#0909bb"/><stop offset="0.604" stop-color="#093bbb"/><stop offset="0.820" stop-color="#09bbbb"/><stop offset="1.000" stop-color="#09bb36"/></linearGradient><linearGradient id="s211" gradientUnits="userSpaceOnUse" x1="536.4" y1="141.3" x2="517.1" y2="62.6"><stop offset="-0.000" stop-color="#b00986"/><stop offset="0.127" stop-color="#b009b0"/><stop offset="0.223" stop-color="#8f09b0"/><stop offset="0.368" stop-color="#4309b0"/><stop offset="0.507" stop-color="#0909b0"/><stop offset="0.613" stop-color="#0938b0"/><stop offset="0.832" stop-color="#09b0b0"/><stop offset="1.000" stop-color="#09b03d"/></linearGradient><linearGradient id="s212" gradientUnits="userSpaceOnUse" x1="535.4" y1="136.5" x2="516.4" y2="59.3"><stop offset="-0.000" stop-color="#5e0949"/><stop offset="0.128" stop-color="#5e095e"/><stop offset="0.225" stop-color="#4d095e"/><stop offset="0.371" stop-color="#27095e"/><stop offset="0.512" stop-color="#09095e"/><stop offset="0.618" stop-color="#09215e"/><stop offset="0.839" stop-color="#095e5e"/><stop offset="1.000" stop-color="#095e27"/></linearGradient><linearGradient id="s213" gradientUnits="userSpaceOnUse" x1="534.7" y1="131.8" x2="515.9" y2="55.7"><stop offset="-0.000" stop-color="#61094b"/><stop offset="0.129" stop-color="#610961"/><stop offset="0.227" stop-color="#4f0961"/><stop offset="0.373" stop-color="#280961"/><stop offset="0.515" stop-color="#090961"/><stop offset="0.622" stop-color="#092261"/><stop offset="0.844" stop-color="#096161"/><stop offset="1.000" stop-color="#09612a"/></linearGradient><linearGradient id="s214" gradientUnits="userSpaceOnUse" x1="534.1" y1="127.0" x2="515.4" y2="52.0"><stop offset="-0.000" stop-color="#63094c"/><stop offset="0.129" stop-color="#630963"/><stop offset="0.228" stop-color="#510963"/><stop offset="0.375" stop-color="#280963"/><stop offset="0.517" stop-color="#090963"/><stop offset="0.624" stop-color="#092263"/><stop offset="0.847" stop-color="#096363"/><stop offset="1.000" stop-color="#09632c"/></linearGradient><linearGradient id="s215" gradientUnits="userSpaceOnUse" x1="533.6" y1="122.3" x2="515.0" y2="48.2"><stop offset="-0.000" stop-color="#64094d"/><stop offset="0.130" stop-color="#640964"/><stop offset="0.229" stop-color="#520964"/><stop offset="0.376" stop-color="#290964"/><stop offset="0.519" stop-color="#090964"/><stop offset="0.627" stop-color="#092264"/><stop offset="0.850" stop-color="#096464"/><stop offset="1.000" stop-color="#09642e"/></linearGradient><linearGradient id="s216" gradientUnits="userSpaceOnUse" x1="533.2" y1="117.6" x2="514.7" y2="44.4"><stop offset="-0.000" stop-color="#64094e"/><stop offset="0.130" stop-color="#640964"/><stop offset="0.229" stop-color="#520964"/><stop offset="0.377" stop-color="#290964"/><stop offset="0.520" stop-color="#090964"/><stop offset="0.628" stop-color="#092364"/><stop offset="0.852" stop-color="#096464"/><stop offset="1.000" stop-color="#09642f"/></linearGradient><linearGradient id="s217" gradientUnits="userSpaceOnUse" x1="532.8" y1="112.8" x2="514.4" y2="40.5"><stop offset="-0.000" stop-color="#65094e"/><stop offset="0.131" stop-color="#650965"/><stop offset="0.230" stop-color="#530965"/><stop offset="0.378" stop-color="#290965"/><stop offset="0.522" stop-color="#090965"/><stop offset="0.630" stop-color="#092365"/><stop offset="0.854" stop-color="#096565"/><stop offset="1.000" stop-color="#096530"/></linearGradient><linearGradient id="s218" gradientUnits="userSpaceOnUse" x1="532.5" y1="108.1" x2="514.0" y2="36.5"><stop offset="-0.000" stop-color="#65094e"/><stop offset="0.131" stop-color="#650965"/><stop offset="0.231" stop-color="#530965"/><stop offset="0.379" stop-color="#290965"/><stop offset="0.523" stop-color="#090965"/><stop offset="0.631" stop-color="#092365"/><stop offset="0.855" stop-color="#096565"/><stop offset="1.000" stop-color="#096530"/></linearGradient><linearGradient id="s219" gradientUnits="userSpaceOnUse" x1="532.2" y1="103.2" x2="513.7" y2="32.5"><stop offset="-0.000" stop-color="#66094f"/><stop offset="0.131" stop-color="#660966"/><stop offset="0.231" stop-color="#530966"/><stop offset="0.380" stop-color="#290966"/><stop offset="0.524" stop-color="#090966"/><stop offset="0.632" stop-color="#092366"/><stop offset="0.857" stop-color="#096666"/><stop offset="1.000" stop-color="#096631"/></linearGradient><linearGradient id="s220" gradientUnits="userSpaceOnUse" x1="531.9" y1="98.4" x2="513.5" y2="28.5"><stop offset="-0.000" stop-color="#66094f"/><stop offset="0.132" stop-color="#660966"/><stop offset="0.232" stop-color="#530966"/><stop offset="0.381" stop-color="#290966"/><stop offset="0.525" stop-color="#090966"/><stop offset="0.633" stop-color="#092366"/><stop offset="0.858" stop-color="#096666"/><stop offset="1.000" stop-color="#096632"/></linearGradient><linearGradient id="s221" gradientUnits="userSpaceOnUse" x1="528.5" y1="96.6" x2="511.4" y2="29.3"><stop offset="-0.000" stop-color="#690951"/><stop offset="0.135" stop-color="#690969"/><stop offset="0.238" stop-color="#560969"/><stop offset="0.392" stop-color="#2b0969"/><stop offset="0.540" stop-color="#090969"/><stop offset="0.651" stop-color="#092469"/><stop offset="0.883" stop-color="#096969"/><stop offset="1.000" stop-color="#09693e"/></linearGradient><linearGradient id="s222" gradientUnits="userSpaceOnUse" x1="528.6" y1="101.3" x2="511.5" y2="33.5"><stop offset="-0.000" stop-color="#690951"/><stop offset="0.135" stop-color="#690969"/><stop offset="0.238" stop-color="#560969"/><stop offset="0.392" stop-color="#2b0969"/><stop offset="0.540" stop-color="#090969"/><stop offset="0.652" stop-color="#092469"/><stop offset="0.884" stop-color="#096969"/><stop offset="1.000" stop-color="#09693f"/></linearGradient><linearGradient id="s223" gradientUnits="userSpaceOnUse" x1="528.6" y1="105.9" x2="511.6" y2="37.5"><stop offset="-0.000" stop-color="#6a0951"/><stop offset="0.135" stop-color="#6a096a"/><stop offset="0.238" stop-color="#56096a"/><stop offset="0.392" stop-color="#2b096a"/><stop offset="0.540" stop-color="#09096a"/><stop offset="0.652" stop-color="#09246a"/><stop offset="0.885" stop-color="#096a6a"/><stop offset="1.000" stop-color="#096a3f"/></linearGradient><linearGradient id="s224" gradientUnits="userSpaceOnUse" x1="528.6" y1="110.5" x2="511.8" y2="41.6"><stop offset="-0.000" stop-color="#6a0952"/><stop offset="0.135" stop-color="#6a096a"/><stop offset="0.238" stop-color="#57096a"/><stop offset="0.392" stop-color="#2b096a"/><stop offset="0.541" stop-color="#09096a"/><stop offset="0.653" stop-color="#09246a"/><stop offset="0.886" stop-color="#096a6a"/><stop offset="1.000" stop-color="#096a40"/></linearGradient><linearGradient id="s225" gradientUnits="userSpaceOnUse" x1="528.6" y1="115.0" x2="511.8" y2="45.6"><stop offset="-0.000" stop-color="#6a0952"/><stop offset="0.135" stop-color="#6a096a"/><stop offset="0.239" stop-color="#57096a"/><stop offset="0.393" stop-color="#2b096a"/><stop offset="0.542" stop-color="#09096a"/><stop offset="0.654" stop-color="#09246a"/><stop offset="0.887" stop-color="#096a6a"/><stop offset="1.000" stop-color="#096a41"/></linearGradient><linearGradient id="s226" gradientUnits="userSpaceOnUse" x1="528.5" y1="119.4" x2="511.9" y2="49.6"><stop offset="-0.000" stop-color="#6b0953"/><stop offset="0.136" stop-color="#6b096b"/><stop offset="0.239" stop-color="#57096b"/><stop offset="0.393" stop-color="#2b096b"/><stop offset="0.542" stop-color="#09096b"/><stop offset="0.655" stop-color="#09246b"/><stop offset="0.889" stop-color="#096b6b"/><stop offset="1.000" stop-color="#096b42"/></linearGradient><linearGradient id="s227" gradientUnits="userSpaceOnUse" x1="528.4" y1="123.8" x2="511.9" y2="53.6"><stop offset="-0.000" stop-color="#6c0953"/><stop offset="0.136" stop-color="#6c096c"/><stop offset="0.239" stop-color="#58096c"/><stop offset="0.394" stop-color="#2c096c"/><stop offset="0.543" stop-color="#09096c"/><stop offset="0.656" stop-color="#09256c"/><stop offset="0.891" stop-color="#096c6c"/><stop offset="1.000" stop-color="#096c44"/></linearGradient><linearGradient id="s228" gradientUnits="userSpaceOnUse" x1="528.2" y1="128.0" x2="511.9" y2="57.5"><stop offset="-0.000" stop-color="#6e0955"/><stop offset="0.136" stop-color="#6e096e"/><stop offset="0.240" stop-color="#5a096e"/><stop offset="0.395" stop-color="#2c096e"/><stop offset="0.545" stop-color="#09096e"/><stop offset="0.658" stop-color="#09256e"/><stop offset="0.894" stop-color="#096e6e"/><stop offset="1.000" stop-color="#096e46"/></linearGradient><linearGradient id="s229" gradientUnits="userSpaceOnUse" x1="527.8" y1="132.0" x2="511.7" y2="61.4"><stop offset="-0.000" stop-color="#700957"/><stop offset="0.137" stop-color="#700970"/><stop offset="0.241" stop-color="#5c0970"/><stop offset="0.396" stop-color="#2d0970"/><stop offset="0.547" stop-color="#090970"/><stop offset="0.661" stop-color="#092670"/><stop offset="0.898" stop-color="#097070"/><stop offset="1.000" stop-color="#097049"/></linearGradient><linearGradient id="s230" gradientUnits="userSpaceOnUse" x1="527.2" y1="135.7" x2="511.4" y2="65.2"><stop offset="-0.000" stop-color="#75095a"/><stop offset="0.137" stop-color="#750975"/><stop offset="0.242" stop-color="#600975"/><stop offset="0.399" stop-color="#2f0975"/><stop offset="0.550" stop-color="#090975"/><stop offset="0.665" stop-color="#092775"/><stop offset="0.903" stop-color="#097575"/><stop offset="1.000" stop-color="#09754f"/></linearGradient><linearGradient id="s231" gradientUnits="userSpaceOnUse" x1="526.0" y1="138.8" x2="510.7" y2="68.8"><stop offset="-0.000" stop-color="#800962"/><stop offset="0.139" stop-color="#800980"/><stop offset="0.244" stop-color="#680980"/><stop offset="0.402" stop-color="#320980"/><stop offset="0.555" stop-color="#090980"/><stop offset="0.671" stop-color="#092a80"/><stop offset="0.912" stop-color="#098080"/><stop offset="1.000" stop-color="#09805a"/></linearGradient><linearGradient id="s232" gradientUnits="userSpaceOnUse" x1="524.1" y1="140.6" x2="509.5" y2="71.8"><stop offset="-0.000" stop-color="#9e0979"/><stop offset="0.141" stop-color="#9e099e"/><stop offset="0.248" stop-color="#80099e"/><stop offset="0.409" stop-color="#3d099e"/><stop offset="0.564" stop-color="#09099e"/><stop offset="0.682" stop-color="#09339e"/><stop offset="0.927" stop-color="#099e9e"/><stop offset="1.000" stop-color="#099e77"/></linearGradient><linearGradient id="s233" gradientUnits="userSpaceOnUse" x1="521.5" y1="140.6" x2="507.8" y2="73.8"><stop offset="-0.000" stop-color="#e90cb1"/><stop offset="0.144" stop-color="#e90ce9"/><stop offset="0.254" stop-color="#bd0ce9"/><stop offset="0.419" stop-color="#590ce9"/><stop offset="0.579" stop-color="#0c0ce9"/><stop offset="0.699" stop-color="#0c4ae9"/><stop offset="0.951" stop-color="#0ce9e9"/><stop offset="1.000" stop-color="#0ce9c4"/></linearGradient><linearGradient id="s234" gradientUnits="userSpaceOnUse" x1="518.6" y1="138.8" x2="505.9" y2="74.8"><stop offset="-0.000" stop-color="#f00ab6"/><stop offset="0.149" stop-color="#f00af0"/><stop offset="0.263" stop-color="#c20af0"/><stop offset="0.433" stop-color="#5a0af0"/><stop offset="0.598" stop-color="#0a0af0"/><stop offset="0.722" stop-color="#0a4af0"/><stop offset="0.982" stop-color="#0af0f0"/><stop offset="1.000" stop-color="#0af0e2"/></linearGradient><linearGradient id="s235" gradientUnits="userSpaceOnUse" x1="515.9" y1="135.6" x2="504.0" y2="74.4"><stop offset="-0.000" stop-color="#e709b0"/><stop offset="0.154" stop-color="#e709e7"/><stop offset="0.272" stop-color="#bb09e7"/><stop offset="0.448" stop-color="#5709e7"/><stop offset="0.618" stop-color="#0909e7"/><stop offset="0.747" stop-color="#0947e7"/><stop offset="1.000" stop-color="#09dde7"/></linearGradient><linearGradient id="s236" gradientUnits="userSpaceOnUse" x1="513.8" y1="131.4" x2="502.6" y2="72.6"><stop offset="-0.000" stop-color="#bb098e"/><stop offset="0.159" stop-color="#bb09bb"/><stop offset="0.280" stop-color="#9709bb"/><stop offset="0.461" stop-color="#4709bb"/><stop offset="0.637" stop-color="#0909bb"/><stop offset="0.770" stop-color="#093bbb"/><stop offset="1.000" stop-color="#09a4bb"/></linearGradient><linearGradient id="s237" gradientUnits="userSpaceOnUse" x1="512.3" y1="126.8" x2="501.6" y2="69.8"><stop offset="-0.000" stop-color="#b00986"/><stop offset="0.162" stop-color="#b009b0"/><stop offset="0.285" stop-color="#8f09b0"/><stop offset="0.470" stop-color="#4309b0"/><stop offset="0.650" stop-color="#0909b0"/><stop offset="0.785" stop-color="#0938b0"/><stop offset="1.000" stop-color="#0992b0"/></linearGradient><linearGradient id="s238" gradientUnits="userSpaceOnUse" x1="511.2" y1="122.2" x2="500.8" y2="66.5"><stop offset="-0.000" stop-color="#ab0983"/><stop offset="0.164" stop-color="#ab09ab"/><stop offset="0.289" stop-color="#8b09ab"/><stop offset="0.476" stop-color="#4209ab"/><stop offset="0.658" stop-color="#0909ab"/><stop offset="0.795" stop-color="#0936ab"/><stop offset="1.000" stop-color="#0989ab"/></linearGradient><linearGradient id="s239" gradientUnits="userSpaceOnUse" x1="510.5" y1="117.6" x2="500.2" y2="62.8"><stop offset="-0.000" stop-color="#a80981"/><stop offset="0.165" stop-color="#a809a8"/><stop offset="0.292" stop-color="#8909a8"/><stop offset="0.480" stop-color="#4109a8"/><stop offset="0.663" stop-color="#0909a8"/><stop offset="0.802" stop-color="#0936a8"/><stop offset="1.000" stop-color="#0983a8"/></linearGradient><linearGradient id="s240" gradientUnits="userSpaceOnUse" x1="509.8" y1="113.0" x2="499.6" y2="59.1"><stop offset="-0.000" stop-color="#a7097f"/><stop offset="0.166" stop-color="#a709a7"/><stop offset="0.294" stop-color="#8709a7"/><stop offset="0.484" stop-color="#4009a7"/><stop offset="0.668" stop-color="#0909a7"/><stop offset="0.807" stop-color="#0935a7"/><stop offset="1.000" stop-color="#097fa7"/></linearGradient><linearGradient id="s241" gradientUnits="userSpaceOnUse" x1="509.2" y1="108.4" x2="499.2" y2="55.3"><stop offset="-0.000" stop-color="#a6097e"/><stop offset="0.167" stop-color="#a609a6"/><stop offset="0.295" stop-color="#8609a6"/><stop offset="0.486" stop-color="#4009a6"/><stop offset="0.671" stop-color="#0909a6"/><stop offset="0.811" stop-color="#0935a6"/><stop offset="1.000" stop-color="#097da6"/></linearGradient><linearGradient id="s242" gradientUnits="userSpaceOnUse" x1="508.7" y1="103.8" x2="498.7" y2="51.3"><stop offset="-0.000" stop-color="#64094e"/><stop offset="0.168" stop-color="#640964"/><stop offset="0.296" stop-color="#520964"/><stop offset="0.488" stop-color="#290964"/><stop offset="0.673" stop-color="#090964"/><stop offset="0.813" stop-color="#092364"/><stop offset="1.000" stop-color="#094c64"/></linearGradient><linearGradient id="s243" gradientUnits="userSpaceOnUse" x1="508.2" y1="99.2" x2="498.3" y2="47.4"><stop offset="-0.000" stop-color="#65094e"/><stop offset="0.169" stop-color="#650965"/><stop offset="0.297" stop-color="#530965"/><stop offset="0.489" stop-color="#290965"/><stop offset="0.675" stop-color="#090965"/><stop offset="0.816" stop-color="#092365"/><stop offset="1.000" stop-color="#094c65"/></linearGradient><linearGradient id="s244" gradientUnits="userSpaceOnUse" x1="507.8" y1="94.5" x2="497.9" y2="43.3"><stop offset="-0.000" stop-color="#65094e"/><stop offset="0.169" stop-color="#650965"/><stop offset="0.298" stop-color="#530965"/><stop offset="0.491" stop-color="#290965"/><stop offset="0.677" stop-color="#090965"/><stop offset="0.818" stop-color="#092365"/><stop offset="1.000" stop-color="#094b65"/></linearGradient><linearGradient id="s245" gradientUnits="userSpaceOnUse" x1="507.4" y1="89.8" x2="497.5" y2="39.3"><stop offset="-0.000" stop-color="#66094f"/><stop offset="0.169" stop-color="#660966"/><stop offset="0.299" stop-color="#530966"/><stop offset="0.492" stop-color="#290966"/><stop offset="0.678" stop-color="#090966"/><stop offset="0.820" stop-color="#092366"/><stop offset="1.000" stop-color="#094b66"/></linearGradient><linearGradient id="s246" gradientUnits="userSpaceOnUse" x1="507.0" y1="85.1" x2="497.2" y2="35.2"><stop offset="-0.000" stop-color="#66094f"/><stop offset="0.170" stop-color="#660966"/><stop offset="0.299" stop-color="#530966"/><stop offset="0.493" stop-color="#290966"/><stop offset="0.680" stop-color="#090966"/><stop offset="0.821" stop-color="#092366"/><stop offset="1.000" stop-color="#094b66"/></linearGradient><linearGradient id="s247" gradientUnits="userSpaceOnUse" x1="503.8" y1="83.4" x2="495.0" y2="36.1"><stop offset="-0.000" stop-color="#690951"/><stop offset="0.177" stop-color="#690969"/><stop offset="0.312" stop-color="#560969"/><stop offset="0.514" stop-color="#2b0969"/><stop offset="0.710" stop-color="#090969"/><stop offset="0.857" stop-color="#092469"/><stop offset="1.000" stop-color="#094369"/></linearGradient><linearGradient id="s248" gradientUnits="userSpaceOnUse" x1="504.0" y1="88.0" x2="495.2" y2="40.3"><stop offset="-0.000" stop-color="#690951"/><stop offset="0.177" stop-color="#690969"/><stop offset="0.313" stop-color="#560969"/><stop offset="0.515" stop-color="#2b0969"/><stop offset="0.710" stop-color="#090969"/><stop offset="0.858" stop-color="#092469"/><stop offset="1.000" stop-color="#094369"/></linearGradient><linearGradient id="s249" gradientUnits="userSpaceOnUse" x1="504.2" y1="92.5" x2="495.4" y2="44.4"><stop offset="-0.000" stop-color="#6a0951"/><stop offset="0.178" stop-color="#6a096a"/><stop offset="0.313" stop-color="#56096a"/><stop offset="0.516" stop-color="#2b096a"/><stop offset="0.712" stop-color="#09096a"/><stop offset="0.860" stop-color="#09246a"/><stop offset="1.000" stop-color="#09436a"/></linearGradient><linearGradient id="s250" gradientUnits="userSpaceOnUse" x1="504.4" y1="97.0" x2="495.6" y2="48.5"><stop offset="-0.000" stop-color="#6a0952"/><stop offset="0.178" stop-color="#6a096a"/><stop offset="0.314" stop-color="#57096a"/><stop offset="0.516" stop-color="#2b096a"/><stop offset="0.713" stop-color="#09096a"/><stop offset="0.861" stop-color="#09246a"/><stop offset="1.000" stop-color="#09426a"/></linearGradient><linearGradient id="s251" gradientUnits="userSpaceOnUse" x1="504.5" y1="101.4" x2="495.7" y2="52.6"><stop offset="-0.000" stop-color="#6a0952"/><stop offset="0.178" stop-color="#6a096a"/><stop offset="0.314" stop-color="#57096a"/><stop offset="0.518" stop-color="#2b096a"/><stop offset="0.715" stop-color="#09096a"/><stop offset="0.864" stop-color="#09246a"/><stop offset="1.000" stop-color="#09426a"/></linearGradient><linearGradient id="s252" gradientUnits="userSpaceOnUse" x1="504.5" y1="105.7" x2="495.9" y2="56.7"><stop offset="-0.000" stop-color="#6b0953"/><stop offset="0.179" stop-color="#6b096b"/><stop offset="0.315" stop-color="#57096b"/><stop offset="0.519" stop-color="#2b096b"/><stop offset="0.717" stop-color="#09096b"/><stop offset="0.866" stop-color="#09246b"/><stop offset="1.000" stop-color="#09426b"/></linearGradient><linearGradient id="s253" gradientUnits="userSpaceOnUse" x1="504.5" y1="110.0" x2="495.9" y2="60.8"><stop offset="-0.000" stop-color="#6c0953"/><stop offset="0.179" stop-color="#6c096c"/><stop offset="0.316" stop-color="#58096c"/><stop offset="0.521" stop-color="#2c096c"/><stop offset="0.719" stop-color="#09096c"/><stop offset="0.869" stop-color="#09256c"/><stop offset="1.000" stop-color="#09426c"/></linearGradient><linearGradient id="s254" gradientUnits="userSpaceOnUse" x1="504.5" y1="114.1" x2="495.9" y2="64.8"><stop offset="-0.000" stop-color="#6e0955"/><stop offset="0.180" stop-color="#6e096e"/><stop offset="0.317" stop-color="#5a096e"/><stop offset="0.523" stop-color="#2c096e"/><stop offset="0.723" stop-color="#09096e"/><stop offset="0.874" stop-color="#09256e"/><stop offset="1.000" stop-color="#09416e"/></linearGradient><linearGradient id="s255" gradientUnits="userSpaceOnUse" x1="504.2" y1="118.0" x2="495.8" y2="68.7"><stop offset="-0.000" stop-color="#700957"/><stop offset="0.181" stop-color="#700970"/><stop offset="0.319" stop-color="#5c0970"/><stop offset="0.526" stop-color="#2d0970"/><stop offset="0.727" stop-color="#090970"/><stop offset="0.879" stop-color="#092670"/><stop offset="1.000" stop-color="#094170"/></linearGradient><linearGradient id="s256" gradientUnits="userSpaceOnUse" x1="503.8" y1="121.7" x2="495.6" y2="72.6"><stop offset="-0.000" stop-color="#75095a"/><stop offset="0.183" stop-color="#750975"/><stop offset="0.322" stop-color="#600975"/><stop offset="0.531" stop-color="#2f0975"/><stop offset="0.734" stop-color="#090975"/><stop offset="0.888" stop-color="#092775"/><stop offset="1.000" stop-color="#094275"/></linearGradient><linearGradient id="s257" gradientUnits="userSpaceOnUse" x1="502.8" y1="124.8" x2="494.9" y2="76.3"><stop offset="-0.000" stop-color="#800962"/><stop offset="0.185" stop-color="#800980"/><stop offset="0.327" stop-color="#680980"/><stop offset="0.539" stop-color="#320980"/><stop offset="0.745" stop-color="#090980"/><stop offset="0.901" stop-color="#092a80"/><stop offset="1.000" stop-color="#094380"/></linearGradient><linearGradient id="s258" gradientUnits="userSpaceOnUse" x1="501.1" y1="126.6" x2="493.7" y2="79.3"><stop offset="-0.000" stop-color="#9e0979"/><stop offset="0.190" stop-color="#9e099e"/><stop offset="0.335" stop-color="#80099e"/><stop offset="0.552" stop-color="#3d099e"/><stop offset="0.763" stop-color="#09099e"/><stop offset="0.923" stop-color="#09339e"/><stop offset="1.000" stop-color="#094a9e"/></linearGradient><linearGradient id="s259" gradientUnits="userSpaceOnUse" x1="498.8" y1="126.6" x2="491.9" y2="81.4"><stop offset="-0.000" stop-color="#e90cb1"/><stop offset="0.197" stop-color="#e90ce9"/><stop offset="0.348" stop-color="#bd0ce9"/><stop offset="0.574" stop-color="#590ce9"/><stop offset="0.794" stop-color="#0c0ce9"/><stop offset="0.961" stop-color="#0c4ae9"/><stop offset="1.000" stop-color="#0c5be9"/></linearGradient><linearGradient id="s260" gradientUnits="userSpaceOnUse" x1="496.1" y1="125.0" x2="489.9" y2="82.4"><stop offset="-0.000" stop-color="#f00ab6"/><stop offset="0.207" stop-color="#f00af0"/><stop offset="0.366" stop-color="#c20af0"/><stop offset="0.604" stop-color="#5a0af0"/><stop offset="0.835" stop-color="#0a0af0"/><stop offset="1.000" stop-color="#0a46f0"/></linearGradient><linearGradient id="s261" gradientUnits="userSpaceOnUse" x1="461.2" y1="99.7" x2="460.9" y2="92.3"><stop offset="-0.000" stop-color="#800962"/><stop offset="1.000" stop-color="#80097e"/></linearGradient><linearGradient id="s262" gradientUnits="userSpaceOnUse" x1="461.9" y1="96.7" x2="461.4" y2="88.5"><stop offset="-0.000" stop-color="#75095a"/><stop offset="0.953" stop-color="#750975"/><stop offset="1.000" stop-color="#740975"/></linearGradient><linearGradient id="s263" gradientUnits="userSpaceOnUse" x1="462.1" y1="93.1" x2="461.6" y2="84.5"><stop offset="-0.000" stop-color="#970973"/><stop offset="0.896" stop-color="#970997"/><stop offset="1.000" stop-color="#930997"/></linearGradient><linearGradient id="s264" gradientUnits="userSpaceOnUse" x1="493.5" y1="122.0" x2="488.0" y2="82.0"><stop offset="-0.000" stop-color="#e709b0"/><stop offset="0.219" stop-color="#e709e7"/><stop offset="0.387" stop-color="#bb09e7"/><stop offset="0.638" stop-color="#5709e7"/><stop offset="0.882" stop-color="#0909e7"/><stop offset="1.000" stop-color="#0930e7"/></linearGradient><linearGradient id="s265" gradientUnits="userSpaceOnUse" x1="462.1" y1="89.3" x2="461.6" y2="80.4"><stop offset="-0.000" stop-color="#9a0976"/><stop offset="0.859" stop-color="#9a099a"/><stop offset="1.000" stop-color="#94099a"/></linearGradient><linearGradient id="s266" gradientUnits="userSpaceOnUse" x1="461.9" y1="85.3" x2="461.4" y2="76.2"><stop offset="-0.000" stop-color="#9c0977"/><stop offset="0.834" stop-color="#9c099c"/><stop offset="1.000" stop-color="#95099c"/></linearGradient><linearGradient id="s267" gradientUnits="userSpaceOnUse" x1="461.7" y1="81.3" x2="461.2" y2="72.0"><stop offset="-0.000" stop-color="#9d0978"/><stop offset="0.815" stop-color="#9d099d"/><stop offset="1.000" stop-color="#95099d"/></linearGradient><linearGradient id="s268" gradientUnits="userSpaceOnUse" x1="461.4" y1="77.2" x2="460.9" y2="67.8"><stop offset="-0.000" stop-color="#9e0979"/><stop offset="0.801" stop-color="#9e099e"/><stop offset="1.000" stop-color="#95099e"/></linearGradient><linearGradient id="s269" gradientUnits="userSpaceOnUse" x1="461.1" y1="73.0" x2="460.6" y2="63.6"><stop offset="-0.000" stop-color="#9f0979"/><stop offset="0.790" stop-color="#9f099f"/><stop offset="1.000" stop-color="#94099f"/></linearGradient><linearGradient id="s270" gradientUnits="userSpaceOnUse" x1="460.8" y1="68.7" x2="460.3" y2="59.3"><stop offset="-0.000" stop-color="#9f097a"/><stop offset="0.780" stop-color="#9f099f"/><stop offset="1.000" stop-color="#94099f"/></linearGradient><linearGradient id="s271" gradientUnits="userSpaceOnUse" x1="460.4" y1="64.4" x2="459.9" y2="55.0"><stop offset="-0.000" stop-color="#a0097a"/><stop offset="0.772" stop-color="#a009a0"/><stop offset="1.000" stop-color="#9409a0"/></linearGradient><linearGradient id="s272" gradientUnits="userSpaceOnUse" x1="460.0" y1="60.0" x2="459.5" y2="50.6"><stop offset="-0.000" stop-color="#a0097a"/><stop offset="0.766" stop-color="#a009a0"/><stop offset="1.000" stop-color="#9409a0"/></linearGradient><linearGradient id="s273" gradientUnits="userSpaceOnUse" x1="491.4" y1="117.9" x2="486.4" y2="80.3"><stop offset="-0.000" stop-color="#bb098e"/><stop offset="0.230" stop-color="#bb09bb"/><stop offset="0.406" stop-color="#9709bb"/><stop offset="0.669" stop-color="#4709bb"/><stop offset="0.925" stop-color="#0909bb"/><stop offset="1.000" stop-color="#091cbb"/></linearGradient><linearGradient id="s274" gradientUnits="userSpaceOnUse" x1="490.0" y1="113.5" x2="485.2" y2="77.4"><stop offset="-0.000" stop-color="#b00986"/><stop offset="0.238" stop-color="#b009b0"/><stop offset="0.419" stop-color="#8f09b0"/><stop offset="0.692" stop-color="#4309b0"/><stop offset="0.956" stop-color="#0909b0"/><stop offset="1.000" stop-color="#0913b0"/></linearGradient><linearGradient id="s275" gradientUnits="userSpaceOnUse" x1="488.9" y1="109.0" x2="484.4" y2="74.0"><stop offset="-0.000" stop-color="#ab0983"/><stop offset="0.243" stop-color="#ab09ab"/><stop offset="0.428" stop-color="#8b09ab"/><stop offset="0.706" stop-color="#4209ab"/><stop offset="0.976" stop-color="#0909ab"/><stop offset="1.000" stop-color="#090eab"/></linearGradient><linearGradient id="s276" gradientUnits="userSpaceOnUse" x1="488.0" y1="104.5" x2="483.6" y2="70.4"><stop offset="-0.000" stop-color="#a80981"/><stop offset="0.246" stop-color="#a809a8"/><stop offset="0.434" stop-color="#8909a8"/><stop offset="0.716" stop-color="#4109a8"/><stop offset="0.990" stop-color="#0909a8"/><stop offset="1.000" stop-color="#090ba8"/></linearGradient><linearGradient id="s277" gradientUnits="userSpaceOnUse" x1="462.7" y1="61.4" x2="462.0" y2="49.6"><stop offset="-0.000" stop-color="#a3097d"/><stop offset="0.615" stop-color="#a309a3"/><stop offset="1.000" stop-color="#8a09a3"/></linearGradient><linearGradient id="s278" gradientUnits="userSpaceOnUse" x1="463.3" y1="65.9" x2="462.5" y2="53.9"><stop offset="-0.000" stop-color="#a3097d"/><stop offset="0.610" stop-color="#a309a3"/><stop offset="1.000" stop-color="#8a09a3"/></linearGradient><linearGradient id="s279" gradientUnits="userSpaceOnUse" x1="487.3" y1="100.0" x2="483.0" y2="66.5"><stop offset="-0.000" stop-color="#a7097f"/><stop offset="0.249" stop-color="#a709a7"/><stop offset="0.439" stop-color="#8709a7"/><stop offset="0.723" stop-color="#4009a7"/><stop offset="1.000" stop-color="#0909a7"/><stop offset="1.000" stop-color="#0909a7"/></linearGradient><linearGradient id="s280" gradientUnits="userSpaceOnUse" x1="463.9" y1="70.4" x2="463.1" y2="58.1"><stop offset="-0.000" stop-color="#a4097d"/><stop offset="0.604" stop-color="#a409a4"/><stop offset="1.000" stop-color="#8909a4"/></linearGradient><linearGradient id="s281" gradientUnits="userSpaceOnUse" x1="464.5" y1="74.8" x2="463.7" y2="62.3"><stop offset="-0.000" stop-color="#a4097d"/><stop offset="0.598" stop-color="#a409a4"/><stop offset="1.000" stop-color="#8909a4"/></linearGradient><linearGradient id="s282" gradientUnits="userSpaceOnUse" x1="486.7" y1="95.5" x2="482.5" y2="62.6"><stop offset="-0.000" stop-color="#a6097e"/><stop offset="0.251" stop-color="#a609a6"/><stop offset="0.442" stop-color="#8609a6"/><stop offset="0.729" stop-color="#4009a6"/><stop offset="1.000" stop-color="#0a09a6"/></linearGradient><linearGradient id="s283" gradientUnits="userSpaceOnUse" x1="465.1" y1="79.2" x2="464.2" y2="66.4"><stop offset="-0.000" stop-color="#a5097e"/><stop offset="0.590" stop-color="#a509a5"/><stop offset="1.000" stop-color="#8909a5"/></linearGradient><linearGradient id="s284" gradientUnits="userSpaceOnUse" x1="486.1" y1="91.0" x2="481.9" y2="58.7"><stop offset="-0.000" stop-color="#a5097e"/><stop offset="0.252" stop-color="#a509a5"/><stop offset="0.445" stop-color="#8609a5"/><stop offset="0.733" stop-color="#3f09a5"/><stop offset="1.000" stop-color="#0c09a5"/></linearGradient><linearGradient id="s285" gradientUnits="userSpaceOnUse" x1="465.8" y1="83.6" x2="464.9" y2="70.4"><stop offset="-0.000" stop-color="#a6097e"/><stop offset="0.581" stop-color="#a609a6"/><stop offset="1.000" stop-color="#8809a6"/></linearGradient><linearGradient id="s286" gradientUnits="userSpaceOnUse" x1="485.5" y1="86.5" x2="481.4" y2="54.6"><stop offset="-0.000" stop-color="#a4097d"/><stop offset="0.253" stop-color="#a409a4"/><stop offset="0.447" stop-color="#8509a4"/><stop offset="0.737" stop-color="#3f09a4"/><stop offset="1.000" stop-color="#0d09a4"/></linearGradient><linearGradient id="s287" gradientUnits="userSpaceOnUse" x1="485.0" y1="82.0" x2="480.9" y2="50.5"><stop offset="-0.000" stop-color="#a4097d"/><stop offset="0.255" stop-color="#a409a4"/><stop offset="0.449" stop-color="#8509a4"/><stop offset="0.740" stop-color="#3f09a4"/><stop offset="1.000" stop-color="#0d09a4"/></linearGradient><linearGradient id="s288" gradientUnits="userSpaceOnUse" x1="466.5" y1="88.0" x2="465.5" y2="74.4"><stop offset="-0.000" stop-color="#a7097f"/><stop offset="0.570" stop-color="#a709a7"/><stop offset="1.000" stop-color="#8809a7"/></linearGradient><linearGradient id="s289" gradientUnits="userSpaceOnUse" x1="484.5" y1="77.4" x2="480.5" y2="46.4"><stop offset="-0.000" stop-color="#a3097d"/><stop offset="0.255" stop-color="#a309a3"/><stop offset="0.451" stop-color="#8509a3"/><stop offset="0.743" stop-color="#3f09a3"/><stop offset="1.000" stop-color="#0e09a3"/></linearGradient><linearGradient id="s290" gradientUnits="userSpaceOnUse" x1="484.0" y1="72.8" x2="480.0" y2="42.2"><stop offset="-0.000" stop-color="#a3097d"/><stop offset="0.256" stop-color="#a309a3"/><stop offset="0.452" stop-color="#8409a3"/><stop offset="0.745" stop-color="#3f09a3"/><stop offset="1.000" stop-color="#0f09a3"/></linearGradient><linearGradient id="s291" gradientUnits="userSpaceOnUse" x1="467.2" y1="92.3" x2="466.3" y2="78.3"><stop offset="-0.000" stop-color="#a80981"/><stop offset="0.555" stop-color="#a809a8"/><stop offset="0.980" stop-color="#8909a8"/><stop offset="1.000" stop-color="#8609a8"/></linearGradient><linearGradient id="s292" gradientUnits="userSpaceOnUse" x1="468.1" y1="96.7" x2="467.1" y2="82.0"><stop offset="-0.000" stop-color="#ab0983"/><stop offset="0.536" stop-color="#ab09ab"/><stop offset="0.947" stop-color="#8b09ab"/><stop offset="1.000" stop-color="#8509ab"/></linearGradient><linearGradient id="s293" gradientUnits="userSpaceOnUse" x1="469.2" y1="101.1" x2="468.1" y2="85.4"><stop offset="-0.000" stop-color="#b00986"/><stop offset="0.509" stop-color="#b009b0"/><stop offset="0.900" stop-color="#8f09b0"/><stop offset="1.000" stop-color="#8209b0"/></linearGradient><linearGradient id="s294" gradientUnits="userSpaceOnUse" x1="470.7" y1="105.4" x2="469.4" y2="88.3"><stop offset="-0.000" stop-color="#bb098e"/><stop offset="0.471" stop-color="#bb09bb"/><stop offset="0.832" stop-color="#9709bb"/><stop offset="1.000" stop-color="#7f09bb"/></linearGradient><linearGradient id="s295" gradientUnits="userSpaceOnUse" x1="481.1" y1="71.3" x2="477.7" y2="43.1"><stop offset="-0.000" stop-color="#a0097a"/><stop offset="0.276" stop-color="#a009a0"/><stop offset="0.487" stop-color="#8209a0"/><stop offset="0.803" stop-color="#3e09a0"/><stop offset="1.000" stop-color="#1c09a0"/></linearGradient><linearGradient id="s296" gradientUnits="userSpaceOnUse" x1="481.4" y1="75.7" x2="478.0" y2="47.4"><stop offset="-0.000" stop-color="#a0097a"/><stop offset="0.277" stop-color="#a009a0"/><stop offset="0.488" stop-color="#8109a0"/><stop offset="0.805" stop-color="#3e09a0"/><stop offset="1.000" stop-color="#1d09a0"/></linearGradient><linearGradient id="s297" gradientUnits="userSpaceOnUse" x1="481.7" y1="80.2" x2="478.3" y2="51.7"><stop offset="-0.000" stop-color="#9f097a"/><stop offset="0.278" stop-color="#9f099f"/><stop offset="0.490" stop-color="#81099f"/><stop offset="0.808" stop-color="#3e099f"/><stop offset="1.000" stop-color="#1d099f"/></linearGradient><linearGradient id="s298" gradientUnits="userSpaceOnUse" x1="481.9" y1="84.5" x2="478.5" y2="55.9"><stop offset="-0.000" stop-color="#9f0979"/><stop offset="0.279" stop-color="#9f099f"/><stop offset="0.492" stop-color="#81099f"/><stop offset="0.811" stop-color="#3d099f"/><stop offset="1.000" stop-color="#1e099f"/></linearGradient><linearGradient id="s299" gradientUnits="userSpaceOnUse" x1="482.1" y1="88.8" x2="478.8" y2="60.0"><stop offset="-0.000" stop-color="#9e0979"/><stop offset="0.280" stop-color="#9e099e"/><stop offset="0.494" stop-color="#80099e"/><stop offset="0.814" stop-color="#3d099e"/><stop offset="1.000" stop-color="#1e099e"/></linearGradient><linearGradient id="s300" gradientUnits="userSpaceOnUse" x1="482.3" y1="93.1" x2="479.0" y2="64.2"><stop offset="-0.000" stop-color="#9d0978"/><stop offset="0.281" stop-color="#9d099d"/><stop offset="0.496" stop-color="#80099d"/><stop offset="0.818" stop-color="#3d099d"/><stop offset="1.000" stop-color="#1f099d"/></linearGradient><linearGradient id="s301" gradientUnits="userSpaceOnUse" x1="482.4" y1="97.2" x2="479.1" y2="68.3"><stop offset="-0.000" stop-color="#6c0953"/><stop offset="0.283" stop-color="#6c096c"/><stop offset="0.500" stop-color="#58096c"/><stop offset="0.824" stop-color="#2c096c"/><stop offset="1.000" stop-color="#19096c"/></linearGradient><linearGradient id="s302" gradientUnits="userSpaceOnUse" x1="482.5" y1="101.2" x2="479.2" y2="72.4"><stop offset="-0.000" stop-color="#6e0955"/><stop offset="0.285" stop-color="#6e096e"/><stop offset="0.504" stop-color="#5a096e"/><stop offset="0.831" stop-color="#2c096e"/><stop offset="1.000" stop-color="#1a096e"/></linearGradient><linearGradient id="s303" gradientUnits="userSpaceOnUse" x1="472.7" y1="109.3" x2="471.1" y2="90.0"><stop offset="-0.000" stop-color="#e709b0"/><stop offset="0.423" stop-color="#e709e7"/><stop offset="0.747" stop-color="#bb09e7"/><stop offset="1.000" stop-color="#8709e7"/></linearGradient><linearGradient id="s304" gradientUnits="userSpaceOnUse" x1="482.4" y1="105.1" x2="479.2" y2="76.4"><stop offset="-0.000" stop-color="#700957"/><stop offset="0.289" stop-color="#700970"/><stop offset="0.510" stop-color="#5c0970"/><stop offset="0.841" stop-color="#2d0970"/><stop offset="1.000" stop-color="#1c0970"/></linearGradient><linearGradient id="s305" gradientUnits="userSpaceOnUse" x1="482.0" y1="108.7" x2="478.9" y2="80.4"><stop offset="-0.000" stop-color="#75095a"/><stop offset="0.294" stop-color="#750975"/><stop offset="0.519" stop-color="#600975"/><stop offset="0.856" stop-color="#2f0975"/><stop offset="1.000" stop-color="#1e0975"/></linearGradient><linearGradient id="s306" gradientUnits="userSpaceOnUse" x1="481.3" y1="111.8" x2="478.3" y2="84.1"><stop offset="-0.000" stop-color="#800962"/><stop offset="0.302" stop-color="#800980"/><stop offset="0.533" stop-color="#680980"/><stop offset="0.879" stop-color="#320980"/><stop offset="1.000" stop-color="#240980"/></linearGradient><linearGradient id="s307" gradientUnits="userSpaceOnUse" x1="475.1" y1="112.2" x2="473.2" y2="90.3"><stop offset="-0.000" stop-color="#f00ab6"/><stop offset="0.377" stop-color="#f00af0"/><stop offset="0.666" stop-color="#c20af0"/><stop offset="1.000" stop-color="#730af0"/></linearGradient><linearGradient id="s308" gradientUnits="userSpaceOnUse" x1="479.8" y1="113.6" x2="477.1" y2="87.2"><stop offset="-0.000" stop-color="#9e0979"/><stop offset="0.316" stop-color="#9e099e"/><stop offset="0.558" stop-color="#80099e"/><stop offset="0.920" stop-color="#3d099e"/><stop offset="1.000" stop-color="#32099e"/></linearGradient><linearGradient id="s309" gradientUnits="userSpaceOnUse" x1="477.6" y1="113.7" x2="475.3" y2="89.3"><stop offset="-0.000" stop-color="#e90cb1"/><stop offset="0.341" stop-color="#e90ce9"/><stop offset="0.602" stop-color="#bd0ce9"/><stop offset="0.993" stop-color="#590ce9"/><stop offset="1.000" stop-color="#580ce9"/></linearGradient></defs>
<path d="M562.8 52.2L562.7 3.2M455.8 104.0L562.8 52.2M562.8 52.2L673.9 100.8" stroke="#9a9a9a" stroke-width="0.5" fill="none"/>
<g><path d="M673.8 96.9L674.3 96.8L673.1 96.0Z" fill="url(#s0)" stroke="url(#s0)" stroke-width="0.7"/><path d="M672.8 95.6L673.8 96.9L673.1 96.0L670.7 92.6Z" fill="url(#s1)" stroke="url(#s1)" stroke-width="0.7"/><path d="M672.3 92.8L672.8 95.6L670.7 92.6L669.3 88.5Z" fill="url(#s2)" stroke="url(#s2)" stroke-width="0.7"/><path d="M672.3 89.3L672.3 92.8L669.3 88.5L668.7 84.3Z" fill="url(#s3)" stroke="url(#s3)" stroke-width="0.7"/><path d="M672.4 85.5L672.3 89.3L668.7 84.3L668.5 80.0Z" fill="url(#s4)" stroke="url(#s4)" stroke-width="0.7"/><path d="M672.6 81.6L672.4 85.5L668.5 80.0L668.4 75.8Z" fill="url(#s5)" stroke="url(#s5)" stroke-width="0.7"/><path d="M672.9 77.6L672.6 81.6L668.4 75.8L668.5 71.6Z" fill="url(#s6)" stroke="url(#s6)" stroke-width="0.7"/><path d="M673.2 73.5L672.9 77.6L668.5 71.6L668.6 67.4Z" fill="url(#s7)" stroke="url(#s7)" stroke-width="0.7"/><path d="M673.6 69.4L673.2 73.5L668.6 67.4L668.9 63.1Z" fill="url(#s8)" stroke="url(#s8)" stroke-width="0.7"/><path d="M674.0 65.2L673.6 69.4L668.9 63.1L669.1 58.8Z" fill="url(#s9)" stroke="url(#s9)" stroke-width="0.7"/><path d="M674.4 60.9L674.0 65.2L669.1 58.8L669.4 54.5Z" fill="url(#s10)" stroke="url(#s10)" stroke-width="0.7"/><path d="M674.9 56.6L674.4 60.9L669.4 54.5L669.8 50.2Z" fill="url(#s11)" stroke="url(#s11)" stroke-width="0.7"/><path d="M675.3 52.3L674.9 56.6L669.8 50.2L670.1 45.9Z" fill="url(#s12)" stroke="url(#s12)" stroke-width="0.7"/><path d="M670.8 46.7L668.6 71.7" fill="none" stroke="#000" stroke-opacity="0.5" stroke-width="0.4"/><path d="M673.1 57.7L673.6 53.3L666.7 44.6L666.1 48.9Z" fill="url(#s13)" stroke="url(#s13)" stroke-width="0.7"/><path d="M672.5 62.1L673.1 57.7L666.1 48.9L665.5 53.1Z" fill="url(#s14)" stroke="url(#s14)" stroke-width="0.7"/><path d="M672.0 66.5L672.5 62.1L665.5 53.1L664.9 57.2Z" fill="url(#s15)" stroke="url(#s15)" stroke-width="0.7"/><path d="M671.4 70.8L672.0 66.5L664.9 57.2L664.3 61.3Z" fill="url(#s16)" stroke="url(#s16)" stroke-width="0.7"/><path d="M670.8 75.1L671.4 70.8L664.3 61.3L663.6 65.4Z" fill="url(#s17)" stroke="url(#s17)" stroke-width="0.7"/><path d="M670.2 79.4L670.8 75.1L663.6 65.4L662.9 69.4Z" fill="url(#s18)" stroke="url(#s18)" stroke-width="0.7"/><path d="M669.5 83.6L670.2 79.4L662.9 69.4L662.2 73.3Z" fill="url(#s19)" stroke="url(#s19)" stroke-width="0.7"/><path d="M668.8 87.9L669.5 83.6L662.2 73.3L661.3 77.1Z" fill="url(#s20)" stroke="url(#s20)" stroke-width="0.7"/><path d="M668.0 92.1L668.8 87.9L661.3 77.1L660.2 80.7Z" fill="url(#s21)" stroke="url(#s21)" stroke-width="0.7"/><path d="M667.1 96.3L668.0 92.1L660.2 80.7L658.8 84.0Z" fill="url(#s22)" stroke="url(#s22)" stroke-width="0.7"/><path d="M665.8 100.3L667.1 96.3L658.8 84.0L656.8 86.6Z" fill="url(#s23)" stroke="url(#s23)" stroke-width="0.7"/><path d="M664.3 103.5L665.8 100.3L656.8 86.6L654.0 87.7Z" fill="url(#s24)" stroke="url(#s24)" stroke-width="0.7"/><path d="M662.6 105.3L664.3 103.5L654.0 87.7L650.9 87.1Z" fill="url(#s25)" stroke="url(#s25)" stroke-width="0.7"/><path d="M654.5 92.8L656.2 91.1L656.9 89.8L657.7 88.0L658.9 84.1M658.5 98.9L660.1 97.2L661.7 94.0L662.9 90.1L663.8 86.0L666.1 71.4L669.2 47.7M656.3 95.4L657.9 96.0L659.5 96.1L660.9 95.9L662.4 95.1L663.4 94.0L664.5 92.4L665.9 89.1L667.5 83.6L669.2 75.7L671.0 65.2L672.9 52.4" fill="none" stroke="#000" stroke-opacity="0.5" stroke-width="0.4"/><path d="M673.6 53.3L666.7 44.6" stroke="#fff" stroke-opacity="0.55" stroke-width="0.5" stroke-dasharray="1.6 1.8"/><path d="M661.1 105.7L662.6 105.3L650.9 87.1L647.9 85.1Z" fill="url(#s26)" stroke="url(#s26)" stroke-width="0.7"/><path d="M660.0 104.3L661.1 105.7L647.9 85.1L645.6 81.8Z" fill="url(#s27)" stroke="url(#s27)" stroke-width="0.7"/><path d="M659.5 101.5L660.0 104.3L645.6 81.8L644.3 77.9Z" fill="url(#s28)" stroke="url(#s28)" stroke-width="0.7"/><path d="M659.3 98.0L659.5 101.5L644.3 77.9L643.6 73.8Z" fill="url(#s29)" stroke="url(#s29)" stroke-width="0.7"/><path d="M659.4 94.2L659.3 98.0L643.6 73.8L643.3 69.6Z" fill="url(#s30)" stroke="url(#s30)" stroke-width="0.7"/><path d="M659.6 90.2L659.4 94.2L643.3 69.6L643.1 65.5Z" fill="url(#s31)" stroke="url(#s31)" stroke-width="0.7"/><path d="M659.8 86.1L659.6 90.2L643.1 65.5L643.1 61.4Z" fill="url(#s32)" stroke="url(#s32)" stroke-width="0.7"/><path d="M660.1 82.0L659.8 86.1L643.1 61.4L643.2 57.3Z" fill="url(#s33)" stroke="url(#s33)" stroke-width="0.7"/><path d="M660.4 77.8L660.1 82.0L643.2 57.3L643.3 53.1Z" fill="url(#s34)" stroke="url(#s34)" stroke-width="0.7"/><path d="M660.7 73.5L660.4 77.8L643.3 53.1L643.4 49.0Z" fill="url(#s35)" stroke="url(#s35)" stroke-width="0.7"/><path d="M661.1 69.2L660.7 73.5L643.4 49.0L643.6 44.8Z" fill="url(#s36)" stroke="url(#s36)" stroke-width="0.7"/><path d="M661.5 64.8L661.1 69.2L643.6 44.8L643.8 40.5Z" fill="url(#s37)" stroke="url(#s37)" stroke-width="0.7"/><path d="M661.9 60.3L661.5 64.8L643.8 40.5L644.1 36.3Z" fill="url(#s38)" stroke="url(#s38)" stroke-width="0.7"/><path d="M645.4 38.1L644.0 60.7L643.7 73.9M649.3 43.4L647.8 66.3L647.4 79.6L647.6 83.0L648.1 85.8L648.7 86.7L649.2 87.2L650.0 87.2M653.3 48.8L651.7 72.0L651.2 85.5L651.4 88.9L651.9 91.7L652.5 92.7L653.0 93.1L653.8 93.1L654.5 92.8M657.5 54.5L655.7 78.0L655.2 91.6L655.3 95.1L655.9 97.9L656.4 98.9L657.0 99.3L657.7 99.3L658.5 98.9M661.2 59.4L660.1 75.1L659.7 86.0M655.1 51.3L654.4 64.4L653.9 75.3L653.9 83.9L654.3 90.2L655.0 94.5L655.6 96.9L656.3 98.6L657.5 100.7L658.8 102.1L660.3 103.4L661.9 104.3M649.5 43.6L648.4 67.2L648.4 75.6L648.8 81.8L649.5 86.0L650.1 88.3L650.8 90.0L652.0 92.0L653.2 93.4L654.7 94.6L656.3 95.4" fill="none" stroke="#000" stroke-opacity="0.5" stroke-width="0.4"/><path d="M659.6 65.9L660.1 61.4L640.9 35.1L640.5 39.3Z" fill="url(#s39)" stroke="url(#s39)" stroke-width="0.7"/><path d="M659.1 70.4L659.6 65.9L640.5 39.3L640.0 43.4Z" fill="url(#s40)" stroke="url(#s40)" stroke-width="0.7"/><path d="M658.6 74.8L659.1 70.4L640.0 43.4L639.5 47.4Z" fill="url(#s41)" stroke="url(#s41)" stroke-width="0.7"/><path d="M658.0 79.3L658.6 74.8L639.5 47.4L639.0 51.5Z" fill="url(#s42)" stroke="url(#s42)" stroke-width="0.7"/><path d="M657.5 83.6L658.0 79.3L639.0 51.5L638.5 55.4Z" fill="url(#s43)" stroke="url(#s43)" stroke-width="0.7"/><path d="M656.9 88.0L657.5 83.6L638.5 55.4L637.9 59.3Z" fill="url(#s44)" stroke="url(#s44)" stroke-width="0.7"/><path d="M656.3 92.3L656.9 88.0L637.9 59.3L637.3 63.1Z" fill="url(#s45)" stroke="url(#s45)" stroke-width="0.7"/><path d="M655.6 96.7L656.3 92.3L637.3 63.1L636.5 66.8Z" fill="url(#s46)" stroke="url(#s46)" stroke-width="0.7"/><path d="M654.9 101.0L655.6 96.7L636.5 66.8L635.6 70.4Z" fill="url(#s47)" stroke="url(#s47)" stroke-width="0.7"/><path d="M653.9 105.3L654.9 101.0L635.6 70.4L634.4 73.7Z" fill="url(#s48)" stroke="url(#s48)" stroke-width="0.7"/><path d="M652.7 109.3L653.9 105.3L634.4 73.7L632.6 76.3Z" fill="url(#s49)" stroke="url(#s49)" stroke-width="0.7"/><path d="M651.1 112.6L652.7 109.3L632.6 76.3L630.0 77.4Z" fill="url(#s50)" stroke="url(#s50)" stroke-width="0.7"/><path d="M649.3 114.5L651.1 112.6L630.0 77.4L627.1 76.8Z" fill="url(#s51)" stroke="url(#s51)" stroke-width="0.7"/><path d="M630.9 83.3L632.6 81.6L634.0 78.7L635.5 73.1L636.6 66.9M634.4 89.1L636.0 87.4L637.5 84.4L638.6 80.5L639.4 76.5L641.4 62.3L643.7 39.0M637.9 95.1L639.6 93.3L641.1 90.3L642.2 86.4L643.1 82.3L645.1 67.8L647.6 44.3M641.6 101.3L643.3 99.5L644.8 96.4L646.0 92.4L646.9 88.3L649.0 73.6L651.6 49.8M645.4 107.8L647.1 105.9L648.7 102.7L649.9 98.7L650.8 94.5L653.0 79.7L655.8 55.5M647.1 110.7L648.7 111.3L650.4 111.5L651.9 111.3M641.7 101.5L643.3 102.1L644.9 102.3L646.3 102.0L647.8 101.2L648.7 100.2L649.8 98.6L651.2 95.2L652.7 89.7L654.3 81.6L655.9 71.1L657.7 58.0M636.6 92.9L638.1 93.4L639.7 93.5L641.0 93.3L642.4 92.5L643.4 91.4L644.4 89.8L645.7 86.5L647.2 81.1L648.7 73.2L650.2 62.8L651.8 50.0M631.7 84.6L633.2 85.1L634.7 85.2L636.0 85.0L637.4 84.1L638.3 83.1L639.3 81.5L640.6 78.2L641.9 72.9L643.3 65.1L644.7 54.9L646.2 42.3" fill="none" stroke="#000" stroke-opacity="0.5" stroke-width="0.4"/><path d="M660.1 61.4L640.9 35.1" stroke="#fff" stroke-opacity="0.55" stroke-width="0.5" stroke-dasharray="1.6 1.8"/><path d="M647.7 114.9L649.3 114.5L627.1 76.8L624.4 74.9Z" fill="url(#s52)" stroke="url(#s52)" stroke-width="0.7"/><path d="M646.5 113.6L647.7 114.9L624.4 74.9L622.1 71.8Z" fill="url(#s53)" stroke="url(#s53)" stroke-width="0.7"/><path d="M645.9 110.7L646.5 113.6L622.1 71.8L620.8 67.9Z" fill="url(#s54)" stroke="url(#s54)" stroke-width="0.7"/><path d="M645.7 107.2L645.9 110.7L620.8 67.9L620.1 63.9Z" fill="url(#s55)" stroke="url(#s55)" stroke-width="0.7"/><path d="M645.7 103.3L645.7 107.2L620.1 63.9L619.7 59.9Z" fill="url(#s56)" stroke="url(#s56)" stroke-width="0.7"/><path d="M645.8 99.3L645.7 103.3L619.7 59.9L619.5 55.9Z" fill="url(#s57)" stroke="url(#s57)" stroke-width="0.7"/><path d="M645.9 95.1L645.8 99.3L619.5 55.9L619.4 51.9Z" fill="url(#s58)" stroke="url(#s58)" stroke-width="0.7"/><path d="M646.2 90.9L645.9 95.1L619.4 51.9L619.4 47.8Z" fill="url(#s59)" stroke="url(#s59)" stroke-width="0.7"/><path d="M646.4 86.6L646.2 90.9L619.4 47.8L619.4 43.8Z" fill="url(#s60)" stroke="url(#s60)" stroke-width="0.7"/><path d="M646.7 82.2L646.4 86.6L619.4 43.8L619.4 39.7Z" fill="url(#s61)" stroke="url(#s61)" stroke-width="0.7"/><path d="M647.0 77.8L646.7 82.2L619.4 39.7L619.5 35.6Z" fill="url(#s62)" stroke="url(#s62)" stroke-width="0.7"/><path d="M647.3 73.4L647.0 77.8L619.5 35.6L619.6 31.5Z" fill="url(#s63)" stroke="url(#s63)" stroke-width="0.7"/><path d="M647.7 68.9L647.3 73.4L619.6 31.5L619.7 27.4Z" fill="url(#s64)" stroke="url(#s64)" stroke-width="0.7"/><path d="M621.5 30.0L620.7 56.0L620.7 63.5L621.1 68.4M624.8 34.9L624.0 57.4L624.0 70.5L624.3 73.8L624.9 76.6L625.5 77.5L626.1 77.9L626.9 78.0L627.7 77.7M628.3 40.1L627.3 62.8L627.3 76.0L627.6 79.4L628.2 82.2L628.8 83.1L629.4 83.6L630.2 83.6L630.9 83.3M631.9 45.4L630.8 68.4L630.7 81.8L630.9 85.2L631.6 88.0L632.2 89.0L632.8 89.4L633.6 89.4L634.4 89.1M635.6 50.9L634.4 74.2L634.2 82.2L634.2 87.8L634.5 91.2L635.1 94.0L635.7 95.0L636.3 95.4L637.1 95.4L637.9 95.1M639.4 56.6L638.1 80.3L637.9 88.4L637.9 94.0L638.1 97.5L638.8 100.3L639.3 101.3L640.0 101.7L640.7 101.7L641.6 101.3M643.5 62.6L642.0 86.6L641.7 94.8L641.7 100.4L641.9 104.0L642.6 106.8L643.1 107.8L643.8 108.2L644.6 108.1L645.4 107.8M645.3 65.4L644.5 81.3L644.2 94.7L644.6 103.6L645.5 110.1M639.6 56.9L639.0 70.2L638.7 81.3L638.8 90.0L639.3 96.4L640.0 100.7L640.7 103.1L641.5 104.9L642.7 107.0L643.9 108.5L645.5 109.8L647.1 110.7M634.2 48.9L633.5 72.8L633.6 81.4L634.1 87.6L634.8 91.9L636.2 96.0L637.4 98.0L638.7 99.4L640.2 100.7L641.7 101.5M629.1 41.3L628.5 64.8L628.7 73.2L629.2 79.3L629.9 83.5L631.3 87.5L632.5 89.4L633.6 90.8L635.1 92.0L636.6 92.9M624.3 34.2L623.8 57.2L624.0 65.4L624.5 71.4L625.3 75.5L626.6 79.4L627.7 81.3L628.9 82.7L630.3 83.8L631.7 84.6" fill="none" stroke="#000" stroke-opacity="0.5" stroke-width="0.4"/><path d="M645.3 74.6L645.8 70.0L616.8 26.3L616.5 30.3Z" fill="url(#s65)" stroke="url(#s65)" stroke-width="0.7"/><path d="M644.9 79.1L645.3 74.6L616.5 30.3L616.1 34.3Z" fill="url(#s66)" stroke="url(#s66)" stroke-width="0.7"/><path d="M644.4 83.7L644.9 79.1L616.1 34.3L615.8 38.3Z" fill="url(#s67)" stroke="url(#s67)" stroke-width="0.7"/><path d="M643.9 88.2L644.4 83.7L615.8 38.3L615.4 42.2Z" fill="url(#s68)" stroke="url(#s68)" stroke-width="0.7"/><path d="M643.4 92.7L643.9 88.2L615.4 42.2L615.0 46.1Z" fill="url(#s69)" stroke="url(#s69)" stroke-width="0.7"/><path d="M642.9 97.1L643.4 92.7L615.0 46.1L614.5 49.9Z" fill="url(#s70)" stroke="url(#s70)" stroke-width="0.7"/><path d="M642.3 101.5L642.9 97.1L614.5 49.9L614.0 53.6Z" fill="url(#s71)" stroke="url(#s71)" stroke-width="0.7"/><path d="M641.7 105.9L642.3 101.5L614.0 53.6L613.4 57.3Z" fill="url(#s72)" stroke="url(#s72)" stroke-width="0.7"/><path d="M641.0 110.3L641.7 105.9L613.4 57.3L612.6 60.8Z" fill="url(#s73)" stroke="url(#s73)" stroke-width="0.7"/><path d="M640.0 114.7L641.0 110.3L612.6 60.8L611.5 64.0Z" fill="url(#s74)" stroke="url(#s74)" stroke-width="0.7"/><path d="M638.8 118.9L640.0 114.7L611.5 64.0L609.9 66.5Z" fill="url(#s75)" stroke="url(#s75)" stroke-width="0.7"/><path d="M637.1 122.2L638.8 118.9L609.9 66.5L607.6 67.7Z" fill="url(#s76)" stroke="url(#s76)" stroke-width="0.7"/><path d="M635.3 124.2L637.1 122.2L607.6 67.7L604.9 67.2Z" fill="url(#s77)" stroke="url(#s77)" stroke-width="0.7"/><path d="M605.9 69.0L606.7 68.4M608.7 74.3L609.5 73.7L610.3 72.7L611.0 71.6L612.2 68.3L613.1 64.5L614.5 54.4L616.0 36.4M611.6 79.8L612.4 79.1L613.3 78.1L614.7 75.2L615.8 71.5L616.5 67.5L618.1 53.6L619.8 30.9M614.6 85.4L615.4 84.8L616.3 83.8L617.8 80.8L618.9 77.0L619.6 73.0L621.3 58.9L623.1 35.8M617.7 91.3L618.6 90.6L619.5 89.6L621.0 86.5L622.1 82.7L622.8 78.6L624.6 64.3L626.5 41.0M621.0 97.4L621.8 96.7L622.7 95.6L624.3 92.5L625.4 88.6L626.2 84.5L628.0 70.0L630.1 46.3M624.4 103.7L625.2 103.0L626.1 101.9L627.7 98.7L628.8 94.8L629.7 90.6L631.6 75.9L633.8 51.9M627.9 110.3L628.8 109.5L629.7 108.4L631.3 105.2L632.4 101.2L633.3 96.9L635.3 82.0L637.6 57.7M631.5 117.1L632.4 116.3L633.3 115.2L635.0 111.9L636.2 107.8L637.0 103.5L639.1 88.4L641.6 63.7M631.7 117.4L633.3 118.0L635.0 118.2L636.4 118.0L637.9 117.2L638.9 116.2L640.0 114.5M626.6 107.9L628.2 108.4L629.8 108.6L631.2 108.4L632.6 107.6L633.6 106.6L634.6 105.0L635.9 101.5L637.4 96.0L638.8 87.8L640.3 77.1L641.8 63.9M621.8 98.9L623.3 99.4L624.9 99.6L626.2 99.3L627.6 98.5L628.5 97.5L629.5 95.9L630.8 92.5L632.1 87.0L633.5 79.0L634.8 68.5L636.2 55.5M617.2 90.3L618.7 90.8L620.2 91.0L621.5 90.7L622.8 89.9L623.7 88.9L624.6 87.3L625.9 83.9L627.1 78.6L628.4 70.7L631.0 47.6M612.9 82.2L614.3 82.7L615.8 82.8L617.0 82.5L618.3 81.7L619.2 80.7L620.1 79.1L621.2 75.8L622.4 70.5L623.6 62.8L626.0 40.1M608.8 74.5L610.2 75.0L611.6 75.1L612.8 74.8L614.0 73.9L614.8 72.9L615.7 71.4L616.8 68.1L618.0 62.9L619.1 55.3L621.3 33.0" fill="none" stroke="#000" stroke-opacity="0.5" stroke-width="0.4"/><path d="M645.8 70.0L616.8 26.3" stroke="#fff" stroke-opacity="0.55" stroke-width="0.5" stroke-dasharray="1.6 1.8"/><path d="M633.6 124.7L635.3 124.2L604.9 67.2L602.2 65.4Z" fill="url(#s78)" stroke="url(#s78)" stroke-width="0.7"/><path d="M632.3 123.4L633.6 124.7L602.2 65.4L600.1 62.3Z" fill="url(#s79)" stroke="url(#s79)" stroke-width="0.7"/><path d="M631.5 120.5L632.3 123.4L600.1 62.3L598.8 58.6Z" fill="url(#s80)" stroke="url(#s80)" stroke-width="0.7"/><path d="M631.2 116.9L631.5 120.5L598.8 58.6L598.1 54.7Z" fill="url(#s81)" stroke="url(#s81)" stroke-width="0.7"/><path d="M631.2 112.9L631.2 116.9L598.1 54.7L597.6 50.8Z" fill="url(#s82)" stroke="url(#s82)" stroke-width="0.7"/><path d="M631.2 108.8L631.2 112.9L597.6 50.8L597.3 46.8Z" fill="url(#s83)" stroke="url(#s83)" stroke-width="0.7"/><path d="M631.3 104.6L631.2 108.8L597.3 46.8L597.2 42.9Z" fill="url(#s84)" stroke="url(#s84)" stroke-width="0.7"/><path d="M631.4 100.3L631.3 104.6L597.2 42.9L597.1 39.0Z" fill="url(#s85)" stroke="url(#s85)" stroke-width="0.7"/><path d="M631.6 96.0L631.4 100.3L597.1 39.0L597.0 35.0Z" fill="url(#s86)" stroke="url(#s86)" stroke-width="0.7"/><path d="M631.8 91.5L631.6 96.0L597.0 35.0L597.0 31.1Z" fill="url(#s87)" stroke="url(#s87)" stroke-width="0.7"/><path d="M632.1 87.0L631.8 91.5L597.0 31.1L596.9 27.1Z" fill="url(#s88)" stroke="url(#s88)" stroke-width="0.7"/><path d="M632.3 82.5L632.1 87.0L596.9 27.1L597.0 23.0Z" fill="url(#s89)" stroke="url(#s89)" stroke-width="0.7"/><path d="M632.6 77.9L632.3 82.5L597.0 23.0L597.0 19.0Z" fill="url(#s90)" stroke="url(#s90)" stroke-width="0.7"/><path d="M599.0 22.4L598.8 40.3L598.9 51.6L599.4 58.7L600.0 61.7L600.3 62.8M601.9 27.0L601.5 49.0L601.9 61.9L602.3 65.2L603.0 67.9L603.7 68.8L604.3 69.3L605.1 69.3L605.9 69.0M604.8 31.9L604.4 54.1L604.4 61.8L604.7 67.1L605.1 70.4L605.8 73.2L606.5 74.1L607.1 74.5L607.9 74.6L608.7 74.3M607.8 36.9L607.3 59.4L607.4 67.2L607.6 72.5L608.0 75.9L608.7 78.7L609.3 79.6L610.0 80.0L610.8 80.1L611.6 79.8M610.9 42.0L610.4 64.9L610.4 72.7L610.6 78.2L611.0 81.6L611.7 84.3L612.3 85.3L613.0 85.7L613.8 85.8L614.6 85.4M614.2 47.4L613.5 70.6L613.5 78.5L613.7 84.0L614.1 87.5L614.8 90.2L615.5 91.2L616.1 91.6L616.9 91.6L617.7 91.3M617.6 53.0L616.8 76.5L616.8 84.5L617.0 90.1L617.3 93.6L618.0 96.4L618.7 97.3L619.3 97.7L620.2 97.7L621.0 97.4M621.1 58.9L620.2 82.6L620.2 90.8L620.3 96.4L620.7 99.9L621.4 102.7L622.0 103.7L622.7 104.1L623.5 104.1L624.4 103.7M624.8 64.9L623.8 89.0L623.7 97.3L623.8 102.9L624.1 106.5L624.9 109.3L625.5 110.3L626.2 110.7L627.0 110.7L627.9 110.3M628.6 71.3L627.5 95.7L627.3 104.0L627.5 109.8L627.8 113.3L628.5 116.2L629.1 117.2L629.8 117.5L630.7 117.5L631.5 117.1M628.8 71.6L628.1 94.4L628.4 107.9L628.8 112.4L629.6 116.9L630.4 119.4L631.2 121.3L632.4 123.4M623.4 62.7L623.0 76.3L622.9 87.5L623.2 96.3L623.7 102.8L624.5 107.2L625.2 109.6L626.0 111.5L627.2 113.6L628.5 115.1L630.1 116.4L631.7 117.4M618.4 54.4L618.0 78.7L618.3 87.3L618.9 93.7L619.6 98.0L621.1 102.2L622.3 104.2L623.5 105.7L625.1 107.0L626.6 107.9M613.7 46.6L613.4 70.4L613.7 78.9L614.3 85.0L615.0 89.3L616.5 93.4L617.6 95.3L618.8 96.8L620.3 98.0L621.8 98.9M609.2 39.1L609.0 62.5L609.3 70.8L609.9 76.9L610.7 81.0L612.1 85.0L613.2 86.9L614.4 88.3L615.8 89.5L617.2 90.3M604.9 32.1L604.8 55.0L605.2 63.2L605.8 69.1L606.5 73.2L607.9 77.1L609.0 79.0L610.1 80.3L611.5 81.4L612.9 82.2M600.8 25.4L600.9 47.8L601.2 55.9L601.8 61.7L602.6 65.7L603.9 69.5L605.0 71.4L606.1 72.6L607.4 73.8L608.8 74.5" fill="none" stroke="#000" stroke-opacity="0.5" stroke-width="0.4"/><path d="M630.2 83.8L630.6 79.1L594.2 18.0L594.0 21.9Z" fill="url(#s91)" stroke="url(#s91)" stroke-width="0.7"/><path d="M629.8 88.4L630.2 83.8L594.0 21.9L593.8 25.9Z" fill="url(#s92)" stroke="url(#s92)" stroke-width="0.7"/><path d="M629.4 93.0L629.8 88.4L593.8 25.9L593.5 29.7Z" fill="url(#s93)" stroke="url(#s93)" stroke-width="0.7"/><path d="M629.0 97.6L629.4 93.0L593.5 29.7L593.3 33.6Z" fill="url(#s94)" stroke="url(#s94)" stroke-width="0.7"/><path d="M628.5 102.2L629.0 97.6L593.3 33.6L593.0 37.4Z" fill="url(#s95)" stroke="url(#s95)" stroke-width="0.7"/><path d="M628.1 106.7L628.5 102.2L593.0 37.4L592.6 41.1Z" fill="url(#s96)" stroke="url(#s96)" stroke-width="0.7"/><path d="M627.5 111.2L628.1 106.7L592.6 41.1L592.2 44.7Z" fill="url(#s97)" stroke="url(#s97)" stroke-width="0.7"/><path d="M627.0 115.7L627.5 111.2L592.2 44.7L591.7 48.3Z" fill="url(#s98)" stroke="url(#s98)" stroke-width="0.7"/><path d="M626.3 120.2L627.0 115.7L591.7 48.3L591.0 51.7Z" fill="url(#s99)" stroke="url(#s99)" stroke-width="0.7"/><path d="M625.4 124.7L626.3 120.2L591.0 51.7L590.1 54.9Z" fill="url(#s100)" stroke="url(#s100)" stroke-width="0.7"/><path d="M624.1 128.9L625.4 124.7L590.1 54.9L588.6 57.4Z" fill="url(#s101)" stroke="url(#s101)" stroke-width="0.7"/><path d="M622.4 132.4L624.1 128.9L588.6 57.4L586.5 58.6Z" fill="url(#s102)" stroke="url(#s102)" stroke-width="0.7"/><path d="M620.5 134.4L622.4 132.4L586.5 58.6L583.9 58.1Z" fill="url(#s103)" stroke="url(#s103)" stroke-width="0.7"/><path d="M585.3 60.8L586.1 60.3L586.9 59.4L587.6 58.3M587.6 65.8L588.5 65.3L589.3 64.3L590.7 61.5L591.6 57.9L592.3 54.1L593.5 40.7L594.6 18.7M590.1 71.0L590.9 70.4L591.8 69.4L593.2 66.6L594.2 63.0L594.8 59.1L596.1 45.5L597.3 23.2M592.7 76.3L593.5 75.7L594.4 74.7L595.8 71.9L596.8 68.2L597.5 64.2L598.8 50.4L600.1 27.9M595.3 81.9L596.2 81.2L597.0 80.2L598.5 77.3L599.5 73.5L600.2 69.6L601.6 55.6L603.0 32.7M598.1 87.6L598.9 86.9L599.8 85.9L601.3 82.9L602.3 79.1L603.0 75.1L604.5 60.9L606.0 37.7M600.9 93.6L601.8 92.9L602.7 91.8L604.2 88.8L605.3 84.9L606.0 80.8L607.5 66.4L609.1 43.0M603.9 99.7L604.7 99.0L605.6 98.0L607.2 94.8L608.3 90.9L609.1 86.8L610.7 72.2L612.3 48.4M606.9 106.1L607.8 105.4L608.7 104.3L610.3 101.1L611.5 97.1L612.2 92.9L613.9 78.2L615.7 54.0M610.1 112.8L611.0 112.0L612.0 110.9L613.6 107.7L614.7 103.6L615.5 99.4L617.3 84.4L619.2 59.9M613.4 119.7L614.4 119.0L615.3 117.8L616.9 114.5L618.1 110.4L619.0 106.0L619.9 99.7L620.8 90.8L622.9 66.0M616.9 126.9L617.8 126.1L618.8 124.9L620.5 121.6L621.7 117.4L622.5 113.0L623.5 106.5L624.5 97.6L626.7 72.4M615.6 124.3L617.3 124.9L618.9 125.2L620.3 125.0L621.8 124.2L622.8 123.2L623.8 121.6L624.5 120.1L625.6 116.4L627.0 110.2L628.3 101.7L629.6 90.8M610.9 114.4L612.5 115.0L614.1 115.3L615.4 115.0L616.8 114.2L617.8 113.2L618.8 111.6L620.0 108.1L621.4 102.5L622.7 94.3L624.0 83.4L625.3 70.1M606.4 105.1L607.9 105.7L609.5 105.8L610.8 105.6L612.1 104.8L613.0 103.8L614.0 102.2L615.2 98.8L616.5 93.2L617.7 85.1L618.9 74.5L620.1 61.3M602.2 96.2L603.7 96.8L605.1 96.9L606.4 96.7L607.7 95.9L608.6 94.8L609.5 93.2L610.7 89.9L611.8 84.4L613.0 76.4L615.1 53.1M598.2 87.8L599.6 88.3L601.0 88.5L602.3 88.2L603.5 87.4L604.3 86.4L605.2 84.8L606.3 81.4L607.4 76.1L608.5 68.2L610.5 45.3M594.4 79.9L595.7 80.3L597.1 80.4L598.3 80.1L599.5 79.3L600.3 78.3L601.1 76.7L602.2 73.5L603.3 68.2L604.3 60.5L606.1 37.9M590.7 72.3L592.0 72.7L593.4 72.8L594.5 72.5L595.7 71.7L596.5 70.7L597.3 69.1L598.3 65.9L599.3 60.6L600.2 53.1L601.9 30.9M587.3 65.0L588.5 65.4L589.9 65.5L591.0 65.2L592.1 64.4L592.8 63.4L593.6 61.8L594.6 58.6L595.5 53.5L596.4 46.0L598.0 24.3" fill="none" stroke="#000" stroke-opacity="0.5" stroke-width="0.4"/><path d="M630.6 79.1L594.2 18.0" stroke="#fff" stroke-opacity="0.55" stroke-width="0.5" stroke-dasharray="1.6 1.8"/><path d="M618.6 135.0L620.5 134.4L583.9 58.1L581.5 56.4Z" fill="url(#s104)" stroke="url(#s104)" stroke-width="0.7"/><path d="M617.2 133.7L618.6 135.0L581.5 56.4L579.4 53.5Z" fill="url(#s105)" stroke="url(#s105)" stroke-width="0.7"/><path d="M616.4 130.8L617.2 133.7L579.4 53.5L578.1 49.8Z" fill="url(#s106)" stroke="url(#s106)" stroke-width="0.7"/><path d="M616.0 127.1L616.4 130.8L578.1 49.8L577.4 46.0Z" fill="url(#s107)" stroke="url(#s107)" stroke-width="0.7"/><path d="M615.8 123.2L616.0 127.1L577.4 46.0L576.9 42.2Z" fill="url(#s108)" stroke="url(#s108)" stroke-width="0.7"/><path d="M615.7 119.0L615.8 123.2L576.9 42.2L576.5 38.4Z" fill="url(#s109)" stroke="url(#s109)" stroke-width="0.7"/><path d="M615.8 114.7L615.7 119.0L576.5 38.4L576.3 34.5Z" fill="url(#s110)" stroke="url(#s110)" stroke-width="0.7"/><path d="M615.8 110.3L615.8 114.7L576.3 34.5L576.1 30.7Z" fill="url(#s111)" stroke="url(#s111)" stroke-width="0.7"/><path d="M615.9 105.9L615.8 110.3L576.1 30.7L576.0 26.8Z" fill="url(#s112)" stroke="url(#s112)" stroke-width="0.7"/><path d="M616.1 101.4L615.9 105.9L576.0 26.8L575.9 22.9Z" fill="url(#s113)" stroke="url(#s113)" stroke-width="0.7"/><path d="M616.2 96.8L616.1 101.4L575.9 22.9L575.8 19.0Z" fill="url(#s114)" stroke="url(#s114)" stroke-width="0.7"/><path d="M616.4 92.2L616.2 96.8L575.8 19.0L575.7 15.1Z" fill="url(#s115)" stroke="url(#s115)" stroke-width="0.7"/><path d="M616.6 87.5L616.4 92.2L575.7 15.1L575.6 11.2Z" fill="url(#s116)" stroke="url(#s116)" stroke-width="0.7"/><path d="M577.8 15.2L578.0 34.5L578.4 45.5L579.2 52.2L580.1 54.8L580.7 55.8M580.2 19.6L580.4 41.1L580.6 48.6L581.0 53.7L581.5 57.0L582.3 59.7L583.0 60.6L583.7 61.0L584.5 61.1L585.3 60.8M582.6 24.1L582.7 45.9L583.0 53.5L583.4 58.7L583.9 62.0L584.7 64.7L585.4 65.6L586.0 66.0L586.8 66.1L587.6 65.8M585.1 28.8L585.2 50.9L585.5 58.5L585.8 63.8L586.3 67.1L587.1 69.9L587.8 70.8L588.5 71.2L589.3 71.3L590.1 71.0M587.8 33.7L587.8 56.1L588.0 63.8L588.4 69.1L588.8 72.5L589.7 75.2L590.3 76.2L591.0 76.6L591.8 76.6L592.7 76.3M590.5 38.8L590.4 61.4L590.6 69.2L591.0 74.6L591.4 78.0L592.3 80.8L593.0 81.7L593.6 82.1L594.5 82.2L595.3 81.9M593.3 44.0L593.2 67.0L593.4 74.9L593.7 80.3L594.2 83.8L595.0 86.5L595.7 87.5L596.4 87.9L597.2 87.9L598.1 87.6M596.2 49.5L596.0 72.8L596.2 80.8L596.5 86.3L597.0 89.7L597.8 92.5L598.5 93.5L599.2 93.9L600.0 93.9L600.9 93.6M599.3 55.2L599.0 78.8L599.1 86.9L599.4 92.4L599.9 95.9L600.7 98.7L601.4 99.7L602.1 100.1L603.0 100.1L603.9 99.7M602.5 61.1L602.1 85.0L602.2 93.2L602.5 98.8L602.9 102.3L603.8 105.2L604.5 106.1L605.2 106.5L606.0 106.5L606.9 106.1M605.8 67.3L605.3 91.5L605.4 99.8L605.7 105.5L606.1 109.0L606.9 111.9L607.6 112.8L608.3 113.2L609.2 113.2L610.1 112.8M609.2 73.7L608.7 98.3L608.7 106.6L609.0 112.4L609.4 116.0L610.2 118.9L610.9 119.8L611.6 120.2L612.5 120.2L613.4 119.7M612.8 80.4L612.1 105.3L612.1 113.8L612.4 119.6L612.8 123.2L613.6 126.1L614.3 127.1L615.1 127.4L616.0 127.4L616.9 126.9M611.5 78.0L611.3 92.0L611.3 103.6L611.6 112.7L612.3 119.4L613.2 124.0L613.9 126.6L614.7 128.5L616.0 130.7L617.4 132.3L619.0 133.7M606.6 68.8L606.4 82.6L606.5 93.9L606.9 102.9L607.5 109.4L608.4 113.9L609.9 118.3L611.2 120.4L612.5 121.9L614.0 123.3L615.6 124.3M602.0 60.2L602.0 84.8L602.4 93.6L603.0 99.9L603.9 104.3L605.4 108.6L606.6 110.7L607.8 112.2L609.4 113.5L610.9 114.4M597.6 52.0L597.7 76.1L598.1 84.7L598.8 91.0L599.6 95.3L601.1 99.5L602.3 101.5L603.5 102.9L604.9 104.2L606.4 105.1M593.4 44.3L593.6 67.9L594.1 76.4L594.7 82.5L595.6 86.7L597.0 90.8L598.2 92.8L599.3 94.2L600.7 95.4L602.2 96.2M589.5 36.9L589.8 60.1L590.2 68.4L590.9 74.5L591.7 78.6L593.1 82.6L594.3 84.5L595.4 85.8L596.8 87.0L598.2 87.8M585.8 30.0L586.1 52.8L586.6 60.9L587.3 66.8L588.1 70.9L589.4 74.8L590.5 76.6L591.6 77.9L593.0 79.1L594.4 79.9M582.2 23.4L582.7 45.8L583.1 53.7L583.8 59.6L584.6 63.5L585.9 67.3L587.0 69.1L588.1 70.4L589.4 71.5L590.7 72.3M578.9 17.1L579.3 39.1L579.8 46.9L580.5 52.6L581.3 56.5L582.6 60.2L583.6 62.0L584.7 63.2L586.0 64.3L587.3 65.0" fill="none" stroke="#000" stroke-opacity="0.5" stroke-width="0.4"/><path d="M614.2 93.5L614.5 88.7L573.0 10.2L572.9 14.1Z" fill="url(#s117)" stroke="url(#s117)" stroke-width="0.7"/><path d="M613.8 98.3L614.2 93.5L572.9 14.1L572.8 17.9Z" fill="url(#s118)" stroke="url(#s118)" stroke-width="0.7"/><path d="M613.5 103.0L613.8 98.3L572.8 17.9L572.6 21.7Z" fill="url(#s119)" stroke="url(#s119)" stroke-width="0.7"/><path d="M613.1 107.7L613.5 103.0L572.6 21.7L572.5 25.4Z" fill="url(#s120)" stroke="url(#s120)" stroke-width="0.7"/><path d="M612.8 112.3L613.1 107.7L572.5 25.4L572.2 29.1Z" fill="url(#s121)" stroke="url(#s121)" stroke-width="0.7"/><path d="M612.3 116.9L612.8 112.3L572.2 29.1L572.0 32.8Z" fill="url(#s122)" stroke="url(#s122)" stroke-width="0.7"/><path d="M611.9 121.5L612.3 116.9L572.0 32.8L571.7 36.4Z" fill="url(#s123)" stroke="url(#s123)" stroke-width="0.7"/><path d="M611.3 126.1L611.9 121.5L571.7 36.4L571.3 39.9Z" fill="url(#s124)" stroke="url(#s124)" stroke-width="0.7"/><path d="M610.7 130.7L611.3 126.1L571.3 39.9L570.7 43.2Z" fill="url(#s125)" stroke="url(#s125)" stroke-width="0.7"/><path d="M609.8 135.2L610.7 130.7L570.7 43.2L569.9 46.3Z" fill="url(#s126)" stroke="url(#s126)" stroke-width="0.7"/><path d="M608.6 139.6L609.8 135.2L569.9 46.3L568.6 48.8Z" fill="url(#s127)" stroke="url(#s127)" stroke-width="0.7"/><path d="M606.8 143.2L608.6 139.6L568.6 48.8L566.6 50.0Z" fill="url(#s128)" stroke="url(#s128)" stroke-width="0.7"/><path d="M604.8 145.3L606.8 143.2L566.6 50.0L564.3 49.6Z" fill="url(#s129)" stroke="url(#s129)" stroke-width="0.7"/><path d="M565.7 53.1L566.5 52.5L567.3 51.7L568.7 49.0M567.7 57.8L568.5 57.3L569.4 56.4L570.7 53.6L571.6 50.1L572.2 46.4L573.2 33.2L573.8 11.7M569.8 62.7L570.6 62.1L571.5 61.2L572.8 58.4L573.8 54.9L574.3 51.1L575.3 37.8L576.1 16.0M571.9 67.8L572.8 67.2L573.6 66.2L575.0 63.4L576.0 59.8L576.6 56.0L577.6 42.4L578.4 20.4M574.2 73.0L575.0 72.4L575.9 71.4L577.3 68.6L578.3 64.9L578.9 61.0L580.0 47.3L580.8 24.9M576.4 78.4L577.3 77.8L578.2 76.8L579.6 73.9L580.6 70.2L581.2 66.2L582.4 52.3L583.3 29.7M578.8 84.0L579.7 83.4L580.6 82.4L582.1 79.4L583.1 75.6L583.7 71.6L584.9 57.6L585.9 34.6M581.3 89.8L582.2 89.2L583.1 88.1L584.6 85.1L585.6 81.3L586.3 77.2L586.9 71.2L587.5 63.0L588.6 39.7M583.8 95.8L584.7 95.2L585.6 94.1L587.2 91.0L588.2 87.1L588.9 83.0L589.6 77.0L590.2 68.6L591.4 45.0M586.5 102.1L587.4 101.4L588.3 100.3L589.9 97.2L591.0 93.2L591.7 89.1L592.4 82.9L593.0 74.4L594.3 50.5M589.2 108.6L590.2 107.9L591.1 106.8L592.7 103.6L593.8 99.5L594.5 95.3L595.3 89.1L596.0 80.5L597.3 56.2M592.1 115.4L593.0 114.6L594.0 113.5L595.6 110.2L596.8 106.1L597.5 101.8L598.3 95.5L599.0 86.8L600.5 62.2M595.1 122.4L596.0 121.6L597.0 120.5L598.7 117.1L599.8 113.0L600.6 108.6L601.4 102.2L602.2 93.3L603.8 68.4M598.2 129.7L599.2 128.9L600.1 127.7L601.0 126.3L601.8 124.3L603.0 120.1L603.8 115.7L604.7 109.2L605.5 100.2L607.2 74.9M601.4 137.4L602.4 136.5L603.4 135.3L604.3 133.8L605.1 131.8L606.4 127.5L607.2 123.0L608.1 116.4L608.9 107.3L610.8 81.6M603.6 142.4L605.2 143.1M598.9 131.5L600.6 132.2L602.2 132.5L603.6 132.3L605.0 131.5L606.0 130.5L607.0 128.9L608.2 125.3L609.5 119.6L610.8 111.1L612.0 99.9L613.1 86.1M594.6 121.3L596.2 121.9L597.7 122.1L599.1 121.9L600.4 121.1L601.4 120.1L602.3 118.5L603.5 115.0L604.7 109.3L605.9 101.0L607.0 90.0L608.0 76.5M590.5 111.5L592.0 112.1L593.5 112.4L594.8 112.1L596.1 111.3L597.0 110.3L597.9 108.7L599.1 105.2L600.2 99.7L601.3 91.5L602.3 80.7L603.2 67.4M586.6 102.4L588.0 102.9L589.5 103.1L590.8 102.9L592.0 102.0L592.9 101.0L593.7 99.4L594.8 96.0L595.9 90.5L596.9 82.4L598.7 58.8M582.9 93.6L584.3 94.2L585.7 94.3L586.9 94.1L588.2 93.2L589.0 92.2L589.8 90.6L590.9 87.3L591.9 81.8L592.8 73.9L594.4 50.7M579.4 85.4L580.8 85.9L582.1 86.0L583.3 85.7L584.5 84.9L585.3 83.9L586.1 82.3L587.1 79.0L588.0 73.6L588.9 65.8L590.4 43.0M576.1 77.5L577.4 78.0L578.7 78.1L579.9 77.8L581.0 77.0L581.7 76.0L582.5 74.4L583.5 71.1L584.4 65.8L585.2 58.2L586.6 35.8M572.9 70.0L574.2 70.5L575.5 70.5L576.6 70.2L577.7 69.4L578.4 68.4L579.1 66.9L580.1 63.6L580.9 58.4L581.7 50.9L582.9 28.9M569.9 62.9L571.1 63.3L572.4 63.4L573.4 63.1L574.5 62.2L575.2 61.2L575.9 59.7L576.8 56.5L577.6 51.4L578.3 44.0L579.5 22.3M567.0 56.1L568.2 56.5L569.4 56.5L570.5 56.2L571.5 55.4L572.2 54.4L572.9 52.9L573.7 49.7L574.5 44.7L575.2 37.4L576.2 16.1" fill="none" stroke="#000" stroke-opacity="0.5" stroke-width="0.4"/><path d="M614.5 88.7L573.0 10.2" stroke="#fff" stroke-opacity="0.55" stroke-width="0.5" stroke-dasharray="1.6 1.8"/><path d="M602.8 145.9L604.8 145.3L564.3 49.6L562.8 48.6L562.2 48.7Z" fill="url(#s130)" stroke="url(#s130)" stroke-width="0.7"/><path d="M601.2 144.7L602.8 145.9L562.2 48.7L560.8 47.3Z" fill="url(#s131)" stroke="url(#s131)" stroke-width="0.7"/><path d="M600.3 141.7L601.2 144.7L560.8 47.3L559.9 44.7Z" fill="url(#s132)" stroke="url(#s132)" stroke-width="0.7"/><path d="M599.8 138.0L600.3 141.7L559.9 44.7L559.4 41.5Z" fill="url(#s133)" stroke="url(#s133)" stroke-width="0.7"/><path d="M599.5 134.0L599.8 138.0L559.4 41.5L559.0 38.1Z" fill="url(#s134)" stroke="url(#s134)" stroke-width="0.7"/><path d="M599.3 129.8L599.5 134.0L559.0 38.1L558.7 34.6Z" fill="url(#s135)" stroke="url(#s135)" stroke-width="0.7"/><path d="M599.3 125.4L599.3 129.8L558.7 34.6L558.5 31.0Z" fill="url(#s136)" stroke="url(#s136)" stroke-width="0.7"/><path d="M599.3 121.0L599.3 125.4L558.5 31.0L558.3 27.3Z" fill="url(#s137)" stroke="url(#s137)" stroke-width="0.7"/><path d="M599.3 116.4L599.3 121.0L558.3 27.3L558.2 23.6Z" fill="url(#s138)" stroke="url(#s138)" stroke-width="0.7"/><path d="M599.3 111.8L599.3 116.4L558.2 23.6L558.1 19.9Z" fill="url(#s139)" stroke="url(#s139)" stroke-width="0.7"/><path d="M599.4 107.2L599.3 111.8L558.1 19.9L558.0 16.1Z" fill="url(#s140)" stroke="url(#s140)" stroke-width="0.7"/><path d="M599.5 102.4L599.4 107.2L558.0 16.1L557.9 12.3Z" fill="url(#s141)" stroke="url(#s141)" stroke-width="0.7"/><path d="M599.6 97.7L599.5 102.4L557.9 12.3L557.8 8.4Z" fill="url(#s142)" stroke="url(#s142)" stroke-width="0.7"/><path d="M559.7 12.6L560.3 33.7L560.8 41.0L561.3 46.0L561.8 49.2L562.7 51.9L563.4 52.8L564.1 53.2L564.9 53.3L565.7 53.1M561.7 16.8L562.3 38.2L562.7 45.6L563.2 50.7L563.8 54.0L564.7 56.6L565.4 57.6L566.1 58.0L566.9 58.1L567.7 57.8M563.8 21.3L564.4 42.9L564.8 50.4L565.3 55.6L565.8 58.8L566.7 61.5L567.4 62.5L568.1 62.9L569.0 63.0L569.8 62.7M566.0 25.9L566.5 47.8L566.9 55.4L567.4 60.6L567.9 63.9L568.8 66.6L569.6 67.5L570.3 68.0L571.1 68.0L571.9 67.8M568.2 30.7L568.7 52.8L569.1 60.5L569.5 65.8L570.1 69.1L571.0 71.8L571.7 72.8L572.4 73.2L573.3 73.3L574.2 73.0M570.5 35.6L570.9 58.1L571.3 65.8L571.8 71.2L572.4 74.5L573.3 77.3L574.0 78.2L574.7 78.7L575.6 78.7L576.4 78.4M572.9 40.7L573.3 63.5L573.7 71.3L574.1 76.8L574.7 80.2L575.6 82.9L576.3 83.9L577.1 84.3L577.9 84.3L578.8 84.0M575.4 46.1L575.7 69.1L576.1 77.1L576.6 82.5L577.1 86.0L578.0 88.8L578.8 89.7L579.5 90.1L580.4 90.2L581.3 89.8M578.0 51.6L578.3 75.0L578.6 83.0L579.1 88.6L579.6 92.0L580.6 94.8L581.3 95.8L582.0 96.2L582.9 96.2L583.8 95.8M580.7 57.4L580.9 81.1L581.2 89.2L581.7 94.8L582.2 98.3L583.2 101.1L583.9 102.1L584.7 102.5L585.6 102.5L586.5 102.1M583.6 63.4L583.7 87.4L584.0 95.6L584.4 101.3L584.9 104.8L585.9 107.7L586.6 108.6L587.4 109.0L588.3 109.0L589.2 108.6M586.5 69.7L586.5 94.0L586.8 102.3L587.2 108.1L587.8 111.6L588.7 114.5L589.5 115.4L590.2 115.8L591.2 115.8L592.1 115.4M589.6 76.2L589.5 100.9L589.8 109.3L590.2 115.1L590.7 118.7L591.7 121.6L592.4 122.5L593.2 122.9L594.1 122.8L595.1 122.4M592.8 83.1L592.6 108.0L592.8 116.6L593.2 122.4L593.8 126.1L594.7 128.9L595.5 129.9L596.3 130.3L597.2 130.2L598.2 129.7M596.1 90.2L595.9 115.5L596.1 124.1L596.4 130.1L596.9 133.7L597.9 136.6L598.7 137.6L599.5 137.9L600.4 137.8L601.4 137.4M598.3 94.9L598.3 109.4L598.4 121.4L598.9 130.9L599.7 137.8M593.6 84.8L593.6 99.0L593.8 110.7L594.3 120.0L595.0 126.7L596.0 131.4L597.6 136.0L598.9 138.2L600.3 139.9L601.9 141.3L603.6 142.4M589.1 75.2L589.4 100.6L589.9 109.7L590.7 116.3L591.6 120.9L593.2 125.3L594.5 127.5L595.8 129.1L597.4 130.5L598.9 131.5M584.8 66.2L585.3 91.1L585.8 100.0L586.6 106.5L587.5 110.9L589.0 115.3L590.3 117.4L591.5 118.9L593.1 120.3L594.6 121.3M580.8 57.7L581.4 82.1L581.9 90.8L582.7 97.2L583.6 101.6L585.1 105.8L586.3 107.8L587.5 109.3L589.0 110.6L590.5 111.5M577.1 49.6L577.7 73.6L578.2 82.2L579.0 88.4L579.9 92.7L581.4 96.8L582.5 98.8L583.7 100.2L585.2 101.5L586.6 102.4M573.5 42.0L574.2 65.5L574.8 73.9L575.5 80.0L576.4 84.2L577.8 88.3L579.0 90.2L580.1 91.6L581.5 92.8L582.9 93.6M570.1 34.8L570.9 57.9L571.4 66.1L572.2 72.1L573.1 76.2L574.5 80.2L575.6 82.1L576.7 83.4L578.0 84.6L579.4 85.4M566.9 28.0L567.7 50.6L568.3 58.7L569.0 64.6L569.9 68.6L571.3 72.5L572.4 74.3L573.4 75.6L574.8 76.7L576.1 77.5M563.9 21.5L564.7 43.7L565.3 51.6L566.0 57.4L566.9 61.4L568.2 65.1L569.3 66.9L570.4 68.2L571.6 69.3L572.9 70.0M561.0 15.3L561.8 37.1L562.5 44.9L563.2 50.6L564.0 54.4L565.3 58.1L566.4 59.9L567.4 61.1L568.6 62.2L569.9 62.9M558.2 9.4L559.1 30.8L559.7 38.5L560.5 44.1L561.3 47.9L562.6 51.5L563.6 53.2L564.6 54.4L565.8 55.4L567.0 56.1" fill="none" stroke="#000" stroke-opacity="0.5" stroke-width="0.4"/><path d="M597.1 103.9L597.4 99.0L556.0 9.1L556.0 13.0Z" fill="url(#s143)" stroke="url(#s143)" stroke-width="0.7"/><path d="M596.9 108.7L597.1 103.9L556.0 13.0L556.0 16.9Z" fill="url(#s144)" stroke="url(#s144)" stroke-width="0.7"/><path d="M596.6 113.5L596.9 108.7L556.0 16.9L555.9 20.8Z" fill="url(#s145)" stroke="url(#s145)" stroke-width="0.7"/><path d="M596.3 118.3L596.6 113.5L555.9 20.8L555.8 24.6Z" fill="url(#s146)" stroke="url(#s146)" stroke-width="0.7"/><path d="M596.0 123.1L596.3 118.3L555.8 24.6L555.8 28.5Z" fill="url(#s147)" stroke="url(#s147)" stroke-width="0.7"/><path d="M595.6 127.8L596.0 123.1L555.8 28.5L555.6 32.3Z" fill="url(#s148)" stroke="url(#s148)" stroke-width="0.7"/><path d="M595.2 132.5L595.6 127.8L555.6 32.3L555.5 36.0Z" fill="url(#s149)" stroke="url(#s149)" stroke-width="0.7"/><path d="M594.8 137.1L595.2 132.5L555.5 36.0L555.3 39.8Z" fill="url(#s150)" stroke="url(#s150)" stroke-width="0.7"/><path d="M594.2 141.8L594.8 137.1L555.3 39.8L554.9 43.6Z" fill="url(#s151)" stroke="url(#s151)" stroke-width="0.7"/><path d="M593.3 146.5L594.2 141.8L554.9 43.6L554.4 47.3Z" fill="url(#s152)" stroke="url(#s152)" stroke-width="0.7"/><path d="M592.1 150.9L593.3 146.5L554.4 47.3L553.6 50.7Z" fill="url(#s153)" stroke="url(#s153)" stroke-width="0.7"/><path d="M590.3 154.6L592.1 150.9L553.6 50.7L552.2 53.4Z" fill="url(#s154)" stroke="url(#s154)" stroke-width="0.7"/><path d="M588.1 156.8L590.3 154.6L552.2 53.4L550.6 54.9Z" fill="url(#s155)" stroke="url(#s155)" stroke-width="0.7"/><path d="M552.3 59.6L553.2 59.1L554.0 58.2L555.4 55.4L556.3 51.9L556.8 48.2L557.6 34.9L557.9 13.3M554.1 64.6L555.0 64.0L555.9 63.1L557.3 60.3L558.2 56.7L558.7 52.9L559.5 39.5L559.9 17.6M556.0 69.7L556.9 69.1L557.8 68.2L559.2 65.3L560.1 61.7L560.7 57.8L561.1 52.1L561.5 44.3L562.0 22.1M558.0 75.0L558.9 74.4L559.7 73.4L560.5 72.2L561.2 70.5L562.1 66.9L562.7 62.9L563.2 57.2L563.6 49.2L564.1 26.7M560.0 80.5L560.9 79.9L561.8 78.9L562.5 77.7L563.3 75.9L564.2 72.2L564.8 68.2L565.3 62.4L565.7 54.3L566.3 31.5M562.1 86.2L563.0 85.5L563.9 84.5L564.7 83.3L565.4 81.5L566.4 77.7L567.0 73.7L567.5 67.8L568.0 59.6L568.6 36.5M564.3 92.1L565.2 91.4L566.1 90.4L566.9 89.1L567.6 87.3L568.6 83.5L569.2 79.4L569.8 73.4L570.3 65.0L571.0 41.7M566.5 98.2L567.5 97.5L568.4 96.4L569.2 95.1L569.9 93.3L571.0 89.4L571.6 85.3L572.2 79.2L572.7 70.7L573.5 47.0M568.9 104.5L569.8 103.8L570.8 102.7L571.5 101.4L572.3 99.6L573.4 95.6L574.0 91.4L574.6 85.2L575.2 76.7L576.0 52.6M571.3 111.1L572.2 110.4L573.2 109.3L574.0 107.9L574.8 106.0L575.9 102.0L576.6 97.7L577.2 91.5L577.8 82.8L578.7 58.4M573.8 118.0L574.8 117.2L575.8 116.1L576.6 114.7L577.4 112.8L578.5 108.7L579.2 104.4L579.9 98.0L580.5 89.2L581.5 64.5M576.4 125.1L577.4 124.3L578.4 123.2L579.3 121.8L580.1 119.8L581.2 115.6L582.0 111.2L582.7 104.8L583.3 95.9L584.4 70.8M579.2 132.6L580.2 131.7L581.2 130.5L582.1 129.1L582.9 127.1L584.1 122.8L584.8 118.4L585.5 111.9L586.2 102.8L587.4 77.4M582.0 140.3L583.1 139.5L584.1 138.2L585.0 136.8L585.8 134.7L587.0 130.4L587.8 125.9L588.6 119.2L589.3 110.1L590.6 84.3M585.0 148.4L586.1 147.5L587.1 146.2L588.0 144.7L588.9 142.7L590.1 138.2L590.9 133.7L591.7 126.9L592.5 117.6L593.9 91.5M585.7 150.4L587.4 151.1L589.1 151.5L590.5 151.4L592.0 150.6M581.6 139.0L583.2 139.8L584.8 140.1L586.2 139.9L587.6 139.1L588.5 138.1L589.4 136.5L590.6 132.9L591.8 127.1L592.9 118.6L593.8 107.2L594.7 93.2M577.6 128.4L579.2 129.0L580.7 129.3L582.1 129.1L583.4 128.3L584.3 127.3L585.2 125.7L586.3 122.2L587.4 116.4L588.4 108.0L589.3 96.9L590.1 83.1M573.9 118.3L575.4 118.9L576.9 119.1L578.2 118.9L579.5 118.1L580.3 117.1L581.2 115.5L582.3 112.0L583.3 106.3L584.2 98.1L585.0 87.1L585.7 73.7M570.4 108.7L571.8 109.3L573.3 109.5L574.5 109.3L575.8 108.5L576.6 107.5L577.4 105.8L578.4 102.4L579.4 96.8L580.3 88.7L581.6 64.7M567.1 99.7L568.5 100.2L569.9 100.4L571.1 100.1L572.3 99.3L573.0 98.3L573.8 96.7L574.8 93.3L575.7 87.8L576.5 79.8L577.7 56.3M563.9 91.1L565.3 91.6L566.6 91.8L567.8 91.5L568.9 90.7L569.7 89.7L570.4 88.1L571.4 84.7L572.2 79.3L573.0 71.4L574.1 48.3M560.9 83.0L562.2 83.4L563.6 83.6L564.7 83.3L565.8 82.5L566.5 81.5L567.2 79.9L568.1 76.6L568.9 71.2L569.6 63.5L570.6 40.8M558.1 75.2L559.3 75.7L560.6 75.8L561.7 75.5L562.8 74.6L563.5 73.6L564.2 72.1L565.0 68.8L565.8 63.6L566.4 55.9L567.3 33.7M555.3 67.8L556.6 68.3L557.8 68.3L558.9 68.0L559.9 67.2L560.6 66.2L561.3 64.7L562.1 61.4L562.8 56.3L563.4 48.8L564.2 26.9M552.8 60.8L554.0 61.2L555.2 61.3L556.2 61.0L557.2 60.1L557.8 59.1L558.5 57.6L559.3 54.4L560.0 49.3L560.5 41.9L561.2 20.4M551.5 54.5L552.6 54.5L553.6 54.2L554.6 53.4L555.2 52.4L555.9 50.9L556.6 47.7L557.3 42.7L557.8 35.4L558.4 14.3" fill="none" stroke="#000" stroke-opacity="0.5" stroke-width="0.4"/><path d="M597.4 99.0L556.0 9.1" stroke="#fff" stroke-opacity="0.55" stroke-width="0.5" stroke-dasharray="1.6 1.8"/><path d="M586.0 157.5L588.1 156.8L550.6 54.9L548.9 55.0Z" fill="url(#s156)" stroke="url(#s156)" stroke-width="0.7"/><path d="M584.3 156.3L586.0 157.5L548.9 55.0L547.4 53.6Z" fill="url(#s157)" stroke="url(#s157)" stroke-width="0.7"/><path d="M583.2 153.4L584.3 156.3L547.4 53.6L546.5 51.0Z" fill="url(#s158)" stroke="url(#s158)" stroke-width="0.7"/><path d="M582.6 149.6L583.2 153.4L546.5 51.0L545.8 47.8Z" fill="url(#s159)" stroke="url(#s159)" stroke-width="0.7"/><path d="M582.2 145.5L582.6 149.6L545.8 47.8L545.4 44.3Z" fill="url(#s160)" stroke="url(#s160)" stroke-width="0.7"/><path d="M581.9 141.2L582.2 145.5L545.4 44.3L545.0 40.7Z" fill="url(#s161)" stroke="url(#s161)" stroke-width="0.7"/><path d="M581.7 136.8L581.9 141.2L545.0 40.7L544.8 37.1Z" fill="url(#s162)" stroke="url(#s162)" stroke-width="0.7"/><path d="M581.6 132.3L581.7 136.8L544.8 37.1L544.5 33.4Z" fill="url(#s163)" stroke="url(#s163)" stroke-width="0.7"/><path d="M581.6 127.6L581.6 132.3L544.5 33.4L544.3 29.6Z" fill="url(#s164)" stroke="url(#s164)" stroke-width="0.7"/><path d="M581.5 123.0L581.6 127.6L544.3 29.6L544.1 25.8Z" fill="url(#s165)" stroke="url(#s165)" stroke-width="0.7"/><path d="M581.5 118.2L581.5 123.0L544.1 25.8L544.0 22.0Z" fill="url(#s166)" stroke="url(#s166)" stroke-width="0.7"/><path d="M581.5 113.4L581.5 118.2L544.0 22.0L543.8 18.1Z" fill="url(#s167)" stroke="url(#s167)" stroke-width="0.7"/><path d="M581.5 108.5L581.5 113.4L543.8 18.1L543.7 14.1Z" fill="url(#s168)" stroke="url(#s168)" stroke-width="0.7"/><path d="M545.4 18.5L546.4 40.0L546.9 47.4L547.5 52.5L548.2 55.8L549.2 58.4L549.9 59.4L550.6 59.8L551.5 59.9L552.3 59.6M547.2 23.0L548.1 44.7L548.7 52.2L549.3 57.4L550.0 60.7L550.9 63.4L551.7 64.4L552.4 64.8L553.3 64.9L554.1 64.6M549.1 27.7L550.0 49.7L550.5 57.3L551.2 62.5L551.8 65.8L552.8 68.6L553.5 69.5L554.3 69.9L555.2 70.0L556.0 69.7M551.0 32.5L551.9 54.8L552.4 62.5L553.1 67.8L553.7 71.1L554.7 73.9L555.5 74.8L556.2 75.2L557.1 75.3L558.0 75.0M553.0 37.5L553.9 60.1L554.4 67.9L555.0 73.3L555.7 76.6L556.7 79.4L557.4 80.3L558.2 80.8L559.1 80.8L560.0 80.5M555.1 42.7L555.9 65.6L556.5 73.5L557.1 78.9L557.7 82.3L558.7 85.1L559.5 86.1L560.3 86.5L561.2 86.5L562.1 86.2M557.3 48.1L558.1 71.3L558.6 79.3L559.2 84.8L559.8 88.2L560.9 91.0L561.6 92.0L562.4 92.4L563.3 92.4L564.3 92.1M559.5 53.8L560.3 77.3L560.8 85.3L561.4 90.9L562.0 94.4L563.1 97.2L563.9 98.1L564.6 98.5L565.6 98.5L566.5 98.2M561.9 59.6L562.6 83.4L563.1 91.6L563.7 97.2L564.3 100.7L565.4 103.6L566.2 104.5L567.0 104.9L567.9 104.9L568.9 104.5M564.3 65.7L565.0 89.9L565.5 98.1L566.0 103.8L566.7 107.4L567.7 110.2L568.6 111.2L569.4 111.5L570.3 111.5L571.3 111.1M566.9 72.1L567.5 96.6L567.9 104.9L568.5 110.7L569.2 114.2L570.2 117.1L571.0 118.1L571.9 118.4L572.8 118.4L573.8 118.0M569.6 78.8L570.1 103.5L570.5 112.0L571.1 117.8L571.7 121.4L572.8 124.3L573.6 125.3L574.5 125.6L575.4 125.6L576.4 125.1M572.3 85.7L572.8 110.8L573.2 119.4L573.8 125.3L574.4 128.9L575.5 131.8L576.3 132.8L577.2 133.1L578.2 133.0L579.2 132.6M575.2 93.0L575.6 118.4L576.0 127.1L576.6 133.0L577.2 136.7L578.3 139.6L579.1 140.6L580.0 140.9L581.0 140.8L582.0 140.3M578.3 100.6L578.6 126.4L579.0 135.1L579.5 141.1L580.1 144.8L581.2 147.8L582.1 148.7L582.9 149.0L584.0 148.9L585.0 148.4M579.1 102.5L579.5 124.5L580.4 138.9L580.9 143.8L581.7 148.6L583.1 153.5L584.0 155.6M574.8 91.8L575.1 106.2L575.5 118.1L576.2 127.5L577.1 134.4L578.1 139.1L579.8 143.8L581.1 146.1L582.5 147.8L584.1 149.3L585.7 150.4M570.8 81.8L571.6 107.6L572.3 116.8L573.2 123.5L574.1 128.2L575.8 132.7L577.1 134.9L578.4 136.5L580.0 138.0L581.6 139.0M567.0 72.4L567.9 97.7L568.6 106.7L569.5 113.3L570.4 117.8L572.1 122.2L573.3 124.4L574.6 126.0L576.1 127.3L577.6 128.4M563.4 63.5L564.4 88.3L565.1 97.2L566.0 103.6L566.9 108.0L568.5 112.4L569.7 114.4L571.0 116.0L572.4 117.3L573.9 118.3M560.1 55.2L561.1 79.5L561.8 88.2L562.7 94.5L563.6 98.8L565.2 103.0L566.3 105.0L567.5 106.5L569.0 107.8L570.4 108.7M556.9 47.3L558.0 71.1L558.7 79.6L559.6 85.8L560.5 90.1L562.0 94.2L563.1 96.1L564.3 97.6L565.7 98.8L567.1 99.7M553.9 39.8L555.0 63.2L555.7 71.5L556.6 77.6L557.5 81.8L559.0 85.8L560.1 87.7L561.2 89.1L562.6 90.3L563.9 91.1M551.1 32.7L552.2 55.6L552.9 63.8L553.8 69.8L554.7 73.9L556.1 77.8L557.2 79.7L558.3 81.0L559.6 82.2L560.9 83.0M548.4 26.0L549.5 48.5L550.3 56.5L551.1 62.4L552.0 66.4L553.4 70.2L554.5 72.0L555.5 73.3L556.8 74.5L558.1 75.2M545.8 19.6L547.0 41.7L547.7 49.6L548.6 55.3L549.4 59.2L550.8 63.0L551.8 64.8L552.9 66.0L554.1 67.1L555.3 67.8M544.9 39.1L546.1 48.6L547.0 52.4L547.7 54.5L549.3 57.8L550.3 59.1L551.6 60.1L552.8 60.8" fill="none" stroke="#000" stroke-opacity="0.5" stroke-width="0.4"/><path d="M578.9 114.9L579.1 109.9L541.8 14.9L541.8 18.9Z" fill="url(#s169)" stroke="url(#s169)" stroke-width="0.7"/><path d="M578.8 119.9L578.9 114.9L541.8 18.9L541.9 22.8Z" fill="url(#s170)" stroke="url(#s170)" stroke-width="0.7"/><path d="M578.6 124.8L578.8 119.9L541.9 22.8L541.9 26.8Z" fill="url(#s171)" stroke="url(#s171)" stroke-width="0.7"/><path d="M578.4 129.7L578.6 124.8L541.9 26.8L541.9 30.7Z" fill="url(#s172)" stroke="url(#s172)" stroke-width="0.7"/><path d="M578.1 134.5L578.4 129.7L541.9 30.7L541.8 34.6Z" fill="url(#s173)" stroke="url(#s173)" stroke-width="0.7"/><path d="M577.9 139.3L578.1 134.5L541.8 34.6L541.8 38.4Z" fill="url(#s174)" stroke="url(#s174)" stroke-width="0.7"/><path d="M577.5 144.1L577.9 139.3L541.8 38.4L541.6 42.3Z" fill="url(#s175)" stroke="url(#s175)" stroke-width="0.7"/><path d="M577.1 148.9L577.5 144.1L541.6 42.3L541.5 46.1Z" fill="url(#s176)" stroke="url(#s176)" stroke-width="0.7"/><path d="M576.6 153.6L577.1 148.9L541.5 46.1L541.2 49.9Z" fill="url(#s177)" stroke="url(#s177)" stroke-width="0.7"/><path d="M575.8 158.4L576.6 153.6L541.2 49.9L540.7 53.7Z" fill="url(#s178)" stroke="url(#s178)" stroke-width="0.7"/><path d="M574.6 163.0L575.8 158.4L540.7 53.7L539.8 57.2Z" fill="url(#s179)" stroke="url(#s179)" stroke-width="0.7"/><path d="M572.7 166.8L574.6 163.0L539.8 57.2L538.5 60.0Z" fill="url(#s180)" stroke="url(#s180)" stroke-width="0.7"/><path d="M570.4 169.1L572.7 166.8L538.5 60.0L536.7 61.5Z" fill="url(#s181)" stroke="url(#s181)" stroke-width="0.7"/><path d="M538.3 66.5L539.2 65.9L540.0 65.0L540.8 63.8L541.5 62.2L542.3 58.6L542.8 54.8L543.2 49.1L543.5 41.3L543.5 19.3M539.9 71.7L540.8 71.1L541.7 70.1L542.4 69.0L543.1 67.3L544.0 63.6L544.5 59.7L544.9 54.0L545.2 46.1L545.3 23.8M541.6 77.0L542.5 76.4L543.4 75.4L544.1 74.3L544.9 72.5L545.8 68.8L546.3 64.9L546.7 59.1L547.0 51.1L547.1 28.5M543.3 82.6L544.3 82.0L545.2 81.0L545.9 79.8L546.7 78.0L547.6 74.2L548.1 70.3L548.6 64.4L548.9 56.2L549.1 33.4M545.1 88.4L546.1 87.7L547.0 86.7L547.8 85.4L548.5 83.7L549.5 79.9L550.0 75.8L550.5 69.9L550.8 61.6L551.0 38.4M547.0 94.3L548.0 93.7L548.9 92.6L549.7 91.4L550.4 89.5L551.4 85.7L552.0 81.6L552.5 75.5L552.8 67.2L553.1 43.7M549.0 100.5L549.9 99.8L550.9 98.8L551.7 97.5L552.5 95.6L553.4 91.7L554.0 87.5L554.5 81.4L554.9 72.9L555.2 49.1M551.0 107.0L552.0 106.3L552.9 105.2L553.7 103.8L554.5 102.0L555.5 98.0L556.1 93.8L556.7 87.5L557.1 78.9L557.5 54.8M553.1 113.7L554.1 112.9L555.1 111.8L555.9 110.5L556.7 108.5L557.7 104.5L558.4 100.2L558.9 93.9L559.3 85.2L559.8 60.7M555.2 120.6L556.3 119.9L557.3 118.7L558.1 117.3L558.9 115.4L560.0 111.2L560.6 106.9L561.2 100.5L561.7 91.7L562.2 66.8M557.5 127.9L558.5 127.1L559.6 125.9L560.4 124.5L561.3 122.5L562.4 118.3L563.0 113.9L563.6 107.4L564.1 98.5L564.7 73.3M559.9 135.4L560.9 134.6L562.0 133.4L562.8 132.0L563.7 129.9L564.8 125.6L565.5 121.2L566.1 114.6L566.6 105.5L567.3 79.9M562.3 143.3L563.4 142.5L564.5 141.2L565.4 139.7L566.2 137.7L567.4 133.3L568.1 128.8L568.8 122.1L569.3 112.9L570.1 86.9M564.9 151.5L566.0 150.6L567.1 149.3L568.0 147.8L568.9 145.7L570.1 141.3L570.8 136.7L571.5 129.9L572.1 120.6L573.0 94.3M567.6 160.1L568.7 159.2L569.8 157.9L570.7 156.3L571.7 154.2L572.9 149.6L573.6 145.0L574.3 138.1L575.0 128.6L576.0 101.9M567.2 158.7L568.8 159.5L570.5 159.9L571.9 159.8L573.3 159.1L574.2 158.1L575.1 156.4L575.7 154.9L577.1 148.8M563.5 146.9L565.1 147.6L566.6 148.0L568.0 147.8L569.3 147.1L570.2 146.1L571.1 144.4L572.2 140.8L573.3 135.0L574.1 126.3L574.9 114.8L575.5 100.6M560.0 135.7L561.5 136.4L563.0 136.7L564.3 136.6L565.6 135.8L566.5 134.8L567.3 133.1L568.4 129.6L569.4 123.8L570.2 115.3L570.8 104.0L571.3 90.1M556.7 125.2L558.2 125.9L559.7 126.2L560.9 126.0L562.1 125.2L563.0 124.2L563.8 122.5L564.8 119.0L565.7 113.3L566.4 104.9L567.4 80.2M553.6 115.3L555.0 115.9L556.5 116.2L557.7 115.9L558.9 115.1L559.6 114.1L560.4 112.5L561.4 109.0L562.2 103.4L562.9 95.2L563.8 70.9M550.6 105.9L552.0 106.5L553.4 106.7L554.6 106.5L555.7 105.6L556.5 104.6L557.2 103.0L558.1 99.6L558.9 94.1L559.6 85.9L560.3 62.1M547.9 97.0L549.2 97.6L550.5 97.7L551.7 97.5L552.8 96.7L553.5 95.7L554.2 94.0L555.1 90.7L555.9 85.2L556.4 77.2L557.1 53.8M545.2 88.6L546.5 89.1L547.8 89.2L548.9 89.0L550.0 88.1L550.7 87.1L551.4 85.5L552.2 82.2L552.9 76.8L553.5 69.0L554.0 46.0M542.7 80.6L544.0 81.0L545.2 81.2L546.3 80.9L547.3 80.0L548.0 79.0L548.7 77.5L549.5 74.2L550.1 68.9L550.6 61.2L551.1 38.6M540.3 72.9L541.5 73.4L542.8 73.5L543.8 73.2L544.8 72.4L545.5 71.4L546.1 69.8L546.9 66.5L547.5 61.3L548.0 53.7L548.4 31.6M538.0 65.7L539.2 66.1L540.4 66.2L541.4 65.9L542.4 65.0L543.0 64.0L543.6 62.5L544.4 59.3L545.0 54.1L545.4 46.7L545.7 24.9M540.1 58.0L540.7 57.1L541.7 54.2L542.6 47.3L543.1 36.2L543.2 18.5" fill="none" stroke="#000" stroke-opacity="0.5" stroke-width="0.4"/><path d="M579.1 109.9L541.8 14.9" stroke="#fff" stroke-opacity="0.55" stroke-width="0.5" stroke-dasharray="1.6 1.8"/><path d="M567.7 168.4L569.0 169.6L570.4 169.1L536.7 61.5L535.0 61.7Z" fill="url(#s182)" stroke="url(#s182)" stroke-width="0.7"/><path d="M564.9 164.2L567.7 168.4L535.0 61.7L533.4 60.3Z" fill="url(#s183)" stroke="url(#s183)" stroke-width="0.7"/><path d="M563.1 159.4L564.9 164.2L533.4 60.3L532.4 57.6Z" fill="url(#s184)" stroke="url(#s184)" stroke-width="0.7"/><path d="M562.0 154.4L563.1 159.4L532.4 57.6L531.6 54.4Z" fill="url(#s185)" stroke="url(#s185)" stroke-width="0.7"/><path d="M561.2 149.5L562.0 154.4L531.6 54.4L531.1 50.9Z" fill="url(#s186)" stroke="url(#s186)" stroke-width="0.7"/><path d="M560.7 144.7L561.2 149.5L531.1 50.9L530.7 47.2Z" fill="url(#s187)" stroke="url(#s187)" stroke-width="0.7"/><path d="M560.3 139.9L560.7 144.7L530.7 47.2L530.4 43.5Z" fill="url(#s188)" stroke="url(#s188)" stroke-width="0.7"/><path d="M559.9 135.0L560.3 139.9L530.4 43.5L530.1 39.7Z" fill="url(#s189)" stroke="url(#s189)" stroke-width="0.7"/><path d="M559.7 130.1L559.9 135.0L530.1 39.7L529.8 35.9Z" fill="url(#s190)" stroke="url(#s190)" stroke-width="0.7"/><path d="M559.4 125.2L559.7 130.1L529.8 35.9L529.5 32.0Z" fill="url(#s191)" stroke="url(#s191)" stroke-width="0.7"/><path d="M559.2 120.3L559.4 125.2L529.5 32.0L529.3 28.1Z" fill="url(#s192)" stroke="url(#s192)" stroke-width="0.7"/><path d="M559.0 115.3L559.2 120.3L529.3 28.1L529.1 24.2Z" fill="url(#s193)" stroke="url(#s193)" stroke-width="0.7"/><path d="M558.9 110.3L559.0 115.3L529.1 24.2L528.9 20.2Z" fill="url(#s194)" stroke="url(#s194)" stroke-width="0.7"/><path d="M530.4 24.7L531.7 46.6L532.4 54.1L533.1 59.3L533.9 62.6L534.9 65.3L535.7 66.3L536.5 66.7L537.4 66.8L538.3 66.5M531.9 29.5L533.3 51.6L534.0 59.2L534.7 64.5L535.4 67.8L536.5 70.5L537.3 71.5L538.1 71.9L539.0 72.0L539.9 71.7M533.6 34.4L534.9 56.8L535.6 64.5L536.3 69.8L537.1 73.2L538.2 75.9L539.0 76.9L539.8 77.3L540.7 77.3L541.6 77.0M535.3 39.4L536.6 62.1L537.3 70.0L538.0 75.4L538.7 78.8L539.8 81.5L540.7 82.5L541.5 82.9L542.4 82.9L543.3 82.6M537.0 44.7L538.3 67.7L539.0 75.6L539.7 81.1L540.5 84.5L541.6 87.3L542.4 88.3L543.2 88.7L544.2 88.7L545.1 88.4M538.9 50.2L540.1 73.5L540.8 81.5L541.5 87.1L542.3 90.5L543.4 93.3L544.3 94.3L545.1 94.7L546.1 94.7L547.0 94.3M540.8 56.0L542.0 79.6L542.7 87.7L543.4 93.2L544.2 96.7L545.3 99.6L546.2 100.5L547.0 100.9L548.0 100.9L549.0 100.5M542.7 61.9L544.0 85.8L544.6 94.0L545.4 99.7L546.1 103.2L547.3 106.0L548.1 107.0L549.0 107.4L550.0 107.4L551.0 107.0M544.8 68.1L546.0 92.3L546.7 100.6L547.4 106.4L548.2 109.9L549.3 112.8L550.2 113.7L551.0 114.1L552.1 114.1L553.1 113.7M547.0 74.6L548.1 99.1L548.8 107.5L549.5 113.3L550.3 116.9L551.4 119.8L552.3 120.7L553.2 121.1L554.2 121.1L555.2 120.6M549.2 81.3L550.3 106.2L551.0 114.7L551.7 120.6L552.5 124.2L553.7 127.1L554.6 128.0L555.4 128.4L556.5 128.3L557.5 127.9M551.6 88.4L552.6 113.6L553.3 122.2L554.0 128.1L554.8 131.8L556.0 134.7L556.9 135.7L557.8 136.0L558.8 135.9L559.9 135.4M554.0 95.8L555.0 121.4L555.7 130.1L556.4 136.0L557.2 139.7L557.8 141.5L558.4 142.6L559.3 143.6L560.2 143.9L561.3 143.8L562.3 143.3M556.6 103.5L557.6 129.4L558.2 138.3L558.9 144.3L559.7 148.0L560.3 149.8L560.9 150.9L561.8 151.9L562.7 152.2L563.8 152.1L564.9 151.5M560.5 142.4L561.5 152.9L562.3 156.7L562.9 158.5L563.5 159.6L564.4 160.5L565.4 160.8L566.5 160.7L567.6 160.1M555.2 99.2L556.4 125.9L557.3 135.4L558.3 142.4L559.4 147.2L561.2 151.9L562.5 154.3L563.9 156.0L565.5 157.6L567.2 158.7M551.7 88.7L553.0 114.9L553.9 124.2L554.9 131.0L556.0 135.7L557.7 140.4L559.0 142.6L560.3 144.3L561.9 145.8L563.5 146.9M548.4 78.9L549.8 104.5L550.7 113.7L551.6 120.4L552.7 125.0L554.4 129.5L555.7 131.7L556.9 133.3L558.5 134.7L560.0 135.7M545.3 69.7L546.8 94.8L547.6 103.8L548.6 110.3L549.6 114.8L551.3 119.2L552.5 121.3L553.7 122.9L555.2 124.2L556.7 125.2M542.4 61.0L543.9 85.6L544.8 94.4L545.7 100.8L546.7 105.2L548.3 109.5L549.5 111.6L550.7 113.1L552.2 114.4L553.6 115.3M539.7 52.7L541.2 76.9L542.0 85.5L543.0 91.8L544.0 96.1L545.5 100.3L546.7 102.3L547.9 103.8L549.3 105.0L550.6 105.9M537.1 45.0L538.6 68.7L539.5 77.1L540.4 83.3L541.4 87.5L542.9 91.6L544.0 93.5L545.2 95.0L546.5 96.2L547.9 97.0M534.7 37.6L536.2 60.8L537.0 69.2L538.0 75.2L538.9 79.3L540.4 83.3L541.5 85.2L542.6 86.6L543.9 87.8L545.2 88.6M532.3 30.6L533.9 53.4L534.7 61.6L535.6 67.5L536.6 71.6L538.0 75.5L539.1 77.3L540.2 78.6L541.4 79.8L542.7 80.6M530.1 24.0L531.7 46.4L532.5 54.4L533.4 60.2L534.3 64.2L535.8 68.0L536.8 69.8L537.8 71.1L539.1 72.2L540.3 72.9M532.9 59.3L534.6 62.6L535.6 63.9L536.8 65.0L538.0 65.7" fill="none" stroke="#000" stroke-opacity="0.5" stroke-width="0.4"/><path d="M555.2 113.3L555.3 108.4L526.9 21.0L527.0 25.0Z" fill="url(#s195)" stroke="url(#s195)" stroke-width="0.7"/><path d="M555.1 118.1L555.2 113.3L527.0 25.0L527.1 29.0Z" fill="url(#s196)" stroke="url(#s196)" stroke-width="0.7"/><path d="M555.0 122.8L555.1 118.1L527.1 29.0L527.2 33.0Z" fill="url(#s197)" stroke="url(#s197)" stroke-width="0.7"/><path d="M554.9 127.5L555.0 122.8L527.2 33.0L527.2 37.0Z" fill="url(#s198)" stroke="url(#s198)" stroke-width="0.7"/><path d="M554.7 132.0L554.9 127.5L527.2 37.0L527.2 41.0Z" fill="url(#s199)" stroke="url(#s199)" stroke-width="0.7"/><path d="M554.5 136.5L554.7 132.0L527.2 41.0L527.2 44.9Z" fill="url(#s200)" stroke="url(#s200)" stroke-width="0.7"/><path d="M554.1 140.9L554.5 136.5L527.2 44.9L527.1 48.8Z" fill="url(#s201)" stroke="url(#s201)" stroke-width="0.7"/><path d="M553.7 145.1L554.1 140.9L527.1 48.8L527.0 52.7Z" fill="url(#s202)" stroke="url(#s202)" stroke-width="0.7"/><path d="M553.0 149.1L553.7 145.1L527.0 52.7L526.8 56.6Z" fill="url(#s203)" stroke="url(#s203)" stroke-width="0.7"/><path d="M552.0 152.7L553.0 149.1L526.8 56.6L526.3 60.5Z" fill="url(#s204)" stroke="url(#s204)" stroke-width="0.7"/><path d="M550.3 155.4L552.0 152.7L526.3 60.5L525.5 64.1Z" fill="url(#s205)" stroke="url(#s205)" stroke-width="0.7"/><path d="M547.7 156.2L550.3 155.4L525.5 64.1L524.0 66.9Z" fill="url(#s206)" stroke="url(#s206)" stroke-width="0.7"/><path d="M544.6 155.1L547.7 156.2L524.0 66.9L522.2 68.4Z" fill="url(#s207)" stroke="url(#s207)" stroke-width="0.7"/><path d="M523.6 73.7L524.5 73.1L525.4 72.1L526.2 70.9L526.9 69.2L527.7 65.6L528.2 61.7L528.5 55.9L528.7 47.9L528.4 25.5M525.0 79.1L525.9 78.5L526.9 77.5L527.6 76.3L528.3 74.6L529.2 70.9L529.7 66.9L530.0 61.1L530.2 53.0L530.0 30.3M526.5 84.7L527.4 84.1L528.3 83.1L529.1 81.9L529.8 80.1L530.7 76.3L531.2 72.3L531.6 66.4L531.8 58.2L531.6 35.2M528.0 90.6L528.9 89.9L529.9 88.9L530.6 87.6L531.4 85.9L532.3 82.0L532.8 78.0L533.2 72.0L533.4 63.7L533.2 40.4M529.5 96.6L530.5 96.0L531.5 94.9L532.3 93.6L533.0 91.8L534.0 87.9L534.5 83.8L534.9 77.7L535.1 69.3L534.9 45.7M531.1 102.9L532.1 102.2L533.1 101.1L533.9 99.8L534.7 98.0L535.7 94.0L536.2 89.9L536.6 83.7L536.8 75.2L536.7 51.2M532.8 109.5L533.8 108.7L534.8 107.6L535.7 106.3L536.5 104.4L537.4 100.4L538.0 96.1L538.4 89.9L538.7 81.3L538.6 57.0M534.6 116.3L535.6 115.5L536.6 114.4L537.5 113.0L538.3 111.1L539.3 107.0L539.9 102.7L540.3 96.4L540.6 87.6L540.6 63.0M536.4 123.3L537.5 122.5L538.5 121.4L539.3 120.0L540.2 118.0L541.2 113.9L541.8 109.5L542.2 103.1L542.5 94.2L542.6 69.2M538.3 130.7L539.4 129.9L540.4 128.7L541.3 127.3L542.1 125.3L543.2 121.0L543.8 116.6L544.3 110.1L544.6 101.1L544.7 75.7M540.3 138.4L541.4 137.5L542.4 136.3L543.3 134.8L544.2 132.8L545.3 128.5L545.9 124.0L546.4 117.4L546.7 108.3L546.9 82.5M542.3 146.4L543.4 145.5L544.5 144.2L545.4 142.7L546.3 140.7L547.4 136.3L548.1 131.7L548.6 125.0L549.0 115.7L549.2 89.7M544.5 154.7L545.6 153.8L546.7 152.5L547.7 151.0L548.6 148.9L549.7 144.4L550.4 139.8L550.9 133.0L551.3 123.6L551.6 97.1M552.4 150.8L553.2 143.5L553.7 134.0L554.2 104.9M541.6 143.4L543.1 144.2L544.6 144.5L545.9 144.4L547.1 143.6L547.9 142.6L548.7 140.9L549.7 137.4L550.5 131.5L551.1 122.9L551.5 111.5L551.7 97.4M538.8 132.5L540.2 133.2L541.7 133.5L542.9 133.3L544.1 132.5L544.9 131.5L545.7 129.9L546.6 126.3L547.3 120.6L547.9 112.1L548.4 87.0M536.1 122.2L537.5 122.8L538.9 123.1L540.1 122.9L541.3 122.1L542.0 121.1L542.7 119.4L543.6 115.9L544.3 110.3L544.8 101.9L545.2 77.3M533.6 112.4L535.0 113.0L536.3 113.2L537.5 113.0L538.6 112.2L539.3 111.2L540.0 109.6L540.8 106.1L541.5 100.5L542.0 92.3L542.2 68.2M531.2 103.2L532.5 103.7L533.9 103.9L535.0 103.7L536.0 102.9L536.7 101.9L537.4 100.2L538.2 96.8L538.8 91.3L539.3 83.3L539.5 59.6M529.0 94.4L530.2 95.0L531.5 95.1L532.6 94.9L533.6 94.0L534.3 93.0L534.9 91.4L535.7 88.1L536.3 82.6L536.7 74.7L536.8 51.4M526.8 86.1L528.1 86.6L529.3 86.7L530.3 86.5L531.3 85.6L532.0 84.6L532.6 83.0L533.3 79.7L533.9 74.4L534.3 66.6L534.3 43.7M524.8 78.2L526.0 78.7L527.2 78.8L528.2 78.5L529.2 77.7L529.8 76.7L530.4 75.1L531.1 71.8L531.6 66.6L531.9 58.9L532.0 36.4M522.8 70.7L524.0 71.1L525.2 71.2L526.2 70.9L527.1 70.1L527.7 69.1L528.3 67.5L529.0 64.3L529.5 59.1L529.8 51.5L529.7 29.5M526.6 59.0L527.3 53.7L527.6 46.4L527.6 22.9" fill="none" stroke="#000" stroke-opacity="0.5" stroke-width="0.4"/><path d="M555.3 108.4L526.9 21.0" stroke="#fff" stroke-opacity="0.55" stroke-width="0.5" stroke-dasharray="1.6 1.8"/><path d="M541.4 152.4L544.6 155.1L522.2 68.4L520.4 68.6Z" fill="url(#s208)" stroke="url(#s208)" stroke-width="0.7"/><path d="M538.8 148.3L541.4 152.4L520.4 68.6L518.7 67.3Z" fill="url(#s209)" stroke="url(#s209)" stroke-width="0.7"/><path d="M537.0 143.6L538.8 148.3L518.7 67.3L517.6 64.6Z" fill="url(#s210)" stroke="url(#s210)" stroke-width="0.7"/><path d="M535.8 138.9L537.0 143.6L517.6 64.6L516.8 61.3Z" fill="url(#s211)" stroke="url(#s211)" stroke-width="0.7"/><path d="M535.0 134.1L535.8 138.9L516.8 61.3L516.2 57.7Z" fill="url(#s212)" stroke="url(#s212)" stroke-width="0.7"/><path d="M534.4 129.4L535.0 134.1L516.2 57.7L515.7 54.0Z" fill="url(#s213)" stroke="url(#s213)" stroke-width="0.7"/><path d="M533.8 124.7L534.4 129.4L515.7 54.0L515.3 50.2Z" fill="url(#s214)" stroke="url(#s214)" stroke-width="0.7"/><path d="M533.4 120.0L533.8 124.7L515.3 50.2L514.9 46.4Z" fill="url(#s215)" stroke="url(#s215)" stroke-width="0.7"/><path d="M533.0 115.2L533.4 120.0L514.9 46.4L514.5 42.5Z" fill="url(#s216)" stroke="url(#s216)" stroke-width="0.7"/><path d="M532.7 110.4L533.0 115.2L514.5 42.5L514.2 38.6Z" fill="url(#s217)" stroke="url(#s217)" stroke-width="0.7"/><path d="M532.3 105.6L532.7 110.4L514.2 38.6L513.9 34.6Z" fill="url(#s218)" stroke="url(#s218)" stroke-width="0.7"/><path d="M532.0 100.8L532.3 105.6L513.9 34.6L513.6 30.6Z" fill="url(#s219)" stroke="url(#s219)" stroke-width="0.7"/><path d="M531.7 95.9L532.0 100.8L513.6 30.6L513.3 26.5Z" fill="url(#s220)" stroke="url(#s220)" stroke-width="0.7"/><path d="M514.6 31.3L516.3 53.5L517.2 61.2L518.1 66.5L518.9 69.8L520.0 72.5L520.9 73.5L521.7 73.9L522.7 74.0L523.6 73.7M515.9 36.3L517.7 58.8L518.5 66.5L519.4 71.9L520.2 75.3L521.4 78.0L522.2 79.0L523.1 79.4L524.1 79.4L525.0 79.1M517.3 41.4L519.0 64.2L519.9 72.1L520.8 77.5L521.6 80.9L522.8 83.7L523.7 84.6L524.5 85.0L525.5 85.1L526.5 84.7M518.7 46.8L520.5 69.9L521.3 77.8L522.2 83.3L523.0 86.8L524.2 89.5L525.1 90.5L526.0 90.9L527.0 90.9L528.0 90.6M520.2 52.4L521.9 75.8L522.8 83.8L523.7 89.4L524.5 92.8L525.7 95.6L526.6 96.6L527.5 97.0L528.5 97.0L529.5 96.6M521.7 58.2L523.5 81.9L524.3 90.0L525.2 95.6L526.1 99.1L527.3 102.0L528.2 102.9L529.1 103.3L530.1 103.3L531.1 102.9M523.3 64.2L525.1 88.2L525.9 96.5L526.8 102.2L527.7 105.7L528.9 108.5L529.9 109.5L530.7 109.9L531.8 109.9L532.8 109.5M525.0 70.5L526.7 94.9L527.6 103.2L528.5 108.9L529.3 112.5L530.6 115.4L531.6 116.3L532.5 116.7L533.5 116.7L534.6 116.3M526.7 77.1L528.4 101.8L529.3 110.2L530.2 116.0L531.1 119.6L532.4 122.5L533.3 123.5L534.3 123.8L535.3 123.8L536.4 123.3M528.5 84.0L530.3 109.0L531.1 117.5L532.0 123.4L532.9 127.0L533.6 128.8L534.2 129.9L535.2 130.9L536.1 131.2L537.2 131.2L538.3 130.7M530.5 91.1L532.1 116.5L533.0 125.1L533.9 131.1L534.8 134.7L535.5 136.5L536.1 137.7L537.1 138.6L538.1 138.9L539.2 138.9L540.3 138.4M536.3 141.2L537.5 144.6L538.1 145.7L539.1 146.7L540.1 147.0L541.2 146.9L542.3 146.4M529.0 85.7L530.9 111.7L532.0 121.0L533.1 127.7L534.2 132.4L536.0 137.0L537.3 139.2L538.5 140.9L540.1 142.4L541.6 143.4M526.4 76.0L528.4 101.5L529.4 110.6L530.5 117.3L531.6 121.8L533.3 126.3L534.6 128.5L535.8 130.1L537.3 131.5L538.8 132.5M524.0 67.0L526.0 91.9L527.0 100.9L528.1 107.4L529.2 111.8L530.8 116.2L532.0 118.3L533.3 119.8L534.7 121.2L536.1 122.2M521.8 58.4L523.7 82.9L524.7 91.7L525.8 98.0L526.9 102.4L528.5 106.6L529.7 108.7L530.8 110.2L532.2 111.5L533.6 112.4M519.6 50.3L521.6 74.4L522.6 82.9L523.6 89.2L524.7 93.5L526.2 97.6L527.4 99.6L528.5 101.0L529.9 102.3L531.2 103.2M517.6 42.7L519.5 66.3L520.5 74.7L521.6 80.8L522.6 85.0L524.1 89.0L525.2 91.0L526.3 92.4L527.7 93.6L529.0 94.4M515.7 35.5L517.6 58.6L518.6 66.8L519.6 72.8L520.6 76.9L522.1 80.9L523.2 82.8L524.3 84.1L525.5 85.3L526.8 86.1M513.9 28.6L515.8 51.3L516.8 59.4L517.8 65.3L518.7 69.3L520.2 73.2L521.3 75.0L522.3 76.3L523.5 77.5L524.8 78.2M520.4 68.9L521.6 70.0L522.8 70.7" fill="none" stroke="#000" stroke-opacity="0.5" stroke-width="0.4"/><path d="M528.5 98.9L528.4 94.2L511.3 27.3L511.4 31.4Z" fill="url(#s221)" stroke="url(#s221)" stroke-width="0.7"/><path d="M528.6 103.6L528.5 98.9L511.4 31.4L511.6 35.5Z" fill="url(#s222)" stroke="url(#s222)" stroke-width="0.7"/><path d="M528.6 108.2L528.6 103.6L511.6 35.5L511.7 39.6Z" fill="url(#s223)" stroke="url(#s223)" stroke-width="0.7"/><path d="M528.6 112.8L528.6 108.2L511.7 39.6L511.8 43.7Z" fill="url(#s224)" stroke="url(#s224)" stroke-width="0.7"/><path d="M528.6 117.2L528.6 112.8L511.8 43.7L511.9 47.7Z" fill="url(#s225)" stroke="url(#s225)" stroke-width="0.7"/><path d="M528.5 121.6L528.6 117.2L511.9 47.7L511.9 51.7Z" fill="url(#s226)" stroke="url(#s226)" stroke-width="0.7"/><path d="M528.3 125.9L528.5 121.6L511.9 51.7L511.9 55.7Z" fill="url(#s227)" stroke="url(#s227)" stroke-width="0.7"/><path d="M528.1 130.0L528.3 125.9L511.9 55.7L511.9 59.7Z" fill="url(#s228)" stroke="url(#s228)" stroke-width="0.7"/><path d="M527.6 134.0L528.1 130.0L511.9 59.7L511.7 63.6Z" fill="url(#s229)" stroke="url(#s229)" stroke-width="0.7"/><path d="M526.8 137.5L527.6 134.0L511.7 63.6L511.2 67.5Z" fill="url(#s230)" stroke="url(#s230)" stroke-width="0.7"/><path d="M525.3 140.2L526.8 137.5L511.2 67.5L510.4 71.2Z" fill="url(#s231)" stroke="url(#s231)" stroke-width="0.7"/><path d="M523.0 141.1L525.3 140.2L510.4 71.2L508.9 74.1Z" fill="url(#s232)" stroke="url(#s232)" stroke-width="0.7"/><path d="M520.1 140.1L523.0 141.1L508.9 74.1L507.1 75.7Z" fill="url(#s233)" stroke="url(#s233)" stroke-width="0.7"/><path d="M508.2 81.2L509.1 80.6L510.1 79.6L510.8 78.4L511.6 76.6L512.4 72.9L512.9 68.9L513.1 63.1L513.2 54.9L512.5 32.1M509.3 86.9L510.3 86.3L511.3 85.2L512.0 84.0L512.8 82.3L513.7 78.4L514.1 74.4L514.4 68.5L514.4 60.3L513.8 37.1M510.5 92.8L511.5 92.2L512.5 91.1L513.3 89.9L514.0 88.1L514.9 84.2L515.4 80.1L515.7 74.1L515.7 65.8L515.1 42.3M511.8 99.0L512.8 98.3L513.8 97.2L514.6 95.9L515.4 94.1L516.3 90.2L516.7 86.0L517.0 79.9L517.1 71.5L516.5 47.7M513.1 105.4L514.1 104.6L515.1 103.6L515.9 102.2L516.7 100.4L517.6 96.4L518.1 92.2L518.4 86.0L518.5 77.4L518.0 53.4M514.4 112.0L515.5 111.3L516.5 110.1L517.3 108.8L518.1 106.9L519.1 102.8L519.6 98.6L519.9 92.3L520.0 83.6L519.5 59.2M515.8 118.9L516.9 118.1L517.9 117.0L518.8 115.6L519.6 113.7L520.6 109.5L521.1 105.2L521.4 98.9L521.5 90.1L521.0 65.3M517.3 126.1L518.4 125.3L519.4 124.1L520.3 122.7L521.1 120.7L522.1 116.5L522.6 112.1L523.0 105.7L523.1 96.8L522.7 71.6M518.8 133.5L519.9 132.7L521.0 131.5L521.9 130.1L522.7 128.1L523.7 123.8L524.3 119.3L524.6 112.8L524.8 103.7L524.4 78.3M521.5 140.5L522.6 139.2L523.5 137.8L524.4 135.7L525.4 131.4L526.0 126.9L526.4 120.2L526.5 111.0L526.1 85.2M528.2 128.0L528.3 114.0L528.0 92.4M517.9 129.3L519.3 130.0L520.7 130.3L521.9 130.1L523.0 129.3L523.7 128.3L524.4 126.6L525.1 123.1L525.7 117.4L526.0 108.9L525.8 84.0M515.9 119.2L517.2 119.8L518.6 120.0L519.7 119.8L520.7 119.0L521.4 118.0L522.1 116.4L522.8 112.9L523.4 107.3L523.6 98.9L523.4 74.5M513.9 109.6L515.2 110.2L516.5 110.4L517.6 110.1L518.6 109.3L519.3 108.3L519.9 106.7L520.6 103.3L521.1 97.7L521.4 89.5L521.1 65.5M512.1 100.5L513.4 101.0L514.6 101.2L515.7 101.0L516.7 100.2L517.3 99.1L517.9 97.5L518.6 94.1L519.1 88.6L519.3 80.6L518.9 57.1M510.3 91.9L511.6 92.4L512.8 92.5L513.8 92.3L514.8 91.5L515.4 90.4L516.0 88.8L516.6 85.5L517.1 80.1L517.3 72.2L516.9 49.0M508.7 83.7L509.9 84.2L511.1 84.3L512.0 84.0L513.0 83.2L513.6 82.2L514.1 80.6L514.8 77.3L515.2 72.0L515.4 64.2L514.9 41.5M507.1 75.9L508.3 76.4L509.4 76.5L510.4 76.2L511.3 75.3L511.9 74.3L512.4 72.8L513.0 69.5L513.4 64.3L513.5 56.6L513.1 34.3M511.6 35.6L511.3 27.5" fill="none" stroke="#000" stroke-opacity="0.5" stroke-width="0.4"/><path d="M528.4 94.2L511.3 27.3" stroke="#fff" stroke-opacity="0.55" stroke-width="0.5" stroke-dasharray="1.6 1.8"/><path d="M517.2 137.5L520.1 140.1L507.1 75.7L505.1 75.9Z" fill="url(#s234)" stroke="url(#s234)" stroke-width="0.7"/><path d="M514.6 133.7L517.2 137.5L505.1 75.9L503.3 74.6Z" fill="url(#s235)" stroke="url(#s235)" stroke-width="0.7"/><path d="M512.9 129.1L514.6 133.7L503.3 74.6L502.1 71.8Z" fill="url(#s236)" stroke="url(#s236)" stroke-width="0.7"/><path d="M511.7 124.5L512.9 129.1L502.1 71.8L501.2 68.5Z" fill="url(#s237)" stroke="url(#s237)" stroke-width="0.7"/><path d="M510.8 119.9L511.7 124.5L501.2 68.5L500.5 64.9Z" fill="url(#s238)" stroke="url(#s238)" stroke-width="0.7"/><path d="M510.1 115.3L510.8 119.9L500.5 64.9L499.9 61.1Z" fill="url(#s239)" stroke="url(#s239)" stroke-width="0.7"/><path d="M509.5 110.7L510.1 115.3L499.9 61.1L499.4 57.3Z" fill="url(#s240)" stroke="url(#s240)" stroke-width="0.7"/><path d="M509.0 106.1L509.5 110.7L499.4 57.3L498.9 53.4Z" fill="url(#s241)" stroke="url(#s241)" stroke-width="0.7"/><path d="M508.5 101.5L509.0 106.1L498.9 53.4L498.5 49.4Z" fill="url(#s242)" stroke="url(#s242)" stroke-width="0.7"/><path d="M508.0 96.8L508.5 101.5L498.5 49.4L498.1 45.4Z" fill="url(#s243)" stroke="url(#s243)" stroke-width="0.7"/><path d="M507.6 92.2L508.0 96.8L498.1 45.4L497.7 41.4Z" fill="url(#s244)" stroke="url(#s244)" stroke-width="0.7"/><path d="M507.2 87.4L507.6 92.2L497.7 41.4L497.4 37.3Z" fill="url(#s245)" stroke="url(#s245)" stroke-width="0.7"/><path d="M506.8 82.7L507.2 87.4L497.4 37.3L497.0 33.1Z" fill="url(#s246)" stroke="url(#s246)" stroke-width="0.7"/><path d="M498.0 38.2L500.2 60.8L501.2 68.6L502.2 74.0L503.1 77.4L504.4 80.1L505.3 81.1L506.2 81.5L507.2 81.5L508.2 81.2M499.0 43.4L501.2 66.3L502.3 74.2L503.3 79.7L504.2 83.1L505.5 85.9L506.4 86.8L507.3 87.2L508.3 87.2L509.3 86.9M500.1 48.9L502.3 72.1L503.4 80.1L504.4 85.6L505.3 89.0L506.6 91.8L507.6 92.8L508.5 93.2L509.5 93.2L510.5 92.8M501.2 54.5L503.5 78.0L504.5 86.1L505.5 91.7L506.5 95.2L507.8 98.0L508.8 98.9L509.7 99.3L510.7 99.3L511.8 99.0M502.4 60.4L504.6 84.2L505.7 92.4L506.7 98.1L507.7 101.6L509.0 104.4L510.0 105.4L510.9 105.8L512.0 105.7L513.1 105.4M503.6 66.6L505.9 90.7L506.9 99.0L508.0 104.7L508.9 108.2L510.3 111.1L511.3 112.0L512.2 112.4L513.3 112.4L514.4 112.0M504.8 73.0L507.1 97.4L508.2 105.8L509.3 111.6L510.2 115.2L511.0 116.9L511.6 118.0L512.6 119.0L513.6 119.4L514.7 119.3L515.8 118.9M506.2 79.6L508.5 104.5L509.6 112.9L510.6 118.8L511.6 122.4L512.3 124.1L513.0 125.3L514.0 126.2L515.0 126.6L516.2 126.5L517.3 126.1M513.8 131.7L514.5 132.8L515.5 133.7L516.5 134.1L517.6 134.0L518.8 133.5M504.9 73.2L507.3 98.6L508.6 107.6L509.8 114.2L510.9 118.7L512.6 123.2L513.9 125.3L515.1 126.9L516.5 128.3L517.9 129.3M503.1 64.3L505.6 89.2L506.8 98.0L507.9 104.5L509.1 108.9L510.7 113.2L511.9 115.3L513.1 116.9L514.5 118.2L515.9 119.2M501.5 55.9L503.9 80.3L505.1 89.0L506.2 95.3L507.3 99.6L508.9 103.9L510.1 105.9L511.3 107.4L512.6 108.7L513.9 109.6M499.9 48.0L502.3 71.9L503.4 80.4L504.6 86.6L505.7 90.8L507.2 95.0L508.4 96.9L509.5 98.4L510.8 99.6L512.1 100.5M498.4 40.5L500.8 63.9L501.9 72.3L503.0 78.3L504.1 82.5L505.6 86.5L506.7 88.5L507.8 89.8L509.1 91.0L510.3 91.9M497.0 33.3L499.3 56.3L500.5 64.5L501.5 70.5L502.6 74.6L504.1 78.5L505.2 80.4L506.2 81.7L507.5 82.9L508.7 83.7" fill="none" stroke="#000" stroke-opacity="0.5" stroke-width="0.4"/><path d="M503.9 85.7L503.7 81.1L494.9 34.0L495.1 38.2Z" fill="url(#s247)" stroke="url(#s247)" stroke-width="0.7"/><path d="M504.1 90.3L503.9 85.7L495.1 38.2L495.3 42.4Z" fill="url(#s248)" stroke="url(#s248)" stroke-width="0.7"/><path d="M504.3 94.8L504.1 90.3L495.3 42.4L495.5 46.5Z" fill="url(#s249)" stroke="url(#s249)" stroke-width="0.7"/><path d="M504.4 99.2L504.3 94.8L495.5 46.5L495.7 50.7Z" fill="url(#s250)" stroke="url(#s250)" stroke-width="0.7"/><path d="M504.5 103.6L504.4 99.2L495.7 50.7L495.8 54.8Z" fill="url(#s251)" stroke="url(#s251)" stroke-width="0.7"/><path d="M504.6 107.9L504.5 103.6L495.8 54.8L495.9 58.8Z" fill="url(#s252)" stroke="url(#s252)" stroke-width="0.7"/><path d="M504.5 112.1L504.6 107.9L495.9 58.8L496.0 62.9Z" fill="url(#s253)" stroke="url(#s253)" stroke-width="0.7"/><path d="M504.4 116.1L504.5 112.1L496.0 62.9L496.0 66.9Z" fill="url(#s254)" stroke="url(#s254)" stroke-width="0.7"/><path d="M504.1 120.0L504.4 116.1L496.0 66.9L495.8 71.0Z" fill="url(#s255)" stroke="url(#s255)" stroke-width="0.7"/><path d="M503.4 123.5L504.1 120.0L495.8 71.0L495.4 75.0Z" fill="url(#s256)" stroke="url(#s256)" stroke-width="0.7"/><path d="M502.2 126.1L503.4 123.5L495.4 75.0L494.6 78.7Z" fill="url(#s257)" stroke="url(#s257)" stroke-width="0.7"/><path d="M500.1 127.1L502.2 126.1L494.6 78.7L493.1 81.7Z" fill="url(#s258)" stroke="url(#s258)" stroke-width="0.7"/><path d="M497.4 126.2L500.1 127.1L493.1 81.7L491.1 83.3Z" fill="url(#s259)" stroke="url(#s259)" stroke-width="0.7"/><path d="M492.0 89.1L493.0 88.5L494.0 87.4L494.8 86.2L495.5 84.4L496.4 80.6L496.7 76.5L496.9 70.6L496.8 62.3L495.8 39.1M492.9 95.1L493.9 94.4L494.9 93.4L495.7 92.1L496.4 90.3L497.3 86.4L497.7 82.3L497.9 76.3L497.8 67.9L496.8 44.3M493.8 101.4L494.8 100.7L495.8 99.6L496.7 98.3L497.4 96.4L498.3 92.5L498.7 88.3L498.9 82.2L498.9 73.7L497.8 49.8M494.7 107.8L495.8 107.1L496.8 106.0L497.7 104.7L498.5 102.8L499.4 98.8L499.8 94.6L500.0 88.3L499.9 79.7L498.9 55.5M495.7 114.6L496.8 113.8L497.9 112.7L498.7 111.3L499.5 109.4L500.4 105.3L500.9 101.1L501.1 94.7L501.0 86.0L500.0 61.5M496.8 121.6L497.9 120.8L498.9 119.6L499.8 118.2L500.6 116.3L501.6 112.1L502.0 107.8L502.3 101.4L502.2 92.6L501.2 67.6M500.1 126.8L500.9 125.4L501.8 123.4L502.3 121.7L503.0 117.3L503.3 112.8L503.5 105.9L503.3 97.0L502.4 74.1M504.1 90.2L503.7 80.8M496.0 116.2L497.3 116.8L498.5 117.0L499.6 116.8L500.6 116.0L501.2 115.0L501.8 113.4L502.4 109.9L502.8 104.3L502.8 96.0L502.0 71.7M494.6 106.8L495.8 107.3L497.1 107.5L498.1 107.3L499.0 106.5L499.6 105.5L500.2 103.9L500.8 100.4L501.1 94.9L501.2 86.8L500.3 62.9M493.3 97.8L494.5 98.4L495.7 98.5L496.7 98.3L497.6 97.5L498.2 96.5L498.7 94.8L499.3 91.5L499.6 86.0L499.6 78.0L498.7 54.6M492.0 89.4L493.2 89.9L494.4 90.0L495.3 89.7L496.2 88.9L496.8 87.9L497.3 86.3L497.8 83.0L498.1 77.6L498.1 69.7L497.3 46.7M493.1 81.9L494.0 81.6L494.9 80.8L495.5 79.8L496.2 76.8L496.6 73.3L496.8 67.6L496.7 59.8L495.9 39.3" fill="none" stroke="#000" stroke-opacity="0.5" stroke-width="0.4"/><path d="M503.7 81.1L494.9 34.0" stroke="#fff" stroke-opacity="0.55" stroke-width="0.5" stroke-dasharray="1.6 1.8"/><path d="M494.7 123.8L497.4 126.2L491.1 83.3L489.0 83.6Z" fill="url(#s260)" stroke="url(#s260)" stroke-width="0.7"/><path d="M460.8 101.0L461.7 98.3L461.3 91.0L460.5 94.9Z" fill="url(#s261)" stroke="url(#s261)" stroke-width="0.7"/><path d="M461.7 98.3L462.0 95.0L461.6 86.8L461.3 91.0Z" fill="url(#s262)" stroke="url(#s262)" stroke-width="0.7"/><path d="M462.0 95.0L462.1 91.2L461.7 82.6L461.6 86.8Z" fill="url(#s263)" stroke="url(#s263)" stroke-width="0.7"/><path d="M492.3 120.1L494.7 123.8L489.0 83.6L487.2 82.2Z" fill="url(#s264)" stroke="url(#s264)" stroke-width="0.7"/><path d="M462.1 91.2L462.0 87.3L461.5 78.5L461.7 82.6Z" fill="url(#s265)" stroke="url(#s265)" stroke-width="0.7"/><path d="M462.0 87.3L461.8 83.3L461.3 74.2L461.5 78.5Z" fill="url(#s266)" stroke="url(#s266)" stroke-width="0.7"/><path d="M461.8 83.3L461.6 79.2L461.1 70.0L461.3 74.2Z" fill="url(#s267)" stroke="url(#s267)" stroke-width="0.7"/><path d="M461.6 79.2L461.3 75.1L460.8 65.8L461.1 70.0Z" fill="url(#s268)" stroke="url(#s268)" stroke-width="0.7"/><path d="M461.3 75.1L461.0 70.8L460.5 61.5L460.8 65.8Z" fill="url(#s269)" stroke="url(#s269)" stroke-width="0.7"/><path d="M461.0 70.8L460.6 66.5L460.1 57.2L460.5 61.5Z" fill="url(#s270)" stroke="url(#s270)" stroke-width="0.7"/><path d="M460.6 66.5L460.2 62.2L459.7 52.8L460.1 57.2Z" fill="url(#s271)" stroke="url(#s271)" stroke-width="0.7"/><path d="M460.2 62.2L459.8 57.8L459.3 48.4L459.7 52.8Z" fill="url(#s272)" stroke="url(#s272)" stroke-width="0.7"/><path d="M461.3 99.5L461.6 97.2L461.9 93.0L461.9 84.5L461.1 71.6L459.6 54.1M461.6 80.9L461.0 68.9L459.4 49.8" fill="none" stroke="#000" stroke-opacity="0.5" stroke-width="0.4"/><path d="M459.8 57.8L459.3 48.4" stroke="#fff" stroke-opacity="0.55" stroke-width="0.5" stroke-dasharray="1.6 1.8"/><path d="M490.6 115.7L492.3 120.1L487.2 82.2L485.8 79.5Z" fill="url(#s273)" stroke="url(#s273)" stroke-width="0.7"/><path d="M489.4 111.2L490.6 115.7L485.8 79.5L484.8 76.1Z" fill="url(#s274)" stroke="url(#s274)" stroke-width="0.7"/><path d="M488.4 106.7L489.4 111.2L484.8 76.1L484.0 72.4Z" fill="url(#s275)" stroke="url(#s275)" stroke-width="0.7"/><path d="M487.7 102.2L488.4 106.7L484.0 72.4L483.3 68.6Z" fill="url(#s276)" stroke="url(#s276)" stroke-width="0.7"/><path d="M462.4 59.2L463.0 63.7L462.2 51.8L461.7 47.5Z" fill="url(#s277)" stroke="url(#s277)" stroke-width="0.7"/><path d="M463.0 63.7L463.6 68.2L462.8 56.0L462.2 51.8Z" fill="url(#s278)" stroke="url(#s278)" stroke-width="0.7"/><path d="M487.0 97.8L487.7 102.2L483.3 68.6L482.7 64.7Z" fill="url(#s279)" stroke="url(#s279)" stroke-width="0.7"/><path d="M463.6 68.2L464.2 72.6L463.4 60.2L462.8 56.0Z" fill="url(#s280)" stroke="url(#s280)" stroke-width="0.7"/><path d="M464.2 72.6L464.8 77.0L463.9 64.4L463.4 60.2Z" fill="url(#s281)" stroke="url(#s281)" stroke-width="0.7"/><path d="M486.4 93.3L487.0 97.8L482.7 64.7L482.2 60.7Z" fill="url(#s282)" stroke="url(#s282)" stroke-width="0.7"/><path d="M464.8 77.0L465.4 81.4L464.6 68.5L463.9 64.4Z" fill="url(#s283)" stroke="url(#s283)" stroke-width="0.7"/><path d="M485.8 88.8L486.4 93.3L482.2 60.7L481.7 56.7Z" fill="url(#s284)" stroke="url(#s284)" stroke-width="0.7"/><path d="M465.4 81.4L466.1 85.8L465.2 72.5L464.6 68.5Z" fill="url(#s285)" stroke="url(#s285)" stroke-width="0.7"/><path d="M485.2 84.3L485.8 88.8L481.7 56.7L481.2 52.6Z" fill="url(#s286)" stroke="url(#s286)" stroke-width="0.7"/><path d="M484.7 79.7L485.2 84.3L481.2 52.6L480.7 48.5Z" fill="url(#s287)" stroke="url(#s287)" stroke-width="0.7"/><path d="M466.1 85.8L466.8 90.1L465.9 76.5L465.2 72.5Z" fill="url(#s288)" stroke="url(#s288)" stroke-width="0.7"/><path d="M484.2 75.1L484.7 79.7L480.7 48.5L480.3 44.3Z" fill="url(#s289)" stroke="url(#s289)" stroke-width="0.7"/><path d="M483.7 70.5L484.2 75.1L480.3 44.3L479.8 40.1Z" fill="url(#s290)" stroke="url(#s290)" stroke-width="0.7"/><path d="M480.5 45.4L483.2 68.5L484.4 76.4L485.5 81.9L486.5 85.3L488.0 88.1L488.9 89.0L489.9 89.4L490.9 89.5L492.0 89.1M481.2 51.0L483.9 74.3L485.2 82.3L486.3 87.8L487.3 91.3L488.8 94.1L489.8 95.1L490.7 95.5L491.8 95.5L492.9 95.1M481.9 56.7L484.7 80.3L486.0 88.5L487.1 94.1L488.2 97.6L489.6 100.4L490.6 101.3L491.6 101.7L492.7 101.7L493.8 101.4M482.7 62.7L485.5 86.7L486.8 94.9L488.0 100.5L489.0 104.0L490.5 106.9L491.5 107.8L492.5 108.2L493.6 108.2L494.7 107.8M483.5 68.9L486.4 93.2L487.7 101.5L488.8 107.2L489.9 110.8L490.7 112.6L491.4 113.7L492.5 114.6L493.5 115.0L494.6 115.0L495.7 114.6M493.4 121.7L494.5 122.0L495.6 122.0L496.8 121.6M482.6 61.7L485.5 86.4L486.8 95.2L488.1 101.7L489.3 106.1L491.0 110.4L492.2 112.4L493.3 113.9L494.7 115.3L496.0 116.2M481.5 53.5L484.4 77.7L485.7 86.3L486.9 92.6L488.1 96.9L489.7 101.1L490.9 103.1L492.0 104.6L493.3 105.9L494.6 106.8M480.5 45.7L483.3 69.4L484.6 77.9L485.8 84.1L486.9 88.3L488.5 92.4L489.7 94.3L490.8 95.7L492.0 97.0L493.3 97.8M485.3 78.2L486.7 82.4L488.5 86.0L489.6 87.3L490.8 88.5L492.0 89.4" fill="none" stroke="#000" stroke-opacity="0.5" stroke-width="0.4"/><path d="M466.8 90.1L467.7 94.5L466.7 80.4L465.9 76.5Z" fill="url(#s291)" stroke="url(#s291)" stroke-width="0.7"/><path d="M467.7 94.5L468.6 98.9L467.5 84.1L466.7 80.4Z" fill="url(#s292)" stroke="url(#s292)" stroke-width="0.7"/><path d="M468.6 98.9L469.8 103.2L468.7 87.5L467.5 84.1Z" fill="url(#s293)" stroke="url(#s293)" stroke-width="0.7"/><path d="M469.8 103.2L471.5 107.5L470.2 90.3L468.7 87.5Z" fill="url(#s294)" stroke="url(#s294)" stroke-width="0.7"/><path d="M481.2 73.5L480.9 69.0L477.6 41.0L477.9 45.3Z" fill="url(#s295)" stroke="url(#s295)" stroke-width="0.7"/><path d="M481.5 78.0L481.2 73.5L477.9 45.3L478.2 49.6Z" fill="url(#s296)" stroke="url(#s296)" stroke-width="0.7"/><path d="M481.8 82.4L481.5 78.0L478.2 49.6L478.4 53.8Z" fill="url(#s297)" stroke="url(#s297)" stroke-width="0.7"/><path d="M482.0 86.7L481.8 82.4L478.4 53.8L478.7 58.0Z" fill="url(#s298)" stroke="url(#s298)" stroke-width="0.7"/><path d="M482.2 90.9L482.0 86.7L478.7 58.0L478.9 62.2Z" fill="url(#s299)" stroke="url(#s299)" stroke-width="0.7"/><path d="M482.4 95.1L482.2 90.9L478.9 62.2L479.1 66.3Z" fill="url(#s300)" stroke="url(#s300)" stroke-width="0.7"/><path d="M482.5 99.2L482.4 95.1L479.1 66.3L479.2 70.5Z" fill="url(#s301)" stroke="url(#s301)" stroke-width="0.7"/><path d="M482.5 103.2L482.5 99.2L479.2 70.5L479.2 74.6Z" fill="url(#s302)" stroke="url(#s302)" stroke-width="0.7"/><path d="M471.5 107.5L473.8 111.1L472.2 91.7L470.2 90.3Z" fill="url(#s303)" stroke="url(#s303)" stroke-width="0.7"/><path d="M482.3 107.0L482.5 103.2L479.2 74.6L479.1 78.7Z" fill="url(#s304)" stroke="url(#s304)" stroke-width="0.7"/><path d="M481.8 110.4L482.3 107.0L479.1 78.7L478.8 82.8Z" fill="url(#s305)" stroke="url(#s305)" stroke-width="0.7"/><path d="M480.7 113.1L481.8 110.4L478.8 82.8L478.0 86.6Z" fill="url(#s306)" stroke="url(#s306)" stroke-width="0.7"/><path d="M473.8 111.1L476.4 113.3L474.4 91.4L472.2 91.7Z" fill="url(#s307)" stroke="url(#s307)" stroke-width="0.7"/><path d="M462.0 53.1L465.3 76.5L466.7 84.6L468.0 90.1L469.1 93.6L470.7 96.4L471.7 97.4L472.7 97.8L473.8 97.8L474.9 97.4M462.4 58.9L465.7 82.7L467.1 90.8L468.4 96.5L469.6 100.0L471.2 102.8L472.2 103.8L473.3 104.1L474.4 104.1L475.5 103.8M473.8 110.8L475.0 110.7L476.1 110.3M461.9 51.1L465.2 75.1L466.6 83.7L468.0 90.0L469.2 94.3L470.8 98.4L472.0 100.4L473.1 101.9L474.3 103.1L475.6 104.0M471.3 91.8L472.3 93.2L473.5 94.4L474.7 95.2" fill="none" stroke="#000" stroke-opacity="0.5" stroke-width="0.4"/><path d="M478.8 114.1L480.7 113.1L478.0 86.6L476.4 89.6Z" fill="url(#s308)" stroke="url(#s308)" stroke-width="0.7"/><path d="M476.4 113.3L478.8 114.1L476.4 89.6L474.4 91.4Z" fill="url(#s309)" stroke="url(#s309)" stroke-width="0.7"/><path d="M474.9 97.4L476.0 96.8L477.0 95.7L477.8 94.4L478.6 92.6L479.4 88.7L479.8 84.6L479.9 78.5L479.7 70.1L478.2 46.4M475.5 103.8L476.6 103.0L477.6 102.0L478.5 100.7L479.3 98.8L480.1 94.8L480.5 90.7L480.6 84.5L480.3 76.0L478.9 51.9M476.1 110.3L477.2 109.6L478.3 108.5L479.1 107.2L479.9 105.3L480.8 101.2L481.2 97.0L481.3 90.7L481.0 82.1L479.6 57.7M480.6 112.0L481.1 110.2L481.7 106.0L482.0 97.2L481.6 84.0L480.3 63.8M475.6 104.0L476.8 104.6L477.9 104.8L478.9 104.5L479.8 103.7L480.3 102.7L480.8 101.1L481.3 97.7L481.4 92.2L481.3 84.1L479.9 60.3M474.7 95.2L475.9 95.7L477.0 95.9L478.0 95.6L478.8 94.8L479.4 93.8L479.8 92.2L480.3 88.9L480.5 83.4L480.3 75.5L478.9 52.2M478.5 85.4L478.9 83.8L479.3 80.5L479.5 73.1L479.0 61.1L478.0 44.4" fill="none" stroke="#000" stroke-opacity="0.5" stroke-width="0.4"/><path d="M480.9 69.0L477.6 41.0" stroke="#fff" stroke-opacity="0.55" stroke-width="0.5" stroke-dasharray="1.6 1.8"/></g>
<path d="M449.2 48.8L569.3 111.7M569.3 111.7L680.4 45.9M680.4 45.9L562.7 3.2M562.7 3.2L449.2 48.8M455.8 104.0L449.2 48.8M569.0 174.1L569.3 111.7M673.9 100.8L680.4 45.9M455.8 104.0L569.0 174.1M569.0 174.1L673.9 100.8" stroke="#8c8c8c" stroke-width="0.55" fill="none"/>
<path d="M455.8 104.0L459.4 102.3M460.6 107.0L462.6 106.0M465.4 109.9L467.4 108.9M470.3 113.0L472.3 111.9M475.3 116.1L477.3 115.0M480.3 119.2L483.9 117.3M485.5 122.4L487.5 121.3M490.7 125.6L492.8 124.5M496.1 128.9L498.1 127.8M501.6 132.3L503.6 131.2M507.1 135.8L510.7 133.7M512.8 139.3L514.8 138.1M518.5 142.8L520.6 141.6M524.4 146.5L526.5 145.2M530.4 150.2L532.5 148.9M536.5 154.0L540.1 151.7M542.8 157.8L544.8 156.5M549.1 161.8L551.2 160.4M555.6 165.8L557.7 164.4M562.3 169.9L564.3 168.5M569.0 174.1L572.6 171.6M569.0 174.1L565.3 171.7M581.5 165.3L579.4 164.0M593.5 156.9L591.4 155.7M605.0 148.9L602.8 147.7M616.0 141.2L613.9 140.1M626.6 133.8L623.0 131.9M636.8 126.7L634.7 125.6M646.6 119.8L644.5 118.8M656.0 113.3L653.9 112.3M665.1 106.9L663.0 106.0M673.9 100.8L670.3 99.2M455.4 100.4L458.0 102.0M455.0 97.0L456.5 97.9M454.6 93.5L456.1 94.4M454.1 90.0L455.7 90.9M453.7 86.5L455.2 87.4M453.3 82.9L455.9 84.4M452.9 79.3L454.4 80.2M452.4 75.7L454.0 76.6M452.0 72.0L453.5 72.9M451.5 68.4L453.1 69.2M451.1 64.6L453.8 66.1M450.6 60.9L452.2 61.8M450.2 57.1L451.7 58.0M449.7 53.4L451.3 54.2M449.3 49.5L450.8 50.4" stroke="#8c8c8c" stroke-width="0.45" fill="none"/>
<text x="446.1" y="67.1" font-size="7.8" text-anchor="middle" fill="#3a3a3a" font-family="Liberation Sans, Arial, sans-serif">3</text>
<text x="448.3" y="85.6" font-size="7.8" text-anchor="middle" fill="#3a3a3a" font-family="Liberation Sans, Arial, sans-serif">2</text>
<text x="450.4" y="102.6" font-size="7.8" text-anchor="middle" fill="#3a3a3a" font-family="Liberation Sans, Arial, sans-serif">1</text>
<text x="448.3" y="112.6" font-size="7.8" text-anchor="middle" fill="#3a3a3a" font-family="Liberation Sans, Arial, sans-serif">−10</text>
<text x="473.9" y="127.8" font-size="7.8" text-anchor="middle" fill="#3a3a3a" font-family="Liberation Sans, Arial, sans-serif">−5</text>
<text x="502.2" y="143.7" font-size="7.8" text-anchor="middle" fill="#3a3a3a" font-family="Liberation Sans, Arial, sans-serif">0</text>
<text x="530.0" y="161.5" font-size="7.8" text-anchor="middle" fill="#3a3a3a" font-family="Liberation Sans, Arial, sans-serif">5</text>
<text x="560.0" y="181.5" font-size="7.8" text-anchor="middle" fill="#3a3a3a" font-family="Liberation Sans, Arial, sans-serif">10</text>
<text x="575.9" y="181.1" font-size="7.8" text-anchor="middle" fill="#3a3a3a" font-family="Liberation Sans, Arial, sans-serif">0</text>
<text x="632.4" y="141.9" font-size="7.8" text-anchor="middle" fill="#3a3a3a" font-family="Liberation Sans, Arial, sans-serif">5</text>
<text x="681.3" y="109.8" font-size="7.8" text-anchor="middle" fill="#3a3a3a" font-family="Liberation Sans, Arial, sans-serif">10</text>
<text x="490.2" y="154.3" font-size="12" text-anchor="middle" fill="#6e6e6e" font-family="Liberation Sans, Arial, sans-serif" font-style="italic">x</text>
<text x="642.8" y="150.4" font-size="12" text-anchor="middle" fill="#6e6e6e" font-family="Liberation Sans, Arial, sans-serif" font-style="italic">t</text>
<text x="413.5" y="71.8" font-size="11.6" fill="#6e6e6e" font-family="Liberation Sans, Arial, sans-serif">| <tspan font-style="italic">v</tspan><tspan font-size="8.6" dy="2">5</tspan><tspan dy="-2"> |</tspan></text>
<text x="513.3" y="200.3" font-size="12.5" textLength="69.5" lengthAdjust="spacingAndGlyphs" fill="#1a1a1a" font-family="Liberation Serif, Times New Roman, serif">(b) 3D Plot</text>
</svg>
</body></html>
